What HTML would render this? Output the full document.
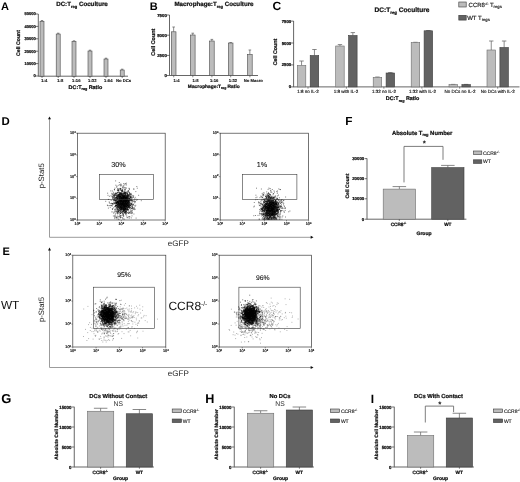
<!DOCTYPE html>
<html><head><meta charset="utf-8"><title>Figure</title>
<style>
html,body{margin:0;padding:0;background:#fff;}
body{width:520px;height:482px;overflow:hidden;font-family:"Liberation Sans",sans-serif;}
svg{display:block;font-family:"Liberation Sans",sans-serif;text-rendering:geometricPrecision;}
text{white-space:pre;}
</style></head><body>
<svg width="520" height="482" viewBox="0 0 520 482">
<rect width="520" height="482" fill="#fff"/>
<g filter="url(#bl)">
<text x="1.00" y="9.60" font-size="11" text-anchor="start" font-weight="bold" fill="#000">A</text>
<text x="82.00" y="6.20" font-size="6.2" text-anchor="middle" font-weight="bold" fill="#111" stroke="#111" stroke-width="0.24">DC:T<tspan font-size="4.0" dy="1.40">reg</tspan><tspan dy="-1.40">&#8203;</tspan> Coculture</text>
<line x1="38.30" y1="14.00" x2="38.30" y2="76.50" stroke="#555" stroke-width="0.9"/>
<line x1="35.70" y1="14.00" x2="38.30" y2="14.00" stroke="#3a3a3a" stroke-width="0.7"/>
<text x="35.80" y="15.48" font-size="4.1" text-anchor="end" font-weight="bold" fill="#111" stroke="#111" stroke-width="0.24">50000</text>
<line x1="35.70" y1="26.40" x2="38.30" y2="26.40" stroke="#3a3a3a" stroke-width="0.7"/>
<text x="35.80" y="27.88" font-size="4.1" text-anchor="end" font-weight="bold" fill="#111" stroke="#111" stroke-width="0.24">40000</text>
<line x1="35.70" y1="38.80" x2="38.30" y2="38.80" stroke="#3a3a3a" stroke-width="0.7"/>
<text x="35.80" y="40.28" font-size="4.1" text-anchor="end" font-weight="bold" fill="#111" stroke="#111" stroke-width="0.24">30000</text>
<line x1="35.70" y1="51.20" x2="38.30" y2="51.20" stroke="#3a3a3a" stroke-width="0.7"/>
<text x="35.80" y="52.68" font-size="4.1" text-anchor="end" font-weight="bold" fill="#111" stroke="#111" stroke-width="0.24">20000</text>
<line x1="35.70" y1="63.60" x2="38.30" y2="63.60" stroke="#3a3a3a" stroke-width="0.7"/>
<text x="35.80" y="65.08" font-size="4.1" text-anchor="end" font-weight="bold" fill="#111" stroke="#111" stroke-width="0.24">10000</text>
<line x1="35.70" y1="76.00" x2="38.30" y2="76.00" stroke="#3a3a3a" stroke-width="0.7"/>
<text x="35.80" y="77.48" font-size="4.1" text-anchor="end" font-weight="bold" fill="#111" stroke="#111" stroke-width="0.24">0</text>
<line x1="38.30" y1="76.20" x2="128.00" y2="76.20" stroke="#555" stroke-width="0.9"/>
<line x1="42.00" y1="21.30" x2="42.00" y2="20.50" stroke="#5a5a5a" stroke-width="0.7"/>
<line x1="40.80" y1="20.50" x2="43.20" y2="20.50" stroke="#6a6a6a" stroke-width="0.8"/>
<rect x="40.00" y="21.30" width="4.00" height="54.90" fill="#bcbcbc" stroke="#4a4a4a" stroke-width="0.6"/>
<line x1="42.00" y1="76.20" x2="42.00" y2="78.00" stroke="#3a3a3a" stroke-width="0.6"/>
<line x1="58.20" y1="34.00" x2="58.20" y2="33.20" stroke="#5a5a5a" stroke-width="0.7"/>
<line x1="57.00" y1="33.20" x2="59.40" y2="33.20" stroke="#6a6a6a" stroke-width="0.8"/>
<rect x="56.20" y="34.00" width="4.00" height="42.20" fill="#bcbcbc" stroke="#4a4a4a" stroke-width="0.6"/>
<line x1="58.20" y1="76.20" x2="58.20" y2="78.00" stroke="#3a3a3a" stroke-width="0.6"/>
<line x1="74.00" y1="41.60" x2="74.00" y2="40.80" stroke="#5a5a5a" stroke-width="0.7"/>
<line x1="72.80" y1="40.80" x2="75.20" y2="40.80" stroke="#6a6a6a" stroke-width="0.8"/>
<rect x="72.00" y="41.60" width="4.00" height="34.60" fill="#bcbcbc" stroke="#4a4a4a" stroke-width="0.6"/>
<line x1="74.00" y1="76.20" x2="74.00" y2="78.00" stroke="#3a3a3a" stroke-width="0.6"/>
<line x1="90.00" y1="51.00" x2="90.00" y2="50.20" stroke="#5a5a5a" stroke-width="0.7"/>
<line x1="88.80" y1="50.20" x2="91.20" y2="50.20" stroke="#6a6a6a" stroke-width="0.8"/>
<rect x="88.00" y="51.00" width="4.00" height="25.20" fill="#bcbcbc" stroke="#4a4a4a" stroke-width="0.6"/>
<line x1="90.00" y1="76.20" x2="90.00" y2="78.00" stroke="#3a3a3a" stroke-width="0.6"/>
<line x1="106.00" y1="59.00" x2="106.00" y2="58.20" stroke="#5a5a5a" stroke-width="0.7"/>
<line x1="104.80" y1="58.20" x2="107.20" y2="58.20" stroke="#6a6a6a" stroke-width="0.8"/>
<rect x="104.00" y="59.00" width="4.00" height="17.20" fill="#bcbcbc" stroke="#4a4a4a" stroke-width="0.6"/>
<line x1="106.00" y1="76.20" x2="106.00" y2="78.00" stroke="#3a3a3a" stroke-width="0.6"/>
<line x1="122.20" y1="70.00" x2="122.20" y2="69.20" stroke="#5a5a5a" stroke-width="0.7"/>
<line x1="121.00" y1="69.20" x2="123.40" y2="69.20" stroke="#6a6a6a" stroke-width="0.8"/>
<rect x="120.20" y="70.00" width="4.00" height="6.20" fill="#bcbcbc" stroke="#4a4a4a" stroke-width="0.6"/>
<line x1="122.20" y1="76.20" x2="122.20" y2="78.00" stroke="#3a3a3a" stroke-width="0.6"/>
<text x="44.30" y="82.20" font-size="4.2" text-anchor="middle" font-weight="bold" fill="#111" stroke="#111" stroke-width="0.1">1:4</text>
<text x="60.30" y="82.20" font-size="4.2" text-anchor="middle" font-weight="bold" fill="#111" stroke="#111" stroke-width="0.1">1:8</text>
<text x="76.30" y="82.20" font-size="4.2" text-anchor="middle" font-weight="bold" fill="#111" stroke="#111" stroke-width="0.1">1:16</text>
<text x="92.30" y="82.20" font-size="4.2" text-anchor="middle" font-weight="bold" fill="#111" stroke="#111" stroke-width="0.1">1:32</text>
<text x="108.30" y="82.20" font-size="4.2" text-anchor="middle" font-weight="bold" fill="#111" stroke="#111" stroke-width="0.1">1:64</text>
<text x="123.60" y="82.20" font-size="4.2" text-anchor="middle" font-weight="bold" fill="#111" stroke="#111" stroke-width="0.1">No DCs</text>
<text x="85.40" y="88.60" font-size="5.4" text-anchor="middle" font-weight="bold" fill="#111" stroke="#111" stroke-width="0.24">DC:T<tspan font-size="3.7" dy="1.29">reg</tspan><tspan dy="-1.29">&#8203;</tspan> Ratio</text>
<text transform="translate(20.20 43.00) rotate(-90) scale(1 1)" font-size="5.2" text-anchor="middle" font-weight="bold" fill="#111" stroke="#111" stroke-width="0.24">Cell Count</text>
<text x="149.80" y="9.60" font-size="11" text-anchor="start" font-weight="bold" fill="#000">B</text>
<text x="214.00" y="6.20" font-size="6.2" text-anchor="middle" font-weight="bold" fill="#111" stroke="#111" stroke-width="0.24">Macrophage:T<tspan font-size="4.0" dy="1.40">reg</tspan><tspan dy="-1.40">&#8203;</tspan> Coculture</text>
<line x1="169.50" y1="15.00" x2="169.50" y2="75.80" stroke="#555" stroke-width="0.9"/>
<line x1="166.90" y1="15.00" x2="169.50" y2="15.00" stroke="#3a3a3a" stroke-width="0.7"/>
<text x="166.80" y="16.55" font-size="4.3" text-anchor="end" font-weight="bold" fill="#111" stroke="#111" stroke-width="0.24">7500</text>
<line x1="166.90" y1="35.20" x2="169.50" y2="35.20" stroke="#3a3a3a" stroke-width="0.7"/>
<text x="166.80" y="36.75" font-size="4.3" text-anchor="end" font-weight="bold" fill="#111" stroke="#111" stroke-width="0.24">5000</text>
<line x1="166.90" y1="55.40" x2="169.50" y2="55.40" stroke="#3a3a3a" stroke-width="0.7"/>
<text x="166.80" y="56.95" font-size="4.3" text-anchor="end" font-weight="bold" fill="#111" stroke="#111" stroke-width="0.24">2500</text>
<line x1="166.90" y1="75.50" x2="169.50" y2="75.50" stroke="#3a3a3a" stroke-width="0.7"/>
<text x="166.80" y="77.05" font-size="4.3" text-anchor="end" font-weight="bold" fill="#111" stroke="#111" stroke-width="0.24">0</text>
<line x1="169.50" y1="75.50" x2="258.00" y2="75.50" stroke="#555" stroke-width="0.9"/>
<line x1="173.65" y1="31.80" x2="173.65" y2="27.00" stroke="#5a5a5a" stroke-width="0.7"/>
<line x1="172.35" y1="27.00" x2="174.95" y2="27.00" stroke="#6a6a6a" stroke-width="0.8"/>
<rect x="171.30" y="31.80" width="4.70" height="43.70" fill="#bcbcbc" stroke="#4a4a4a" stroke-width="0.6"/>
<line x1="173.70" y1="75.50" x2="173.70" y2="77.30" stroke="#3a3a3a" stroke-width="0.6"/>
<line x1="192.75" y1="35.00" x2="192.75" y2="33.20" stroke="#5a5a5a" stroke-width="0.7"/>
<line x1="191.45" y1="33.20" x2="194.05" y2="33.20" stroke="#6a6a6a" stroke-width="0.8"/>
<rect x="190.40" y="35.00" width="4.70" height="40.50" fill="#bcbcbc" stroke="#4a4a4a" stroke-width="0.6"/>
<line x1="192.80" y1="75.50" x2="192.80" y2="77.30" stroke="#3a3a3a" stroke-width="0.6"/>
<line x1="211.85" y1="41.00" x2="211.85" y2="39.40" stroke="#5a5a5a" stroke-width="0.7"/>
<line x1="210.55" y1="39.40" x2="213.15" y2="39.40" stroke="#6a6a6a" stroke-width="0.8"/>
<rect x="209.50" y="41.00" width="4.70" height="34.50" fill="#bcbcbc" stroke="#4a4a4a" stroke-width="0.6"/>
<line x1="211.90" y1="75.50" x2="211.90" y2="77.30" stroke="#3a3a3a" stroke-width="0.6"/>
<line x1="230.65" y1="43.00" x2="230.65" y2="42.60" stroke="#5a5a5a" stroke-width="0.7"/>
<line x1="229.35" y1="42.60" x2="231.95" y2="42.60" stroke="#6a6a6a" stroke-width="0.8"/>
<rect x="228.30" y="43.00" width="4.70" height="32.50" fill="#bcbcbc" stroke="#4a4a4a" stroke-width="0.6"/>
<line x1="230.70" y1="75.50" x2="230.70" y2="77.30" stroke="#3a3a3a" stroke-width="0.6"/>
<line x1="249.85" y1="54.50" x2="249.85" y2="50.00" stroke="#5a5a5a" stroke-width="0.7"/>
<line x1="248.55" y1="50.00" x2="251.15" y2="50.00" stroke="#6a6a6a" stroke-width="0.8"/>
<rect x="247.50" y="54.50" width="4.70" height="21.00" fill="#bcbcbc" stroke="#4a4a4a" stroke-width="0.6"/>
<line x1="249.90" y1="75.50" x2="249.90" y2="77.30" stroke="#3a3a3a" stroke-width="0.6"/>
<text x="176.60" y="81.80" font-size="4.2" text-anchor="middle" font-weight="bold" fill="#111" stroke="#111" stroke-width="0.1">1:4</text>
<text x="195.60" y="81.80" font-size="4.2" text-anchor="middle" font-weight="bold" fill="#111" stroke="#111" stroke-width="0.1">1:8</text>
<text x="214.20" y="81.80" font-size="4.2" text-anchor="middle" font-weight="bold" fill="#111" stroke="#111" stroke-width="0.1">1:16</text>
<text x="233.00" y="81.80" font-size="4.2" text-anchor="middle" font-weight="bold" fill="#111" stroke="#111" stroke-width="0.1">1:32</text>
<text x="253.40" y="81.80" font-size="4.2" text-anchor="middle" font-weight="bold" fill="#111" stroke="#111" stroke-width="0.1">No Macro</text>
<text x="213.80" y="87.60" font-size="4.85" text-anchor="middle" font-weight="bold" fill="#111" stroke="#111" stroke-width="0.24">Macrophage:T<tspan font-size="3.4" dy="1.19">reg</tspan><tspan dy="-1.19">&#8203;</tspan> Ratio</text>
<text transform="translate(154.80 42.20) rotate(-90) scale(1 1)" font-size="5.4" text-anchor="middle" font-weight="bold" fill="#111" stroke="#111" stroke-width="0.24">Cell Count</text>
<text x="272.40" y="10.00" font-size="12" text-anchor="start" font-weight="bold" fill="#000">C</text>
<text x="402.00" y="12.00" font-size="6.6" text-anchor="middle" font-weight="bold" fill="#111" stroke="#111" stroke-width="0.24">DC:T<tspan font-size="4.3" dy="1.50">reg</tspan><tspan dy="-1.50">&#8203;</tspan> Coculture</text>
<line x1="293.60" y1="21.00" x2="293.60" y2="87.20" stroke="#555" stroke-width="0.9"/>
<line x1="291.00" y1="21.10" x2="293.60" y2="21.10" stroke="#3a3a3a" stroke-width="0.7"/>
<text x="291.20" y="22.65" font-size="4.3" text-anchor="end" font-weight="bold" fill="#111" stroke="#111" stroke-width="0.24">7500</text>
<line x1="291.00" y1="43.00" x2="293.60" y2="43.00" stroke="#3a3a3a" stroke-width="0.7"/>
<text x="291.20" y="44.55" font-size="4.3" text-anchor="end" font-weight="bold" fill="#111" stroke="#111" stroke-width="0.24">5000</text>
<line x1="291.00" y1="64.90" x2="293.60" y2="64.90" stroke="#3a3a3a" stroke-width="0.7"/>
<text x="291.20" y="66.45" font-size="4.3" text-anchor="end" font-weight="bold" fill="#111" stroke="#111" stroke-width="0.24">2500</text>
<line x1="291.00" y1="86.90" x2="293.60" y2="86.90" stroke="#3a3a3a" stroke-width="0.7"/>
<text x="291.20" y="88.45" font-size="4.3" text-anchor="end" font-weight="bold" fill="#111" stroke="#111" stroke-width="0.24">0</text>
<line x1="293.60" y1="86.90" x2="519.50" y2="86.90" stroke="#555" stroke-width="0.9"/>
<line x1="301.55" y1="65.50" x2="301.55" y2="61.00" stroke="#5a5a5a" stroke-width="0.7"/>
<line x1="299.35" y1="61.00" x2="303.75" y2="61.00" stroke="#6a6a6a" stroke-width="0.8"/>
<rect x="297.30" y="65.50" width="8.50" height="21.40" fill="#bcbcbc" stroke="#6c6c6c" stroke-width="0.6"/>
<line x1="314.45" y1="55.50" x2="314.45" y2="49.50" stroke="#5a5a5a" stroke-width="0.7"/>
<line x1="312.25" y1="49.50" x2="316.65" y2="49.50" stroke="#6a6a6a" stroke-width="0.8"/>
<rect x="310.20" y="55.50" width="8.50" height="31.40" fill="#626262" stroke="#3c3c3c" stroke-width="0.6"/>
<line x1="308.00" y1="86.90" x2="308.00" y2="88.70" stroke="#3a3a3a" stroke-width="0.6"/>
<line x1="339.95" y1="46.00" x2="339.95" y2="44.60" stroke="#5a5a5a" stroke-width="0.7"/>
<line x1="337.75" y1="44.60" x2="342.15" y2="44.60" stroke="#6a6a6a" stroke-width="0.8"/>
<rect x="335.70" y="46.00" width="8.50" height="40.90" fill="#bcbcbc" stroke="#6c6c6c" stroke-width="0.6"/>
<line x1="352.85" y1="35.50" x2="352.85" y2="32.60" stroke="#5a5a5a" stroke-width="0.7"/>
<line x1="350.65" y1="32.60" x2="355.05" y2="32.60" stroke="#6a6a6a" stroke-width="0.8"/>
<rect x="348.60" y="35.50" width="8.50" height="51.40" fill="#626262" stroke="#3c3c3c" stroke-width="0.6"/>
<line x1="346.40" y1="86.90" x2="346.40" y2="88.70" stroke="#3a3a3a" stroke-width="0.6"/>
<line x1="377.45" y1="77.40" x2="377.45" y2="77.00" stroke="#5a5a5a" stroke-width="0.7"/>
<line x1="375.25" y1="77.00" x2="379.65" y2="77.00" stroke="#6a6a6a" stroke-width="0.8"/>
<rect x="373.20" y="77.40" width="8.50" height="9.50" fill="#bcbcbc" stroke="#6c6c6c" stroke-width="0.6"/>
<line x1="390.35" y1="73.00" x2="390.35" y2="72.60" stroke="#5a5a5a" stroke-width="0.7"/>
<line x1="388.15" y1="72.60" x2="392.55" y2="72.60" stroke="#6a6a6a" stroke-width="0.8"/>
<rect x="386.10" y="73.00" width="8.50" height="13.90" fill="#626262" stroke="#3c3c3c" stroke-width="0.6"/>
<line x1="383.90" y1="86.90" x2="383.90" y2="88.70" stroke="#3a3a3a" stroke-width="0.6"/>
<line x1="415.45" y1="42.60" x2="415.45" y2="42.30" stroke="#5a5a5a" stroke-width="0.7"/>
<line x1="413.25" y1="42.30" x2="417.65" y2="42.30" stroke="#6a6a6a" stroke-width="0.8"/>
<rect x="411.20" y="42.60" width="8.50" height="44.30" fill="#bcbcbc" stroke="#6c6c6c" stroke-width="0.6"/>
<line x1="428.35" y1="30.80" x2="428.35" y2="30.50" stroke="#5a5a5a" stroke-width="0.7"/>
<line x1="426.15" y1="30.50" x2="430.55" y2="30.50" stroke="#6a6a6a" stroke-width="0.8"/>
<rect x="424.10" y="30.80" width="8.50" height="56.10" fill="#626262" stroke="#3c3c3c" stroke-width="0.6"/>
<line x1="421.90" y1="86.90" x2="421.90" y2="88.70" stroke="#3a3a3a" stroke-width="0.6"/>
<line x1="453.25" y1="84.60" x2="453.25" y2="84.40" stroke="#5a5a5a" stroke-width="0.7"/>
<line x1="451.05" y1="84.40" x2="455.45" y2="84.40" stroke="#6a6a6a" stroke-width="0.8"/>
<rect x="449.00" y="84.60" width="8.50" height="2.30" fill="#bcbcbc" stroke="#6c6c6c" stroke-width="0.6"/>
<line x1="466.15" y1="84.60" x2="466.15" y2="84.40" stroke="#5a5a5a" stroke-width="0.7"/>
<line x1="463.95" y1="84.40" x2="468.35" y2="84.40" stroke="#6a6a6a" stroke-width="0.8"/>
<rect x="461.90" y="84.60" width="8.50" height="2.30" fill="#626262" stroke="#3c3c3c" stroke-width="0.6"/>
<line x1="459.70" y1="86.90" x2="459.70" y2="88.70" stroke="#3a3a3a" stroke-width="0.6"/>
<line x1="491.25" y1="50.00" x2="491.25" y2="41.00" stroke="#5a5a5a" stroke-width="0.7"/>
<line x1="489.05" y1="41.00" x2="493.45" y2="41.00" stroke="#6a6a6a" stroke-width="0.8"/>
<rect x="487.00" y="50.00" width="8.50" height="36.90" fill="#bcbcbc" stroke="#6c6c6c" stroke-width="0.6"/>
<line x1="504.15" y1="47.50" x2="504.15" y2="41.00" stroke="#5a5a5a" stroke-width="0.7"/>
<line x1="501.95" y1="41.00" x2="506.35" y2="41.00" stroke="#6a6a6a" stroke-width="0.8"/>
<rect x="499.90" y="47.50" width="8.50" height="39.40" fill="#626262" stroke="#3c3c3c" stroke-width="0.6"/>
<line x1="497.70" y1="86.90" x2="497.70" y2="88.70" stroke="#3a3a3a" stroke-width="0.6"/>
<text x="308.00" y="92.90" font-size="4.5" text-anchor="middle" font-weight="normal" fill="#111" stroke="#111" stroke-width="0.14">1:8 no IL-2</text>
<text x="346.00" y="92.90" font-size="4.5" text-anchor="middle" font-weight="normal" fill="#111" stroke="#111" stroke-width="0.14">1:8 with IL-2</text>
<text x="384.00" y="92.90" font-size="4.5" text-anchor="middle" font-weight="normal" fill="#111" stroke="#111" stroke-width="0.14">1:32 no IL-2</text>
<text x="422.50" y="92.90" font-size="4.5" text-anchor="middle" font-weight="normal" fill="#111" stroke="#111" stroke-width="0.14">1:32 with IL-2</text>
<text x="460.00" y="92.90" font-size="4.5" text-anchor="middle" font-weight="normal" fill="#111" stroke="#111" stroke-width="0.14">No DCs no IL-2</text>
<text x="497.80" y="92.90" font-size="4.5" text-anchor="middle" font-weight="normal" fill="#111" stroke="#111" stroke-width="0.14">No DCs with IL-2</text>
<text x="402.60" y="100.40" font-size="5.4" text-anchor="middle" font-weight="bold" fill="#111" stroke="#111" stroke-width="0.24">DC:T<tspan font-size="3.7" dy="1.29">reg</tspan><tspan dy="-1.29">&#8203;</tspan> Ratio</text>
<text transform="translate(277.20 52.00) rotate(-90) scale(1 1)" font-size="5.3" text-anchor="middle" font-weight="bold" fill="#111" stroke="#111" stroke-width="0.24">Cell Count</text>
<rect x="458.8" y="2" width="7.4" height="5" fill="#bcbcbc" stroke="#3a3a3a" stroke-width="0.6"/>
<text x="468.60" y="6.70" font-size="6" text-anchor="start" font-weight="normal" fill="#111" stroke="#111" stroke-width="0.15">CCR8<tspan font-size="3.6" dy="-1.98">-/-</tspan><tspan dy="1.98">&#8203;</tspan> T<tspan font-size="4.2" dy="1.47">regs</tspan><tspan dy="-1.47">&#8203;</tspan></text>
<rect x="458.8" y="15.3" width="7.4" height="4.8" fill="#626262" stroke="#3a3a3a" stroke-width="0.6"/>
<text x="467.20" y="19.70" font-size="6" text-anchor="start" font-weight="normal" fill="#111" stroke="#111" stroke-width="0.15">WT T<tspan font-size="4.2" dy="1.47">regs</tspan><tspan dy="-1.47">&#8203;</tspan></text>
<text x="1.60" y="125.00" font-size="11.4" text-anchor="start" font-weight="bold" fill="#000">D</text>
<line x1="49.50" y1="118.50" x2="49.50" y2="237.30" stroke="#9c9c9c" stroke-width="1.0"/>
<path d="M49.5 116.5l-1.5 2.8h3z" fill="#111"/>
<line x1="49.50" y1="237.30" x2="311.50" y2="237.30" stroke="#9c9c9c" stroke-width="1.0"/>
<path d="M313.5 237.3l-2.8 -1.5v3z" fill="#111"/>
<text transform="translate(43.70 175.80) rotate(-90) scale(1 1)" font-size="7.8" text-anchor="middle" font-weight="normal" fill="#222">p-Stat5</text>
<text x="178.30" y="246.00" font-size="8" text-anchor="middle" font-weight="normal" fill="#222">eGFP</text>
<path d="M118.3 203.9h.01M126.8 199.4h.01M117.9 201.7h.01M124.8 207.5h.01M118.4 195.5h.01M125.7 204.4h.01M128.8 206.9h.01M122.6 200.6h.01M132.8 200.6h.01M120.0 196.3h.01M123.4 202.7h.01M121.7 201.7h.01M124.0 205.5h.01M127.2 203.0h.01M116.2 205.5h.01M117.6 201.1h.01M117.4 202.0h.01M120.0 203.1h.01M135.5 201.8h.01M126.2 195.4h.01M121.9 205.3h.01M122.6 203.9h.01M123.4 197.0h.01M125.1 197.9h.01M130.1 199.5h.01M125.6 202.0h.01M126.6 199.0h.01M126.8 201.4h.01M127.8 205.1h.01M123.5 198.1h.01M125.9 204.3h.01M129.2 200.1h.01M125.1 204.5h.01M124.1 203.0h.01M123.7 199.0h.01M119.1 200.0h.01M125.2 209.6h.01M126.7 207.3h.01M126.0 205.5h.01M123.7 205.9h.01M129.7 200.4h.01M120.4 211.8h.01M123.9 206.9h.01M126.3 196.3h.01M132.2 210.9h.01M123.7 205.8h.01M123.5 197.6h.01M122.6 203.9h.01M127.2 205.5h.01M123.2 208.8h.01M120.1 206.0h.01M127.2 200.5h.01M116.2 197.5h.01M123.9 204.6h.01M128.9 197.0h.01M123.0 205.2h.01M122.4 190.2h.01M126.1 213.6h.01M126.8 197.4h.01M121.4 203.1h.01M132.5 205.1h.01M123.4 209.8h.01M122.7 211.3h.01M120.4 199.6h.01M125.7 209.1h.01M125.5 203.5h.01M116.1 198.4h.01M120.7 199.3h.01M125.2 200.3h.01M126.0 202.4h.01M121.7 202.6h.01M124.6 206.3h.01M121.2 200.8h.01M117.8 210.0h.01M128.5 201.1h.01M121.2 195.8h.01M123.6 203.0h.01M131.3 203.2h.01M120.0 189.8h.01M128.4 202.9h.01M116.9 202.9h.01M116.9 218.8h.01M121.2 208.6h.01M119.4 199.5h.01M116.5 206.0h.01M121.2 197.7h.01M115.5 205.6h.01M120.1 204.5h.01M115.7 195.7h.01M120.6 197.1h.01M126.4 200.4h.01M122.0 191.9h.01M113.8 207.9h.01M118.8 195.8h.01M127.0 197.3h.01M121.0 203.1h.01M121.6 202.0h.01M122.1 197.4h.01M120.4 203.0h.01M128.8 195.1h.01M123.1 205.4h.01M121.6 206.2h.01M123.2 200.5h.01M120.7 207.3h.01M130.2 199.1h.01M119.5 205.5h.01M120.9 200.3h.01M120.8 193.8h.01M125.9 210.8h.01M119.0 197.1h.01M126.3 200.9h.01M124.9 192.5h.01M123.2 206.6h.01M118.1 205.8h.01M122.1 204.7h.01M126.6 201.5h.01M125.6 196.0h.01M125.7 197.7h.01M123.1 209.5h.01M113.9 200.1h.01M123.4 212.0h.01M124.5 209.6h.01M124.5 198.1h.01M121.6 202.3h.01M122.3 205.6h.01M126.2 211.3h.01M124.1 202.2h.01M125.1 208.7h.01M124.6 195.3h.01M124.8 196.9h.01M117.3 209.3h.01M121.5 203.8h.01M127.1 202.3h.01M123.5 194.2h.01M124.0 203.7h.01M125.7 197.6h.01M127.8 195.2h.01M122.3 202.2h.01M119.2 204.8h.01M115.0 211.9h.01M127.6 201.5h.01M121.0 195.3h.01M124.5 206.1h.01M121.0 192.7h.01M119.7 205.5h.01M114.3 194.9h.01M124.2 204.2h.01M128.8 205.0h.01M118.1 201.3h.01M120.4 213.3h.01M116.7 208.1h.01M122.3 203.1h.01M119.8 210.3h.01M119.0 200.8h.01M124.3 196.1h.01M124.7 202.7h.01M118.6 211.0h.01M124.2 210.3h.01M125.7 204.1h.01M126.0 202.6h.01M121.0 205.6h.01M126.7 200.4h.01M115.8 197.5h.01M114.5 189.8h.01M123.4 205.0h.01M124.4 197.9h.01M122.5 201.1h.01M117.6 192.5h.01M122.0 198.0h.01M121.8 194.9h.01M128.0 204.8h.01M121.5 209.8h.01M114.9 195.6h.01M122.2 203.9h.01M127.5 195.2h.01M122.9 215.0h.01M124.7 197.0h.01M122.6 204.0h.01M118.4 194.3h.01M123.3 207.7h.01M124.9 191.3h.01M127.9 205.5h.01M121.6 199.4h.01M123.3 193.6h.01M125.8 206.6h.01M120.5 200.7h.01M125.3 193.6h.01M117.2 208.0h.01M127.8 205.3h.01M123.4 203.1h.01M128.7 199.9h.01M126.2 200.3h.01M121.8 201.7h.01M121.1 198.2h.01M122.8 204.0h.01M127.4 197.5h.01M124.4 196.7h.01M125.4 203.8h.01M125.2 197.2h.01M119.0 192.4h.01M121.6 194.5h.01M118.2 202.9h.01M129.2 206.0h.01M115.4 200.3h.01M126.0 205.1h.01M121.8 212.5h.01M122.9 204.5h.01M125.1 201.4h.01M120.1 209.7h.01M127.1 194.2h.01M126.2 205.6h.01M125.7 201.6h.01M122.3 204.3h.01M128.5 213.2h.01M117.7 206.4h.01M126.0 202.3h.01M118.5 200.7h.01M120.7 204.1h.01M123.8 208.2h.01M124.1 195.5h.01M122.5 203.9h.01M124.9 204.7h.01M130.0 213.4h.01M122.5 203.5h.01M123.8 207.3h.01M121.7 202.4h.01M119.6 196.1h.01M123.9 195.9h.01M125.2 209.7h.01M123.5 203.8h.01M121.0 194.1h.01M124.8 199.3h.01M124.4 205.0h.01M126.9 212.5h.01M123.8 204.5h.01M117.4 206.5h.01M118.9 196.4h.01M125.9 187.8h.01M122.7 203.3h.01M120.2 209.0h.01M119.7 203.6h.01M116.1 193.2h.01M127.5 207.6h.01M119.0 202.9h.01M116.6 195.4h.01M126.4 206.1h.01M124.5 201.3h.01M123.1 197.6h.01M127.3 199.4h.01M121.1 209.0h.01M121.1 198.2h.01M127.8 196.4h.01M121.0 185.6h.01M133.4 197.1h.01M118.4 203.0h.01M112.4 208.8h.01M123.8 201.7h.01M120.1 200.7h.01M123.7 203.6h.01M126.5 205.1h.01M124.7 207.2h.01M120.3 188.9h.01M122.5 187.2h.01M117.9 196.1h.01M117.7 208.0h.01M125.4 202.1h.01M121.8 204.7h.01M122.0 199.0h.01M123.4 195.1h.01M123.1 213.2h.01M126.3 196.6h.01M125.2 198.1h.01M120.9 200.4h.01M128.4 198.2h.01M121.8 201.1h.01M119.9 205.7h.01M123.3 204.8h.01M123.6 202.1h.01M119.2 208.6h.01M119.2 216.2h.01M126.5 203.8h.01M122.5 206.4h.01M120.7 188.7h.01M124.4 202.2h.01M127.6 209.4h.01M120.7 188.4h.01M125.1 204.8h.01M118.3 207.2h.01M126.5 198.8h.01M123.7 207.8h.01M124.5 205.8h.01M125.9 199.3h.01M119.4 201.5h.01M128.0 194.4h.01M126.2 184.9h.01M120.5 209.8h.01M121.2 202.2h.01M124.9 208.8h.01M118.8 198.7h.01M120.5 201.0h.01M128.7 195.9h.01M121.0 196.4h.01M118.3 203.4h.01M125.7 213.0h.01M121.9 203.0h.01M122.3 205.7h.01M124.1 195.8h.01M125.4 207.0h.01M125.8 203.9h.01M123.7 199.2h.01M118.7 198.7h.01M120.3 198.6h.01M123.4 197.4h.01M128.2 203.0h.01M121.7 208.6h.01M127.7 195.9h.01M118.4 203.2h.01M126.9 201.5h.01M129.9 197.1h.01M127.1 206.4h.01M122.8 194.1h.01M121.1 206.6h.01M121.1 200.5h.01M124.3 203.4h.01M121.9 207.6h.01M125.4 194.4h.01M123.5 199.4h.01M129.3 205.1h.01M124.2 200.9h.01M121.7 199.3h.01M128.8 200.6h.01M120.1 204.9h.01M125.8 201.3h.01M119.4 207.8h.01M127.0 191.8h.01M119.4 212.3h.01M119.9 193.7h.01M125.6 200.5h.01M126.1 192.6h.01M128.2 205.0h.01M121.2 198.9h.01M125.8 198.7h.01M125.9 199.5h.01M124.6 193.8h.01M120.4 192.8h.01M121.2 199.1h.01M122.1 202.6h.01M115.2 201.8h.01M123.8 195.8h.01M122.5 190.1h.01M118.9 196.7h.01M117.4 207.8h.01M124.9 202.5h.01M121.5 209.1h.01M126.0 203.7h.01M122.1 200.1h.01M121.4 201.8h.01M117.5 202.1h.01M125.7 202.6h.01M118.4 202.5h.01M119.2 195.1h.01M131.5 199.3h.01M119.1 194.2h.01M121.6 199.1h.01M114.9 194.1h.01M126.8 197.1h.01M116.5 205.3h.01M116.2 211.6h.01M116.8 198.1h.01M119.4 199.8h.01M116.4 197.4h.01M124.9 207.0h.01M128.0 206.8h.01M122.8 203.7h.01M125.2 198.3h.01M124.4 203.7h.01M122.7 201.1h.01M124.8 196.8h.01M117.7 202.8h.01M124.2 195.6h.01M124.3 203.1h.01M122.4 204.5h.01M124.5 202.7h.01M125.7 200.6h.01M118.0 202.5h.01M125.4 201.4h.01M125.3 202.2h.01M119.7 193.2h.01M120.9 198.1h.01M123.4 210.4h.01M117.5 198.6h.01M127.0 207.5h.01M121.8 202.3h.01M124.2 210.5h.01M120.8 197.4h.01M126.1 198.0h.01M122.7 209.3h.01M122.7 202.1h.01M123.6 197.3h.01M123.6 204.3h.01M117.3 199.7h.01M121.6 204.4h.01M125.8 201.4h.01M130.7 194.9h.01M122.5 205.9h.01M122.9 199.2h.01M122.5 202.0h.01M122.8 206.2h.01M116.4 202.9h.01M121.6 201.0h.01M129.0 206.7h.01M125.5 189.8h.01M124.9 193.6h.01M119.1 199.1h.01M129.3 192.3h.01M127.2 209.9h.01M126.8 203.6h.01M127.6 199.1h.01M122.6 204.1h.01M120.1 201.3h.01M124.4 200.1h.01M127.0 201.0h.01M119.5 201.1h.01M121.3 197.6h.01M125.6 211.2h.01M121.5 201.6h.01M122.5 196.4h.01M127.2 202.5h.01M127.9 201.3h.01M123.1 211.0h.01M122.6 203.9h.01M128.1 200.8h.01M126.6 197.9h.01M122.2 199.4h.01M126.2 200.1h.01M120.5 204.5h.01M128.9 196.2h.01M131.0 194.6h.01M120.7 197.4h.01M129.2 204.3h.01M124.1 208.2h.01M126.2 201.2h.01M120.7 194.2h.01M127.2 200.2h.01M122.1 202.4h.01M125.2 205.6h.01M125.7 212.1h.01M126.8 196.6h.01M125.0 196.9h.01M117.8 204.1h.01M119.6 199.5h.01M126.4 207.0h.01M123.4 197.6h.01M112.8 203.8h.01M117.6 201.2h.01M122.5 199.8h.01M126.0 200.6h.01M121.5 197.7h.01M126.2 204.2h.01M116.1 199.8h.01M121.6 203.1h.01M114.8 197.6h.01M121.9 199.2h.01M123.0 198.6h.01M112.1 194.1h.01M122.4 203.7h.01M120.8 208.6h.01M121.2 202.7h.01M124.5 202.2h.01M128.0 200.5h.01M119.8 206.3h.01M121.4 199.5h.01M123.5 204.7h.01M122.7 207.2h.01M120.3 196.1h.01M121.2 201.0h.01M131.3 211.2h.01M122.7 199.9h.01M121.8 203.9h.01M120.2 205.0h.01M121.3 193.6h.01M119.8 204.5h.01M127.4 203.1h.01M123.4 208.3h.01M133.1 208.8h.01M120.9 199.4h.01M128.3 201.6h.01M119.3 194.4h.01M119.3 205.3h.01M123.3 199.3h.01M123.4 197.1h.01M126.2 204.8h.01M127.1 201.4h.01M127.9 198.5h.01M127.7 209.2h.01M124.3 209.8h.01M130.6 197.4h.01M120.5 196.1h.01M125.8 198.9h.01M117.1 202.1h.01M118.6 211.5h.01M122.8 205.1h.01M119.9 196.1h.01M125.0 207.1h.01M120.4 196.7h.01M122.4 205.6h.01M121.1 209.6h.01M125.1 208.6h.01M119.4 195.2h.01M119.4 199.7h.01M127.8 204.3h.01M123.8 196.4h.01M124.5 200.7h.01M123.8 199.9h.01M118.6 202.3h.01M126.2 199.1h.01M124.7 212.0h.01M126.5 209.2h.01M121.8 205.5h.01M120.0 203.2h.01M120.5 201.9h.01M118.1 203.9h.01M122.0 202.7h.01M121.1 190.1h.01M120.8 205.7h.01M123.0 200.7h.01M126.2 211.8h.01M126.1 204.0h.01M119.5 197.9h.01M127.0 203.2h.01M123.3 205.4h.01M121.1 190.3h.01M123.1 207.6h.01M122.4 203.1h.01M126.1 211.4h.01M119.2 205.2h.01M129.8 198.6h.01M126.4 206.9h.01M129.9 205.4h.01M122.9 199.8h.01M121.2 203.2h.01M122.2 208.3h.01M126.8 197.9h.01M130.5 207.4h.01M118.6 207.1h.01M127.4 207.0h.01M121.4 205.1h.01M124.3 199.2h.01M128.6 203.0h.01M125.3 202.7h.01M128.6 203.2h.01M119.4 196.5h.01M116.3 199.0h.01M121.5 198.4h.01M131.2 200.0h.01M120.3 200.6h.01M121.7 207.4h.01M122.6 195.9h.01M122.2 208.5h.01M124.4 201.2h.01M125.8 202.7h.01M121.5 200.2h.01M129.2 202.1h.01M126.1 198.9h.01M122.3 213.8h.01M116.2 207.4h.01M123.9 202.0h.01M119.3 207.3h.01M121.1 204.7h.01M127.4 199.1h.01M120.2 197.2h.01M117.4 196.1h.01M122.5 206.3h.01M118.2 189.8h.01M121.8 206.0h.01M128.9 205.5h.01M127.5 202.5h.01M127.1 203.3h.01M116.4 202.9h.01M120.3 198.5h.01M123.2 196.9h.01M120.8 208.6h.01M124.1 200.6h.01M118.2 204.2h.01M121.3 202.5h.01M123.6 196.7h.01M123.1 198.4h.01M124.1 202.6h.01M121.6 207.4h.01M120.3 193.5h.01M121.2 202.2h.01M125.1 201.5h.01M124.0 199.3h.01M127.9 198.1h.01M122.5 200.2h.01M122.1 203.3h.01M120.9 201.9h.01M125.2 198.6h.01M116.3 202.4h.01M121.7 198.0h.01M124.9 204.8h.01M132.9 207.6h.01M124.2 203.0h.01M111.9 205.4h.01M126.3 202.0h.01M121.9 202.6h.01M131.0 205.1h.01M125.9 200.4h.01M126.8 203.2h.01M123.5 210.5h.01M122.8 201.6h.01M120.3 201.9h.01M127.8 202.3h.01M127.2 206.3h.01M121.5 194.7h.01M132.2 200.9h.01M122.3 196.1h.01M126.1 206.3h.01M124.3 198.6h.01M115.9 193.2h.01M118.7 197.1h.01M123.9 204.7h.01M119.9 202.7h.01M120.4 200.2h.01M125.0 199.2h.01M122.3 203.0h.01M125.5 197.8h.01M123.7 187.0h.01M126.9 197.7h.01M116.2 203.4h.01M126.6 208.9h.01M125.6 199.4h.01M125.3 205.1h.01M123.3 201.6h.01M126.8 209.0h.01M120.2 201.4h.01M126.6 208.7h.01M130.3 196.6h.01M128.0 200.2h.01M114.8 206.4h.01M123.4 200.4h.01M124.1 205.3h.01M120.7 202.8h.01M118.4 206.7h.01M124.3 202.1h.01M124.1 205.9h.01M127.2 206.2h.01M123.7 196.4h.01M125.2 207.1h.01M127.5 201.5h.01M129.1 200.6h.01M121.1 203.1h.01M126.0 200.8h.01M119.2 194.4h.01M128.0 202.6h.01M126.1 200.0h.01M125.2 203.1h.01M123.2 197.6h.01M119.4 206.9h.01M113.3 199.8h.01M128.4 205.0h.01M121.7 199.2h.01M117.8 211.7h.01M120.9 202.7h.01M128.4 206.5h.01M125.1 200.6h.01M123.8 198.7h.01M125.3 197.9h.01M123.1 204.8h.01M126.2 199.0h.01M123.4 200.1h.01M120.6 205.8h.01M124.9 199.5h.01M124.0 195.3h.01M120.1 194.7h.01M121.1 206.9h.01M123.5 200.8h.01M124.0 200.6h.01M123.7 195.4h.01M123.1 197.6h.01M123.7 202.0h.01M123.8 196.0h.01M129.6 198.4h.01M121.8 200.4h.01M120.9 195.2h.01M124.0 206.6h.01M122.0 191.4h.01M118.8 202.9h.01M117.7 198.3h.01M120.3 198.5h.01M124.5 206.9h.01M116.1 193.9h.01M128.6 204.6h.01M123.5 197.7h.01M122.9 193.2h.01M131.0 203.9h.01M125.0 203.0h.01M128.7 202.0h.01M123.2 197.2h.01M122.0 202.4h.01M127.4 198.3h.01M119.1 197.4h.01M119.6 208.4h.01M114.3 199.7h.01M126.0 205.3h.01M120.8 200.4h.01M117.3 197.0h.01M114.0 203.3h.01M121.0 197.8h.01M119.9 197.6h.01M121.6 200.2h.01M129.2 198.4h.01M122.4 202.0h.01M126.4 204.6h.01M127.1 203.3h.01M124.0 204.1h.01M123.7 201.3h.01M121.2 193.8h.01M125.0 199.0h.01M123.3 208.7h.01M117.3 205.6h.01M124.0 193.1h.01M122.7 195.8h.01M126.8 201.9h.01M129.0 199.9h.01M126.0 202.6h.01M115.7 205.1h.01M118.7 195.1h.01M125.8 195.2h.01M118.0 202.8h.01M121.1 196.7h.01M126.9 202.4h.01M125.4 208.6h.01M123.4 214.4h.01M119.3 207.1h.01M127.3 195.8h.01M125.6 192.7h.01M128.3 203.6h.01M122.9 201.4h.01M121.1 206.0h.01M123.8 200.1h.01M111.0 205.3h.01M125.3 208.2h.01M123.8 197.2h.01M123.4 198.7h.01M129.4 204.2h.01M120.4 196.6h.01M126.3 203.4h.01M112.4 196.1h.01M126.7 193.4h.01M121.1 203.9h.01M124.9 211.1h.01M128.5 202.0h.01M127.4 205.2h.01M125.3 208.4h.01M123.6 206.3h.01M127.2 201.5h.01M125.7 197.3h.01M123.4 201.9h.01M124.2 211.7h.01M126.2 201.3h.01M124.4 204.4h.01M127.0 205.4h.01M123.0 205.9h.01M119.8 194.2h.01M126.5 200.6h.01M123.8 195.1h.01M121.3 199.1h.01M120.9 211.3h.01M120.2 207.4h.01M122.9 206.0h.01M117.7 202.5h.01M123.8 203.2h.01M124.7 206.2h.01M124.6 202.1h.01M119.7 201.3h.01M123.0 205.1h.01M132.3 208.1h.01M123.3 205.3h.01M116.7 201.5h.01M119.2 205.1h.01M116.3 203.6h.01M112.0 211.9h.01M128.5 195.6h.01M126.4 202.0h.01M131.3 208.5h.01M123.7 202.7h.01M126.7 197.0h.01M127.1 203.8h.01M119.6 199.0h.01M120.3 200.0h.01M131.1 201.0h.01M124.5 197.8h.01M128.4 204.0h.01M129.1 194.8h.01M121.4 203.0h.01M124.6 204.9h.01M125.8 201.4h.01M123.2 196.9h.01M122.9 199.3h.01M127.2 205.2h.01M122.2 205.2h.01M120.7 202.1h.01M121.2 207.3h.01M122.7 205.4h.01M122.4 195.4h.01M126.2 203.8h.01M125.7 196.6h.01M114.7 200.6h.01M125.2 192.6h.01M132.0 206.2h.01M127.3 196.8h.01M126.8 203.6h.01M128.1 209.5h.01M118.1 197.9h.01M119.7 199.8h.01M122.2 206.0h.01M118.0 194.9h.01M124.6 197.7h.01M124.8 202.8h.01M128.1 196.6h.01M121.0 208.9h.01M124.1 195.7h.01M124.7 192.4h.01M118.1 205.2h.01M126.5 210.2h.01M122.7 198.9h.01M128.7 207.1h.01M122.7 203.8h.01M121.5 207.8h.01M122.7 203.0h.01M130.2 195.0h.01M115.8 206.3h.01M117.0 186.1h.01M122.1 211.3h.01M126.0 201.1h.01M120.2 203.9h.01M119.1 192.2h.01M121.3 203.3h.01M125.9 200.8h.01M121.8 193.7h.01M120.7 198.3h.01M123.2 205.0h.01M115.9 202.8h.01M118.2 209.4h.01M119.2 204.8h.01M126.0 203.1h.01M123.6 196.3h.01M129.3 203.3h.01M121.4 204.1h.01M126.4 206.0h.01M118.7 203.6h.01M122.2 205.4h.01M122.8 195.0h.01M117.4 201.5h.01M120.5 199.4h.01M119.5 206.5h.01M123.3 199.2h.01M127.9 200.8h.01M128.1 200.9h.01M120.7 207.3h.01M127.2 199.4h.01M123.4 210.9h.01M129.0 198.4h.01M120.7 207.4h.01M134.6 199.1h.01M117.2 199.2h.01M125.5 199.6h.01M124.2 198.4h.01M120.1 204.2h.01M119.5 196.3h.01M124.2 206.3h.01M121.7 200.9h.01M120.3 198.4h.01M121.5 204.9h.01M120.8 206.6h.01M118.5 190.8h.01M125.5 195.7h.01M127.1 197.6h.01M120.5 206.8h.01M124.6 200.9h.01M127.0 206.0h.01M122.1 199.5h.01M117.7 202.2h.01M126.9 209.2h.01M129.0 201.9h.01M127.0 197.0h.01M128.9 205.9h.01M118.9 199.8h.01M122.5 203.7h.01M122.0 198.8h.01M125.8 200.7h.01M117.4 196.1h.01M129.7 203.0h.01M122.7 198.2h.01M119.8 198.4h.01M126.2 199.0h.01M128.2 191.5h.01M116.8 217.5h.01M121.2 194.6h.01M127.4 197.4h.01M118.2 203.9h.01M123.0 197.1h.01M123.9 200.0h.01M120.8 205.4h.01M122.8 200.1h.01M124.5 195.5h.01M126.8 204.6h.01M124.2 197.9h.01M118.7 201.8h.01M120.1 205.0h.01M117.3 202.4h.01M121.1 201.1h.01M123.1 209.6h.01M115.9 202.9h.01M122.5 198.3h.01M126.8 199.6h.01M122.6 203.0h.01M119.9 199.4h.01M122.9 199.6h.01M122.2 207.1h.01M125.4 199.6h.01M129.3 202.1h.01M126.9 205.3h.01M123.9 195.9h.01M124.5 192.6h.01M124.9 209.7h.01M127.5 209.5h.01M131.3 197.0h.01M122.4 194.4h.01M118.1 207.0h.01M122.1 204.9h.01M123.1 205.4h.01M117.4 201.3h.01M120.8 200.8h.01M122.8 205.3h.01M125.1 209.0h.01M121.9 202.9h.01M122.0 200.3h.01M123.8 201.8h.01M124.8 205.9h.01M121.3 194.7h.01M123.4 211.2h.01M117.0 196.6h.01M121.1 206.1h.01M120.8 199.5h.01M128.9 201.8h.01M126.6 196.9h.01M124.9 198.7h.01M126.1 200.5h.01" stroke="#0c0c0c" stroke-width="0.75" stroke-linecap="square" fill="none" opacity="0.9"/>
<path d="M123.6 203.9h.01M121.2 193.1h.01M121.7 198.1h.01M125.5 208.5h.01M126.4 199.1h.01M129.3 204.1h.01M132.9 201.5h.01M123.1 186.0h.01M131.7 212.7h.01M123.4 209.5h.01M121.6 196.5h.01M119.7 199.2h.01M130.8 196.9h.01M120.2 193.3h.01M123.1 202.6h.01M121.0 207.3h.01M125.5 200.8h.01M133.6 189.0h.01M128.4 197.4h.01M125.8 201.1h.01M120.7 216.8h.01M121.9 199.4h.01M127.6 208.2h.01M113.4 200.9h.01M121.4 202.7h.01M121.1 195.7h.01M117.6 212.2h.01M125.0 201.8h.01M122.7 201.9h.01M116.8 193.2h.01M107.4 205.1h.01M121.8 204.1h.01M116.7 202.6h.01M117.2 194.8h.01M125.1 207.4h.01M126.6 202.2h.01M120.7 213.3h.01M130.6 197.7h.01M116.5 205.4h.01M125.0 195.6h.01M136.8 186.5h.01M118.0 204.4h.01M129.0 188.3h.01M120.4 213.5h.01M131.5 200.6h.01M123.3 195.8h.01M125.4 194.5h.01M110.8 190.9h.01M123.4 192.4h.01M129.7 212.4h.01M129.1 207.6h.01M129.9 204.6h.01M128.3 206.1h.01M127.8 194.8h.01M119.1 194.9h.01M128.1 206.4h.01M118.3 195.0h.01M119.5 209.2h.01M122.3 200.7h.01M118.9 201.6h.01M132.7 197.3h.01M120.9 215.5h.01M127.4 193.8h.01M129.6 192.9h.01M126.4 183.2h.01M117.0 209.6h.01M119.4 197.0h.01M123.4 202.6h.01M120.2 197.4h.01M133.9 214.0h.01M125.0 193.7h.01M119.8 200.3h.01M126.0 214.8h.01M119.9 203.7h.01M120.4 203.6h.01M118.9 205.4h.01M130.1 199.5h.01M121.1 203.4h.01M115.1 216.4h.01M115.0 199.8h.01M117.7 214.0h.01M120.1 198.7h.01M134.5 201.6h.01M118.3 202.5h.01M124.2 196.8h.01M121.9 200.9h.01M127.4 208.4h.01M128.1 201.6h.01M127.9 200.9h.01M130.1 205.7h.01M120.5 212.0h.01M113.9 195.1h.01M118.2 201.6h.01M115.6 193.4h.01M111.6 203.4h.01M118.4 219.1h.01M124.0 197.1h.01M117.5 204.6h.01M121.1 184.4h.01M115.3 202.2h.01M120.5 207.0h.01M125.8 201.4h.01M131.2 198.4h.01M134.6 209.6h.01M129.2 208.4h.01M136.1 218.1h.01M118.6 216.9h.01M131.2 206.7h.01M124.3 203.3h.01M107.6 193.2h.01M118.3 188.8h.01M124.6 193.5h.01M129.5 206.8h.01M125.9 211.0h.01M118.7 209.6h.01M126.0 213.7h.01M117.0 206.9h.01M129.1 206.7h.01M108.0 195.3h.01M120.0 201.0h.01M121.3 209.0h.01M118.8 185.3h.01M137.5 199.7h.01M133.6 195.7h.01M124.1 201.9h.01M115.0 203.2h.01M119.8 192.9h.01M112.4 191.0h.01M129.2 207.3h.01M124.5 202.0h.01M132.2 212.4h.01M124.3 202.1h.01M134.1 205.4h.01M120.3 194.0h.01M114.2 196.3h.01M123.1 202.2h.01M132.7 208.1h.01M134.2 200.3h.01M118.5 206.3h.01M122.4 203.6h.01M123.6 196.6h.01M116.7 197.7h.01M118.4 212.3h.01M118.8 204.1h.01M125.7 199.3h.01M125.7 207.2h.01M112.6 204.2h.01M120.8 207.4h.01M120.4 197.6h.01M118.4 201.7h.01M125.7 199.1h.01M123.6 208.9h.01M118.4 213.2h.01M118.1 190.6h.01M120.6 201.7h.01M123.4 196.8h.01M124.2 210.2h.01M128.8 202.0h.01M114.8 215.6h.01M128.9 202.0h.01M130.0 212.6h.01M124.1 195.7h.01M124.5 195.3h.01M121.1 212.4h.01M122.6 193.9h.01M123.4 201.3h.01M117.1 202.5h.01M135.2 209.2h.01M125.5 206.5h.01M134.0 189.1h.01M128.0 199.6h.01M126.0 200.7h.01M119.8 184.6h.01M124.1 206.3h.01M117.6 188.3h.01M120.8 184.1h.01M117.5 204.6h.01M126.5 206.7h.01M125.1 201.4h.01M125.2 208.9h.01M127.9 204.5h.01M124.3 206.0h.01M115.6 200.9h.01M113.7 197.2h.01M108.7 199.4h.01M126.7 205.1h.01M127.6 205.5h.01M123.9 185.3h.01M119.5 202.4h.01M119.2 211.1h.01M120.1 215.5h.01M129.6 201.1h.01M113.7 193.6h.01M119.2 203.6h.01M138.6 195.3h.01M133.1 204.5h.01M121.4 204.0h.01M124.9 206.5h.01M122.6 197.3h.01M127.2 203.2h.01M125.1 194.0h.01M119.2 195.5h.01M123.4 203.7h.01M122.4 204.6h.01M122.4 213.0h.01M118.4 208.8h.01M119.3 197.8h.01M115.3 214.9h.01M117.6 198.7h.01M116.5 200.4h.01M116.4 217.1h.01M125.6 199.4h.01M105.7 201.3h.01M122.1 207.0h.01M122.3 197.0h.01M120.0 200.3h.01M127.6 200.5h.01M130.5 209.1h.01M118.6 210.5h.01M109.4 202.8h.01M117.2 201.8h.01M130.0 202.6h.01M122.1 212.4h.01M118.5 196.3h.01M128.9 207.3h.01M114.5 203.7h.01M127.8 201.4h.01M120.6 203.6h.01M124.4 197.2h.01M128.1 190.6h.01M122.6 218.9h.01M116.7 202.3h.01M109.4 196.3h.01M116.1 203.1h.01M120.1 216.6h.01M117.5 202.4h.01M124.4 207.5h.01M128.5 190.7h.01M136.3 200.2h.01M118.7 190.0h.01M120.4 189.1h.01M124.2 198.0h.01M125.0 196.6h.01M123.5 219.0h.01M122.6 205.2h.01M115.0 217.5h.01M115.6 200.8h.01M121.3 200.7h.01M120.5 217.8h.01M121.6 200.7h.01M126.6 198.1h.01M113.5 213.1h.01M122.2 211.1h.01M129.8 216.8h.01M127.3 204.1h.01M112.5 209.4h.01M117.4 212.7h.01M120.0 195.0h.01M123.3 201.5h.01M124.0 209.7h.01M132.1 204.0h.01M131.7 204.4h.01M113.9 195.9h.01M122.5 201.8h.01M126.8 195.6h.01M115.7 208.9h.01M121.1 217.5h.01M117.2 197.8h.01M137.3 188.2h.01M112.5 203.5h.01M117.7 200.8h.01M130.2 200.5h.01M123.1 208.6h.01M117.4 190.1h.01M124.7 202.5h.01M127.0 197.6h.01M120.8 201.1h.01M125.0 209.2h.01M124.8 184.2h.01M120.5 197.5h.01M118.2 197.9h.01M125.4 183.5h.01M125.5 208.3h.01M127.4 197.4h.01M113.6 192.3h.01M120.1 217.7h.01M118.1 202.4h.01M130.5 211.8h.01M122.9 207.3h.01M132.5 206.6h.01M124.2 196.7h.01M121.5 200.2h.01M113.5 197.0h.01M132.3 195.4h.01M115.5 194.7h.01M124.7 209.3h.01M127.2 217.8h.01M119.5 205.2h.01M123.8 201.1h.01M132.2 198.8h.01M124.2 193.6h.01M126.5 202.2h.01M116.9 195.7h.01M115.7 200.7h.01M121.8 201.5h.01M119.9 210.6h.01M125.3 205.4h.01M123.2 195.9h.01M127.3 217.3h.01M132.2 207.8h.01M117.4 196.9h.01M120.3 206.3h.01M122.7 200.7h.01M127.0 208.5h.01M117.7 196.0h.01M126.2 206.9h.01M120.0 205.6h.01M113.9 195.6h.01M124.8 194.8h.01M125.5 198.2h.01M130.7 197.0h.01M125.7 203.7h.01M116.5 187.1h.01M125.0 195.4h.01M124.6 219.2h.01M113.2 204.2h.01M117.1 196.6h.01M114.3 199.0h.01M132.2 213.1h.01M120.3 198.5h.01M117.4 199.4h.01M119.5 203.7h.01M115.6 209.4h.01M122.3 202.2h.01M121.9 191.3h.01M128.1 201.9h.01M131.3 203.9h.01M128.9 207.5h.01M122.8 204.8h.01M121.9 190.3h.01M117.5 206.4h.01M117.9 192.4h.01M117.9 203.4h.01M113.1 197.4h.01M120.8 199.8h.01M115.6 180.9h.01M118.1 211.2h.01M130.9 197.0h.01M131.6 208.3h.01M121.5 194.0h.01M120.0 197.9h.01M123.1 191.2h.01M114.0 199.2h.01M118.8 205.2h.01M117.1 208.8h.01M129.5 193.5h.01M124.8 212.4h.01M122.6 209.3h.01M121.4 202.7h.01M120.6 198.9h.01M131.7 197.3h.01M112.5 198.1h.01M126.3 196.6h.01M128.8 209.8h.01M123.9 200.1h.01M120.2 196.7h.01M134.3 207.8h.01M121.2 204.2h.01M125.7 214.1h.01M128.5 202.1h.01M118.3 190.8h.01M123.6 216.3h.01M124.9 205.8h.01M119.8 199.1h.01M114.1 194.4h.01M133.5 204.2h.01M129.7 199.3h.01M129.0 206.3h.01M115.8 185.2h.01M111.8 203.4h.01M127.2 199.3h.01M120.7 209.3h.01M121.8 195.0h.01M125.3 210.4h.01M111.2 200.4h.01M119.7 195.2h.01M130.4 205.8h.01M135.1 206.3h.01M119.9 198.9h.01M126.3 202.0h.01M121.2 201.6h.01M121.0 207.7h.01M116.7 199.6h.01M121.7 209.3h.01M124.5 212.7h.01M122.2 204.3h.01M121.4 203.8h.01M123.7 201.0h.01M119.5 200.9h.01M131.8 200.2h.01M118.0 196.4h.01M124.0 195.9h.01M120.9 198.8h.01M126.5 201.0h.01M127.5 209.0h.01M123.5 197.5h.01M120.4 213.7h.01M130.6 193.6h.01M124.4 196.5h.01M134.6 202.8h.01M114.6 196.2h.01M115.2 194.7h.01M123.0 195.6h.01M127.5 193.4h.01M124.4 189.4h.01M120.8 206.7h.01M120.3 208.9h.01M123.7 215.8h.01M125.1 198.0h.01M119.6 208.0h.01M134.3 208.4h.01M115.2 198.0h.01M113.7 195.2h.01M124.7 187.7h.01M119.0 219.4h.01M122.3 207.6h.01M125.0 211.9h.01M121.6 196.0h.01M122.5 208.4h.01M117.5 205.5h.01M122.9 203.7h.01M123.0 207.0h.01M127.8 200.1h.01M120.8 185.9h.01M117.6 190.7h.01M127.0 194.1h.01M118.7 206.4h.01M128.9 211.7h.01M117.7 204.2h.01M129.4 195.9h.01M121.5 193.0h.01M119.0 207.8h.01M123.5 199.6h.01M119.5 214.1h.01M127.5 192.9h.01M136.0 199.2h.01M122.0 198.6h.01M119.5 207.3h.01M114.1 202.6h.01M120.9 215.8h.01M125.3 205.7h.01M126.1 207.0h.01M123.7 183.6h.01M125.5 199.9h.01M127.2 204.8h.01M119.6 195.6h.01M116.8 204.6h.01M122.3 195.6h.01M120.7 205.1h.01M118.9 201.4h.01M119.3 182.5h.01M123.5 202.9h.01M127.8 212.4h.01M118.5 207.0h.01M124.6 203.0h.01M127.9 209.1h.01M115.3 213.7h.01M121.9 197.3h.01M118.8 200.7h.01M116.1 210.7h.01M125.5 195.5h.01M127.9 204.2h.01M123.4 209.8h.01M122.4 200.4h.01M126.0 188.4h.01M115.7 206.3h.01M129.4 189.6h.01M123.0 197.3h.01M121.2 207.0h.01M132.0 215.9h.01M128.7 207.3h.01M123.8 188.1h.01M125.3 193.3h.01M116.2 203.3h.01M113.4 216.0h.01M126.6 205.2h.01M125.9 204.3h.01M123.3 207.8h.01M118.9 204.5h.01M124.0 208.4h.01M116.3 204.3h.01M122.2 207.2h.01M126.2 203.8h.01M125.7 205.8h.01M131.2 204.8h.01M126.2 195.3h.01M121.7 208.3h.01M129.3 195.0h.01M122.7 200.4h.01M123.3 198.8h.01M120.4 202.0h.01M123.7 210.2h.01M117.8 195.1h.01M127.7 206.3h.01M121.8 193.6h.01M129.3 194.2h.01M129.8 204.3h.01M122.1 201.1h.01M127.9 202.5h.01M112.5 197.1h.01M110.0 205.5h.01M128.5 210.3h.01M114.8 218.6h.01M133.9 201.6h.01M111.0 195.8h.01M129.2 218.2h.01M119.7 188.4h.01M117.1 217.0h.01M122.9 191.7h.01M110.3 207.3h.01M127.8 198.8h.01M121.8 203.0h.01M120.9 198.3h.01M119.5 197.9h.01M130.4 205.5h.01M129.1 216.5h.01M109.2 201.9h.01M128.7 200.8h.01M119.3 205.5h.01M119.8 196.0h.01M121.1 202.8h.01M123.0 209.3h.01M123.1 198.8h.01M141.3 200.7h.01M121.3 201.3h.01M118.7 190.4h.01M124.1 213.5h.01M112.0 196.7h.01M125.5 197.2h.01M126.1 202.1h.01M116.3 200.8h.01M119.8 206.6h.01M107.7 205.6h.01M130.9 203.6h.01M124.4 198.4h.01M125.0 201.3h.01M115.2 193.4h.01M109.0 205.7h.01M124.0 210.7h.01M124.5 207.7h.01M114.9 188.2h.01M119.5 199.9h.01M125.1 201.4h.01M121.9 202.7h.01M124.5 204.0h.01M124.9 198.6h.01M122.4 191.2h.01M116.2 200.3h.01M125.5 196.7h.01M114.5 209.7h.01M117.9 189.3h.01M117.1 193.4h.01M108.4 199.5h.01M133.1 196.8h.01M118.0 211.1h.01M123.5 201.6h.01M131.1 193.4h.01M122.6 206.3h.01M124.2 193.5h.01M117.3 216.0h.01M122.4 200.4h.01M129.4 188.8h.01M122.6 189.0h.01M131.3 194.9h.01M123.6 195.4h.01M123.7 204.8h.01M123.0 200.0h.01M124.4 200.6h.01M119.9 207.2h.01M128.1 192.2h.01M116.9 196.5h.01M124.7 191.8h.01M132.3 202.8h.01M123.9 209.1h.01M118.5 205.3h.01M125.4 212.3h.01M116.7 213.0h.01M126.5 204.4h.01M129.4 200.6h.01M121.8 208.8h.01M120.9 210.7h.01M131.2 204.1h.01M124.0 197.6h.01M117.5 213.4h.01M116.8 203.1h.01M124.8 195.7h.01M118.9 197.1h.01M135.7 205.3h.01M131.3 217.9h.01M129.1 212.5h.01M120.4 197.3h.01M131.7 213.6h.01M116.9 211.2h.01M124.8 208.6h.01M128.8 217.0h.01M119.3 202.6h.01M130.6 200.6h.01M126.3 202.0h.01M112.9 198.4h.01M128.4 198.5h.01M113.9 198.8h.01M123.7 206.3h.01M125.1 206.6h.01M116.8 198.0h.01M118.5 199.3h.01M125.7 212.7h.01M121.7 210.7h.01M129.8 193.9h.01M118.2 203.8h.01M114.8 216.8h.01M111.9 193.3h.01M127.8 197.0h.01M127.4 195.2h.01M129.5 198.2h.01M127.5 210.3h.01M114.2 196.0h.01M112.7 194.3h.01M128.6 202.4h.01M128.2 213.5h.01M129.3 208.2h.01M120.6 199.8h.01M125.1 209.3h.01M129.7 205.0h.01M121.4 202.1h.01M133.1 204.9h.01M135.2 197.3h.01M128.4 204.4h.01M127.7 197.0h.01M125.2 202.3h.01M121.5 193.7h.01M114.7 200.2h.01M126.5 204.7h.01M124.6 205.2h.01M115.1 210.8h.01M123.6 197.1h.01M119.9 210.3h.01M124.4 190.2h.01M135.8 191.6h.01M133.5 209.2h.01M117.2 212.2h.01M130.8 210.7h.01M127.1 205.2h.01M124.5 198.8h.01M124.9 212.5h.01M122.6 217.7h.01M114.0 203.0h.01M114.4 189.5h.01M124.8 200.3h.01M119.9 194.8h.01M121.8 190.5h.01M122.1 198.8h.01M115.8 205.9h.01M112.1 206.1h.01M124.8 206.8h.01M124.0 208.8h.01M121.7 194.6h.01M125.5 196.8h.01M121.1 203.7h.01M117.7 210.2h.01M114.1 212.1h.01M123.1 215.7h.01M129.9 207.9h.01M125.0 203.7h.01M115.0 198.6h.01M117.6 197.4h.01M122.5 196.8h.01M124.1 200.9h.01M120.5 205.8h.01M126.0 192.7h.01M123.3 199.2h.01M125.4 212.1h.01M108.4 208.1h.01M132.1 209.9h.01M110.2 203.5h.01M125.9 205.3h.01M126.7 216.0h.01M115.3 198.6h.01M123.5 199.1h.01M126.6 195.3h.01M115.3 203.8h.01M116.7 194.3h.01M124.8 196.8h.01M127.8 197.8h.01M114.3 198.0h.01M129.9 203.9h.01M124.4 197.1h.01M126.7 205.5h.01" stroke="#0c0c0c" stroke-width="0.65" stroke-linecap="square" fill="none" opacity="0.75"/>
<rect x="77.4" y="133.2" width="87.80" height="86.80" fill="none" stroke="#3a3a3a" stroke-width="0.7"/>
<rect x="99.4" y="174.4" width="54.00" height="25.00" fill="none" stroke="#3a3a3a" stroke-width="0.6"/>
<text x="118.50" y="167.00" font-size="7.2" text-anchor="middle" font-weight="normal" fill="#111" stroke="#111" stroke-width="0.1">30%</text>
<line x1="76.00" y1="133.20" x2="77.40" y2="133.20" stroke="#3a3a3a" stroke-width="0.5"/>
<text x="75.60" y="134.30" font-size="3.8" text-anchor="end" font-weight="normal" fill="#111" stroke="#111" stroke-width="0.2">10<tspan font-size="2.6" dy="-1.43">4</tspan><tspan dy="1.43">&#8203;</tspan></text>
<line x1="77.40" y1="220.00" x2="77.40" y2="221.40" stroke="#3a3a3a" stroke-width="0.5"/>
<text x="77.40" y="225.20" font-size="3.8" text-anchor="middle" font-weight="normal" fill="#111" stroke="#111" stroke-width="0.2">10<tspan font-size="2.6" dy="-1.43">0</tspan><tspan dy="1.43">&#8203;</tspan></text>
<line x1="76.00" y1="154.90" x2="77.40" y2="154.90" stroke="#3a3a3a" stroke-width="0.5"/>
<text x="75.60" y="156.00" font-size="3.8" text-anchor="end" font-weight="normal" fill="#111" stroke="#111" stroke-width="0.2">10<tspan font-size="2.6" dy="-1.43">3</tspan><tspan dy="1.43">&#8203;</tspan></text>
<line x1="99.35" y1="220.00" x2="99.35" y2="221.40" stroke="#3a3a3a" stroke-width="0.5"/>
<text x="99.35" y="225.20" font-size="3.8" text-anchor="middle" font-weight="normal" fill="#111" stroke="#111" stroke-width="0.2">10<tspan font-size="2.6" dy="-1.43">1</tspan><tspan dy="1.43">&#8203;</tspan></text>
<line x1="76.00" y1="176.60" x2="77.40" y2="176.60" stroke="#3a3a3a" stroke-width="0.5"/>
<text x="75.60" y="177.70" font-size="3.8" text-anchor="end" font-weight="normal" fill="#111" stroke="#111" stroke-width="0.2">10<tspan font-size="2.6" dy="-1.43">2</tspan><tspan dy="1.43">&#8203;</tspan></text>
<line x1="121.30" y1="220.00" x2="121.30" y2="221.40" stroke="#3a3a3a" stroke-width="0.5"/>
<text x="121.30" y="225.20" font-size="3.8" text-anchor="middle" font-weight="normal" fill="#111" stroke="#111" stroke-width="0.2">10<tspan font-size="2.6" dy="-1.43">2</tspan><tspan dy="1.43">&#8203;</tspan></text>
<line x1="76.00" y1="198.30" x2="77.40" y2="198.30" stroke="#3a3a3a" stroke-width="0.5"/>
<text x="75.60" y="199.40" font-size="3.8" text-anchor="end" font-weight="normal" fill="#111" stroke="#111" stroke-width="0.2">10<tspan font-size="2.6" dy="-1.43">1</tspan><tspan dy="1.43">&#8203;</tspan></text>
<line x1="143.25" y1="220.00" x2="143.25" y2="221.40" stroke="#3a3a3a" stroke-width="0.5"/>
<text x="143.25" y="225.20" font-size="3.8" text-anchor="middle" font-weight="normal" fill="#111" stroke="#111" stroke-width="0.2">10<tspan font-size="2.6" dy="-1.43">3</tspan><tspan dy="1.43">&#8203;</tspan></text>
<line x1="76.00" y1="220.00" x2="77.40" y2="220.00" stroke="#3a3a3a" stroke-width="0.5"/>
<text x="75.60" y="221.10" font-size="3.8" text-anchor="end" font-weight="normal" fill="#111" stroke="#111" stroke-width="0.2">10<tspan font-size="2.6" dy="-1.43">0</tspan><tspan dy="1.43">&#8203;</tspan></text>
<line x1="165.20" y1="220.00" x2="165.20" y2="221.40" stroke="#3a3a3a" stroke-width="0.5"/>
<text x="165.20" y="225.20" font-size="3.8" text-anchor="middle" font-weight="normal" fill="#111" stroke="#111" stroke-width="0.2">10<tspan font-size="2.6" dy="-1.43">4</tspan><tspan dy="1.43">&#8203;</tspan></text>
<path d="M265.3 209.2h.01M269.7 205.6h.01M274.5 208.3h.01M269.8 217.0h.01M268.9 201.7h.01M265.6 205.4h.01M273.3 212.3h.01M275.1 217.3h.01M277.3 211.3h.01M276.0 211.4h.01M268.8 212.3h.01M271.2 207.2h.01M278.6 212.1h.01M269.1 207.9h.01M280.0 207.0h.01M273.8 211.4h.01M273.0 211.2h.01M269.2 205.9h.01M270.4 206.5h.01M274.1 216.1h.01M267.6 211.0h.01M267.2 204.8h.01M270.1 208.8h.01M269.3 195.1h.01M276.3 206.9h.01M268.6 211.7h.01M268.7 201.0h.01M272.9 210.4h.01M267.8 212.5h.01M272.4 202.5h.01M277.8 209.6h.01M266.6 210.6h.01M271.5 213.2h.01M265.8 213.6h.01M274.6 211.8h.01M273.4 214.9h.01M273.8 208.9h.01M267.8 213.9h.01M274.8 209.8h.01M271.6 211.9h.01M261.3 209.9h.01M261.4 209.5h.01M275.1 217.9h.01M269.2 210.4h.01M270.7 197.0h.01M273.8 208.2h.01M271.3 203.5h.01M270.8 208.7h.01M275.9 209.7h.01M284.4 206.2h.01M270.0 208.0h.01M267.9 215.9h.01M273.5 201.8h.01M271.4 214.1h.01M265.5 209.0h.01M272.5 211.5h.01M272.9 205.1h.01M275.1 205.9h.01M268.8 200.6h.01M271.5 212.0h.01M270.6 215.6h.01M270.1 205.5h.01M273.8 204.6h.01M271.0 213.3h.01M275.6 207.2h.01M264.8 200.1h.01M277.0 206.0h.01M266.4 211.3h.01M276.2 202.9h.01M267.7 205.8h.01M266.6 214.0h.01M270.1 207.6h.01M268.8 197.5h.01M273.2 197.8h.01M274.8 204.7h.01M271.7 203.3h.01M273.7 210.7h.01M267.4 218.8h.01M269.0 202.2h.01M269.4 206.2h.01M265.0 206.3h.01M268.6 210.3h.01M268.0 210.4h.01M270.0 205.5h.01M273.6 210.3h.01M268.7 200.0h.01M266.0 198.2h.01M270.2 208.9h.01M266.7 208.4h.01M273.2 214.7h.01M269.3 211.1h.01M266.5 218.6h.01M274.4 208.2h.01M270.3 211.3h.01M268.4 209.5h.01M274.7 205.1h.01M270.1 205.2h.01M265.7 209.5h.01M272.4 204.8h.01M263.6 210.5h.01M272.1 204.9h.01M264.6 206.0h.01M266.3 212.6h.01M265.5 196.5h.01M265.4 205.5h.01M267.2 214.6h.01M268.8 213.3h.01M268.7 211.3h.01M272.6 210.7h.01M268.0 207.0h.01M277.4 210.6h.01M268.8 219.4h.01M264.9 214.5h.01M273.5 205.4h.01M274.6 213.1h.01M273.7 202.3h.01M271.6 203.0h.01M268.6 205.4h.01M267.7 210.7h.01M267.9 211.3h.01M271.6 205.1h.01M271.6 211.7h.01M275.3 206.9h.01M277.6 211.1h.01M275.7 201.4h.01M266.9 214.3h.01M270.1 210.6h.01M275.6 200.9h.01M272.7 218.0h.01M274.0 208.7h.01M273.1 208.2h.01M273.9 214.8h.01M270.1 211.1h.01M272.1 212.0h.01M274.2 202.8h.01M275.4 212.6h.01M266.8 206.8h.01M265.4 206.7h.01M272.2 202.4h.01M268.0 203.8h.01M268.3 204.3h.01M266.9 211.1h.01M270.1 204.1h.01M274.7 205.4h.01M274.4 202.0h.01M276.3 205.9h.01M267.3 210.3h.01M265.8 202.8h.01M271.9 205.8h.01M272.5 208.9h.01M271.9 208.9h.01M273.7 208.2h.01M275.2 213.0h.01M263.4 199.4h.01M276.9 206.0h.01M271.7 207.6h.01M272.0 219.2h.01M277.0 202.5h.01M273.0 206.5h.01M273.4 213.8h.01M267.5 212.3h.01M269.3 204.6h.01M279.0 202.0h.01M267.5 211.6h.01M271.0 199.9h.01M271.5 211.9h.01M265.1 205.4h.01M273.9 217.8h.01M262.1 204.7h.01M271.0 203.6h.01M267.5 205.7h.01M272.9 202.8h.01M274.3 212.4h.01M274.2 215.9h.01M268.9 207.9h.01M274.8 214.5h.01M274.5 205.9h.01M269.1 201.6h.01M269.3 203.7h.01M269.1 206.3h.01M274.1 212.5h.01M270.7 202.5h.01M270.7 210.3h.01M274.2 209.2h.01M274.0 204.9h.01M273.4 211.9h.01M269.6 204.4h.01M275.6 203.2h.01M273.6 206.8h.01M269.6 206.9h.01M269.3 208.0h.01M277.7 215.5h.01M270.4 210.5h.01M274.4 206.0h.01M277.9 208.3h.01M273.3 203.4h.01M266.7 203.2h.01M268.5 213.4h.01M269.7 212.6h.01M269.3 203.4h.01M271.6 206.2h.01M264.6 208.4h.01M275.4 207.1h.01M266.4 204.4h.01M266.3 207.0h.01M267.3 207.6h.01M271.6 214.8h.01M266.5 197.9h.01M277.1 210.3h.01M269.5 210.7h.01M267.4 206.5h.01M273.5 206.6h.01M271.4 210.4h.01M271.4 207.0h.01M272.9 214.8h.01M275.8 203.8h.01M273.8 198.6h.01M265.6 210.2h.01M273.0 215.0h.01M264.4 213.6h.01M268.9 205.8h.01M272.6 215.2h.01M267.4 199.6h.01M268.7 207.6h.01M275.5 210.0h.01M269.8 205.6h.01M269.2 213.0h.01M264.6 204.7h.01M267.6 213.8h.01M271.4 204.8h.01M273.8 217.9h.01M274.8 201.6h.01M270.1 213.8h.01M264.0 202.0h.01M269.3 210.8h.01M267.8 208.9h.01M270.3 209.8h.01M266.3 197.0h.01M262.7 209.0h.01M274.6 210.5h.01M264.8 199.4h.01M269.8 203.5h.01M263.9 205.2h.01M267.9 207.5h.01M272.3 209.1h.01M271.6 210.7h.01M270.5 205.9h.01M269.6 214.0h.01M269.8 212.1h.01M277.2 216.8h.01M262.7 208.8h.01M274.6 205.8h.01M268.2 201.0h.01M268.3 208.1h.01M263.7 208.0h.01M267.7 208.2h.01M266.8 208.5h.01M271.5 204.6h.01M268.3 212.8h.01M273.3 204.2h.01M272.5 202.3h.01M268.9 193.5h.01M268.7 211.5h.01M269.0 211.0h.01M268.4 209.6h.01M270.3 203.2h.01M278.8 203.9h.01M265.7 208.7h.01M272.7 209.8h.01M270.4 210.4h.01M274.4 211.2h.01M265.6 216.7h.01M270.7 197.8h.01M274.0 207.3h.01M271.9 218.0h.01M268.8 204.9h.01M267.1 209.0h.01M273.4 210.0h.01M271.5 197.4h.01M271.9 213.5h.01M268.9 205.4h.01M267.0 209.3h.01M264.9 217.6h.01M270.1 205.1h.01M266.2 210.8h.01M274.5 205.3h.01M271.5 209.5h.01M274.5 211.1h.01M275.5 201.0h.01M280.8 205.6h.01M266.6 203.4h.01M272.3 211.9h.01M280.1 214.2h.01M268.0 206.4h.01M269.1 205.1h.01M270.2 205.0h.01M275.3 209.8h.01M273.2 207.3h.01M266.5 210.3h.01M269.4 218.0h.01M275.5 202.0h.01M267.1 205.3h.01M270.1 213.8h.01M270.2 210.4h.01M269.6 207.0h.01M275.5 208.2h.01M278.3 207.9h.01M272.3 210.1h.01M273.4 217.7h.01M268.3 205.4h.01M267.3 217.1h.01M272.6 210.3h.01M272.6 198.9h.01M273.8 208.7h.01M272.0 208.5h.01M270.5 207.7h.01M268.7 207.0h.01M273.3 197.5h.01M274.0 211.3h.01M266.8 210.6h.01M272.0 205.5h.01M277.3 209.0h.01M270.4 201.6h.01M279.1 209.2h.01M272.1 207.0h.01M278.7 207.3h.01M276.9 213.4h.01M274.6 211.3h.01M275.3 207.5h.01M263.0 194.7h.01M275.1 197.8h.01M276.0 218.7h.01M269.9 215.6h.01M273.0 205.5h.01M271.3 202.3h.01M272.4 208.1h.01M273.5 208.2h.01M276.0 204.9h.01M276.3 199.6h.01M266.2 212.8h.01M267.5 201.7h.01M277.4 213.8h.01M273.1 212.5h.01M268.4 200.4h.01M272.3 204.2h.01M269.0 215.7h.01M278.2 211.0h.01M269.3 212.6h.01M268.5 215.3h.01M271.7 210.4h.01M272.6 209.1h.01M262.6 197.5h.01M275.0 208.2h.01M268.8 211.4h.01M269.8 210.0h.01M268.1 209.8h.01M272.7 209.0h.01M276.2 204.5h.01M277.7 207.0h.01M270.6 204.4h.01M279.3 217.1h.01M268.4 200.7h.01M275.0 214.9h.01M269.2 207.5h.01M272.1 209.1h.01M270.8 203.3h.01M268.8 208.4h.01M272.7 213.3h.01M268.6 209.4h.01M273.2 212.4h.01M271.8 209.2h.01M269.6 208.3h.01M270.2 199.5h.01M268.2 196.2h.01M272.8 212.5h.01M269.5 209.0h.01M271.5 206.9h.01M276.5 207.2h.01M272.1 207.8h.01M278.5 200.0h.01M271.7 201.5h.01M268.2 203.4h.01M273.8 202.8h.01M267.1 206.5h.01M267.3 203.2h.01M276.9 204.8h.01M267.9 215.0h.01M271.2 213.7h.01M264.8 206.7h.01M272.7 209.2h.01M273.0 214.3h.01M273.1 213.6h.01M273.8 204.4h.01M271.6 214.6h.01M267.3 210.8h.01M273.3 214.8h.01M264.6 219.0h.01M262.9 209.0h.01M270.7 210.1h.01M270.0 216.4h.01M268.7 207.7h.01M276.8 202.9h.01M269.2 204.1h.01M267.8 203.8h.01M265.9 215.1h.01M271.0 205.2h.01M263.5 201.9h.01M269.7 210.0h.01M272.8 209.4h.01M270.0 210.1h.01M269.7 202.8h.01M274.3 213.3h.01M271.6 209.5h.01M267.2 208.8h.01M272.0 210.2h.01M270.2 204.5h.01M266.1 206.8h.01M275.6 206.7h.01M268.4 208.4h.01M279.4 209.5h.01M275.0 199.7h.01M272.6 213.3h.01M265.8 203.6h.01M267.4 213.5h.01M273.5 200.3h.01M273.4 206.2h.01M272.2 201.0h.01M275.6 200.6h.01M270.9 211.3h.01M271.7 207.4h.01M275.2 216.8h.01M277.0 207.9h.01M270.9 208.4h.01M275.3 201.1h.01M266.2 219.4h.01M276.0 200.8h.01M270.3 207.0h.01M271.4 201.6h.01M272.5 200.4h.01M271.6 214.8h.01M274.5 211.0h.01M275.3 201.0h.01M265.7 205.6h.01M269.2 209.9h.01M267.4 199.7h.01M268.2 210.3h.01M270.5 203.8h.01M271.7 210.9h.01M267.7 215.5h.01M267.2 200.6h.01M273.9 206.9h.01M269.1 207.2h.01M272.8 210.5h.01M267.5 205.5h.01M276.5 210.7h.01M270.6 206.7h.01M268.2 210.1h.01M264.7 208.8h.01M265.8 215.0h.01M276.0 213.1h.01M274.0 211.8h.01M270.0 200.6h.01M271.5 205.3h.01M268.1 198.8h.01M274.9 207.3h.01M268.5 203.8h.01M264.1 199.5h.01M266.0 207.6h.01M273.9 210.6h.01M268.6 210.0h.01M272.3 214.9h.01M266.0 210.6h.01M276.7 210.3h.01M275.8 214.5h.01M271.1 208.0h.01M266.3 206.3h.01M269.4 199.6h.01M272.5 202.2h.01M275.3 200.6h.01M266.8 207.7h.01M267.6 211.9h.01M264.4 200.9h.01M273.5 202.4h.01M273.4 205.5h.01M274.6 204.2h.01M278.3 202.8h.01M267.4 202.5h.01M270.2 211.3h.01M275.7 203.7h.01M272.0 205.4h.01M270.6 202.8h.01M265.5 206.0h.01M272.5 214.8h.01M269.8 207.1h.01M272.3 204.8h.01M269.6 214.4h.01M267.2 207.1h.01M274.6 211.0h.01M272.2 198.3h.01M268.0 196.5h.01M275.1 207.9h.01M272.6 210.6h.01M267.7 207.0h.01M274.8 205.3h.01M269.1 213.3h.01M274.0 204.5h.01M266.7 213.3h.01M277.2 202.3h.01M272.8 210.0h.01M269.5 202.8h.01M270.9 205.7h.01M268.7 208.2h.01M273.5 204.1h.01M269.6 217.1h.01M267.4 207.3h.01M267.0 211.0h.01M266.4 210.5h.01M261.5 214.1h.01M275.2 212.2h.01M268.6 207.3h.01M271.6 210.7h.01M269.2 210.2h.01M270.9 200.5h.01M270.2 214.1h.01M267.7 217.3h.01M276.0 214.3h.01M265.8 215.7h.01M266.6 204.5h.01M264.9 219.2h.01M266.4 210.9h.01M267.3 207.7h.01M267.5 207.8h.01M270.3 206.9h.01M267.7 214.0h.01M270.1 208.3h.01M262.4 210.9h.01M264.7 206.9h.01M262.9 217.4h.01M264.0 206.6h.01M265.9 201.5h.01M264.0 215.2h.01M278.9 207.2h.01M273.8 205.4h.01M266.6 217.0h.01M273.1 202.1h.01M270.3 207.7h.01M269.6 207.4h.01M268.1 207.4h.01M269.1 206.2h.01M267.8 215.6h.01M269.0 206.7h.01M271.6 207.9h.01M265.7 212.1h.01M266.0 204.5h.01M272.2 206.7h.01M267.9 207.8h.01M267.4 204.7h.01M266.1 201.5h.01M266.8 207.9h.01M268.6 206.9h.01M274.0 205.4h.01M263.5 208.1h.01M277.3 193.1h.01M269.6 202.1h.01M264.8 211.7h.01M270.4 207.5h.01M265.6 205.1h.01M266.3 215.3h.01M270.4 197.6h.01M269.3 215.1h.01M267.6 206.3h.01M270.3 210.1h.01M272.4 204.6h.01M269.1 211.1h.01M266.6 206.0h.01M271.8 206.5h.01M266.8 215.9h.01M271.2 206.3h.01M259.5 213.2h.01M274.1 207.4h.01M270.7 203.5h.01M278.2 212.2h.01M279.2 219.0h.01M263.7 210.9h.01M262.7 209.6h.01M270.7 204.9h.01M273.1 208.5h.01M269.4 206.5h.01M274.1 210.2h.01M273.9 209.4h.01M268.9 205.4h.01M271.5 204.2h.01M268.2 211.8h.01M271.5 206.7h.01M271.4 205.9h.01M275.6 206.8h.01M270.8 202.0h.01M268.0 201.3h.01M272.3 210.6h.01M273.1 206.1h.01M270.9 209.6h.01M269.3 199.4h.01M278.2 210.3h.01M274.1 211.9h.01M267.9 207.7h.01M268.8 213.2h.01M271.4 204.3h.01M271.9 218.7h.01M276.1 211.1h.01M269.6 198.0h.01M269.4 206.0h.01M273.9 210.6h.01M270.9 203.4h.01M268.0 211.5h.01M267.7 207.3h.01M274.6 211.7h.01M274.1 206.9h.01M268.5 192.9h.01M264.1 206.6h.01M267.7 206.5h.01M269.4 215.0h.01M275.2 206.1h.01M265.7 203.7h.01M269.5 211.1h.01M266.9 211.7h.01M265.3 203.4h.01M276.8 203.9h.01M275.1 214.8h.01M263.0 205.6h.01M269.0 213.0h.01M276.9 207.0h.01M272.8 203.4h.01M268.9 207.8h.01M268.4 195.5h.01M270.1 210.3h.01M274.1 205.9h.01M272.0 210.7h.01M273.4 205.4h.01M270.2 204.8h.01M268.0 205.0h.01M277.8 207.7h.01M266.7 207.6h.01M275.3 203.0h.01M265.6 207.9h.01M270.7 217.0h.01M281.4 202.3h.01M269.5 214.6h.01M275.2 210.0h.01M267.9 207.7h.01M272.3 205.9h.01M275.1 207.4h.01M271.0 211.0h.01M272.4 214.3h.01M262.2 211.8h.01M267.4 201.1h.01M276.9 208.3h.01M265.3 204.4h.01M262.3 204.2h.01M270.3 206.8h.01M262.1 208.7h.01M274.5 208.7h.01M264.0 216.6h.01M273.0 208.1h.01M272.8 213.3h.01M272.1 204.9h.01M271.5 207.3h.01M268.4 218.8h.01M272.2 208.3h.01M267.3 207.0h.01M271.5 203.0h.01M270.7 211.0h.01M277.3 207.6h.01M269.7 204.8h.01M264.8 210.9h.01M268.9 204.8h.01M266.7 215.4h.01M276.0 210.4h.01M269.6 202.2h.01M262.6 204.3h.01M267.9 215.5h.01M269.7 199.9h.01M276.1 211.2h.01M269.4 209.9h.01M273.3 205.9h.01M267.6 208.9h.01M273.2 210.7h.01M266.7 203.4h.01M270.8 205.1h.01M269.7 217.3h.01M264.6 206.7h.01M266.9 209.2h.01M277.9 210.0h.01M275.8 203.5h.01M271.9 214.9h.01M269.5 204.3h.01M265.1 215.3h.01M270.4 214.8h.01M271.6 208.3h.01M273.9 209.1h.01M275.3 205.2h.01M268.7 208.3h.01M268.9 207.1h.01M273.9 209.8h.01M270.5 216.7h.01M265.8 205.2h.01M270.1 212.9h.01M273.2 210.7h.01M276.5 207.7h.01M268.0 214.0h.01M276.7 203.1h.01M268.6 207.5h.01M272.2 208.6h.01M273.6 200.1h.01M268.9 200.4h.01M274.0 213.1h.01M271.8 208.1h.01M270.5 207.6h.01M267.8 210.4h.01M273.2 204.6h.01M272.4 215.3h.01M276.8 219.5h.01M276.1 207.6h.01M271.9 211.0h.01M269.9 202.8h.01M270.1 204.7h.01M264.0 203.9h.01M269.1 217.2h.01M274.3 213.8h.01M273.5 209.0h.01M273.1 209.4h.01M264.0 206.3h.01M274.1 197.8h.01M271.0 219.1h.01M265.5 207.4h.01M273.9 203.8h.01M272.2 206.7h.01M263.2 207.2h.01M269.8 210.5h.01M264.6 211.2h.01M270.6 212.6h.01M269.2 204.8h.01M269.9 208.0h.01M274.8 204.5h.01M269.7 203.0h.01M269.5 209.4h.01M276.2 207.4h.01M271.7 208.3h.01M274.8 206.6h.01M269.8 209.6h.01M269.8 209.1h.01M270.5 206.4h.01M274.0 207.0h.01M269.3 210.5h.01M277.6 209.5h.01M270.2 211.7h.01M272.8 203.1h.01M275.2 214.6h.01M268.9 206.3h.01M273.1 209.7h.01M271.4 214.5h.01M265.0 205.6h.01M272.8 210.4h.01M268.7 199.3h.01M275.3 212.6h.01M271.3 209.7h.01M267.0 210.8h.01M267.8 207.4h.01M264.7 211.9h.01M268.8 209.9h.01M268.8 197.5h.01M266.1 207.7h.01M264.4 210.0h.01M274.1 199.6h.01M268.2 208.5h.01M275.5 207.8h.01M265.0 207.9h.01M272.5 205.9h.01M272.7 202.3h.01M269.1 219.2h.01M273.4 210.8h.01M269.5 206.2h.01M280.3 210.9h.01M271.2 201.6h.01M276.3 213.7h.01M272.4 208.3h.01M265.5 201.2h.01M272.8 206.6h.01M266.6 207.1h.01M276.1 208.8h.01M269.2 204.8h.01M267.7 210.3h.01M273.7 216.4h.01M273.8 203.0h.01M269.3 214.3h.01M265.5 207.0h.01M271.4 204.9h.01M269.4 206.2h.01M269.7 211.0h.01M263.7 211.8h.01M277.2 210.3h.01M272.0 204.6h.01M269.7 204.2h.01M273.1 208.6h.01M264.2 210.8h.01M268.9 207.4h.01M278.0 206.0h.01M271.9 204.3h.01M270.7 204.6h.01M267.9 212.4h.01M276.2 210.2h.01M269.4 209.4h.01M275.2 214.6h.01M279.1 206.2h.01M271.4 209.1h.01M273.3 208.0h.01M276.0 211.6h.01M268.2 196.1h.01M267.9 203.1h.01M270.9 213.2h.01M266.7 200.1h.01M274.3 208.0h.01M272.5 208.5h.01M274.2 210.4h.01M268.5 210.1h.01M271.6 209.8h.01M266.5 212.3h.01M269.8 210.0h.01M272.7 208.1h.01M266.3 214.7h.01M263.1 205.8h.01M270.9 214.1h.01M264.4 202.5h.01M268.7 208.9h.01M267.3 219.2h.01M266.6 216.8h.01M274.2 205.0h.01M270.1 188.7h.01M266.3 207.4h.01M272.7 207.0h.01M270.0 204.8h.01M267.8 215.8h.01M278.3 213.2h.01M269.1 196.8h.01M273.7 202.5h.01M269.4 209.3h.01M276.4 203.5h.01M269.5 211.7h.01M274.1 207.0h.01M272.1 211.2h.01M269.0 199.2h.01M270.2 215.5h.01M266.2 203.7h.01M274.2 215.4h.01M272.2 209.4h.01M264.2 201.6h.01M268.0 198.9h.01M274.3 202.1h.01M279.8 201.9h.01M271.9 205.6h.01M269.8 213.3h.01M266.7 206.4h.01M275.0 203.5h.01M280.9 201.0h.01M273.8 209.1h.01M272.6 207.8h.01M269.1 210.1h.01M268.7 203.2h.01M277.5 198.4h.01M273.2 205.1h.01M263.0 195.8h.01M267.2 210.5h.01M275.7 207.6h.01M275.7 208.5h.01M271.5 209.0h.01M275.4 202.2h.01M263.5 214.7h.01M271.0 209.6h.01M274.9 210.0h.01M270.5 215.4h.01M275.0 206.9h.01M271.7 205.9h.01M270.4 204.6h.01M273.7 203.1h.01M268.4 211.8h.01M271.6 216.0h.01M268.7 208.2h.01M270.1 212.8h.01M270.4 210.9h.01M265.1 205.5h.01M276.6 208.2h.01M272.2 213.6h.01M271.9 204.1h.01M271.7 206.2h.01M270.7 208.3h.01M274.1 214.4h.01M276.6 204.1h.01M271.8 214.7h.01M268.8 205.0h.01M277.8 211.9h.01M273.9 206.1h.01M276.1 213.5h.01M271.2 209.5h.01M273.3 207.8h.01M271.2 215.3h.01M269.8 200.9h.01M274.9 217.3h.01M269.1 210.5h.01M271.5 204.5h.01M268.2 209.8h.01M264.5 209.3h.01M273.2 203.6h.01M267.4 212.6h.01M273.1 209.4h.01M272.5 210.1h.01M270.6 211.1h.01M271.8 207.3h.01M270.7 209.8h.01M264.1 202.4h.01M267.2 206.4h.01M271.8 201.4h.01M269.5 200.2h.01M270.7 209.9h.01M270.0 211.3h.01M270.5 198.4h.01M275.4 210.6h.01M266.8 206.7h.01M271.7 198.7h.01M277.9 203.2h.01M271.9 200.7h.01M274.1 208.8h.01M267.5 215.5h.01M276.8 209.6h.01M269.2 209.1h.01M268.6 210.8h.01M269.4 204.6h.01M271.0 217.1h.01M265.6 213.2h.01M273.2 211.7h.01M272.1 211.4h.01M263.1 207.7h.01M263.1 207.8h.01M270.1 209.5h.01M272.4 204.5h.01" stroke="#0c0c0c" stroke-width="0.75" stroke-linecap="square" fill="none" opacity="0.9"/>
<path d="M263.8 206.6h.01M271.0 211.3h.01M268.2 212.6h.01M267.7 207.5h.01M270.6 214.6h.01M281.4 210.6h.01M264.9 217.8h.01M269.6 196.5h.01M266.9 207.8h.01M266.6 204.1h.01M278.5 195.1h.01M262.0 199.4h.01M261.8 196.9h.01M272.1 213.1h.01M275.8 212.7h.01M278.5 207.5h.01M268.9 219.1h.01M267.3 217.8h.01M269.6 196.5h.01M265.5 204.5h.01M271.9 211.4h.01M275.3 212.7h.01M277.6 195.9h.01M274.1 218.8h.01M280.0 200.2h.01M266.9 213.9h.01M268.3 207.4h.01M273.6 205.4h.01M280.0 216.8h.01M273.6 213.5h.01M276.8 219.1h.01M273.6 193.5h.01M272.7 208.8h.01M274.2 202.7h.01M268.3 218.9h.01M268.1 215.0h.01M264.5 206.6h.01M266.5 203.3h.01M270.3 204.3h.01M265.2 217.5h.01M266.9 208.0h.01M268.0 219.3h.01M267.1 197.8h.01M268.1 213.8h.01M273.5 210.5h.01M268.1 213.5h.01M274.4 219.2h.01M272.7 206.1h.01M272.0 213.6h.01M281.9 199.5h.01M266.3 198.4h.01M269.4 209.7h.01M272.3 203.4h.01M272.0 208.8h.01M265.8 213.1h.01M280.4 211.0h.01M275.4 219.1h.01M268.0 211.6h.01M259.9 211.4h.01M272.6 208.2h.01M284.0 211.4h.01M269.1 206.0h.01M270.4 194.6h.01M272.8 202.9h.01M272.3 213.5h.01M280.4 206.7h.01M270.7 209.3h.01M273.3 204.4h.01M271.8 205.0h.01M272.8 219.3h.01M270.1 205.0h.01M272.6 198.9h.01M271.2 200.2h.01M270.2 201.2h.01M268.3 203.4h.01M276.7 217.4h.01M278.4 204.4h.01M271.4 213.7h.01M272.3 216.6h.01M266.9 212.9h.01M265.5 203.7h.01M271.5 211.6h.01M268.5 205.3h.01M268.8 205.8h.01M266.7 212.7h.01M272.9 205.0h.01M274.8 204.1h.01M272.4 217.1h.01M276.7 201.9h.01M276.8 219.1h.01M266.1 202.0h.01M260.9 213.6h.01M267.4 212.4h.01M263.7 203.1h.01M266.9 202.0h.01M266.9 209.5h.01M279.0 209.3h.01M277.3 215.6h.01M263.2 218.9h.01M271.0 210.4h.01M274.0 203.4h.01M275.6 211.7h.01M267.4 203.4h.01M276.4 209.5h.01M264.1 198.6h.01M283.4 200.6h.01M266.4 207.2h.01M261.1 203.1h.01M266.2 213.5h.01M267.7 206.5h.01M274.2 196.3h.01M268.4 219.3h.01M272.0 205.5h.01M275.7 213.3h.01M263.9 219.1h.01M259.7 215.0h.01M271.1 213.1h.01M279.4 197.8h.01M269.2 219.2h.01M275.4 214.3h.01M268.0 210.4h.01M266.6 207.9h.01M257.0 197.1h.01M272.4 211.1h.01M266.9 204.2h.01M267.0 211.3h.01M271.8 205.0h.01M270.0 198.7h.01M274.7 199.2h.01M277.8 212.2h.01M280.7 206.7h.01M267.0 207.6h.01M271.0 205.5h.01M267.6 210.8h.01M270.3 202.5h.01M266.8 196.8h.01M276.8 198.0h.01M274.8 217.9h.01M261.5 208.4h.01M253.8 215.7h.01M267.5 211.2h.01M273.0 215.2h.01M277.9 199.8h.01M269.6 212.7h.01M275.9 208.1h.01M272.9 203.4h.01M271.2 204.4h.01M276.3 204.1h.01M273.2 208.2h.01M255.9 195.2h.01M262.1 209.9h.01M269.9 203.5h.01M253.8 206.9h.01M280.4 189.6h.01M264.2 193.0h.01M270.1 206.0h.01M271.3 201.0h.01M270.0 214.5h.01M272.8 214.5h.01M282.8 215.9h.01M266.1 214.9h.01M267.4 202.1h.01M263.2 219.2h.01M260.3 205.9h.01M271.8 202.9h.01M277.8 205.6h.01M276.7 191.4h.01M272.6 204.5h.01M268.1 209.6h.01M271.4 212.0h.01M270.9 212.0h.01M268.1 189.4h.01M268.6 194.0h.01M266.1 201.9h.01M269.4 209.2h.01M270.8 204.4h.01M274.4 204.7h.01M262.6 210.6h.01M264.7 211.1h.01M281.7 208.3h.01M275.5 218.0h.01M270.5 202.2h.01M276.5 214.7h.01M266.0 213.8h.01M269.4 205.8h.01M260.8 201.2h.01M273.7 197.1h.01M273.2 214.4h.01M266.7 206.6h.01M266.7 191.9h.01M283.5 204.9h.01M271.9 204.4h.01M282.6 201.9h.01M266.9 198.1h.01M265.8 205.7h.01M274.5 197.2h.01M268.4 198.9h.01M273.3 200.9h.01M272.0 196.7h.01M276.2 204.5h.01M274.8 206.9h.01M263.7 207.5h.01M279.2 205.0h.01M269.2 212.6h.01M265.0 209.1h.01M267.8 215.0h.01M264.2 200.5h.01M273.1 210.8h.01M270.3 200.2h.01M272.3 204.2h.01M277.3 199.5h.01M260.9 196.1h.01M274.8 217.3h.01M274.1 208.2h.01M270.8 219.3h.01M270.5 216.6h.01M276.1 204.7h.01M280.3 203.4h.01M264.2 216.0h.01M272.4 214.8h.01M274.8 206.7h.01M274.7 205.4h.01M285.1 208.5h.01M282.1 217.0h.01M276.2 201.9h.01M274.0 214.3h.01M278.8 206.6h.01M276.7 204.0h.01M277.1 209.7h.01M274.4 212.3h.01M262.9 210.8h.01M261.3 203.8h.01M285.0 208.1h.01M270.7 199.0h.01M264.1 219.2h.01M273.7 216.6h.01M269.8 194.5h.01M276.8 205.0h.01M277.8 216.6h.01M264.0 214.7h.01M264.5 205.3h.01M264.4 199.8h.01M278.1 205.0h.01M265.1 215.7h.01M276.2 207.6h.01M273.1 208.7h.01M277.5 191.0h.01M267.7 209.6h.01M269.8 217.2h.01M271.0 198.1h.01M280.0 189.5h.01M268.4 215.0h.01M285.5 217.0h.01M276.1 205.2h.01M280.8 203.6h.01M271.8 196.0h.01M268.1 199.5h.01M270.6 216.4h.01M266.9 217.9h.01M270.9 219.0h.01M275.1 219.2h.01M269.9 207.0h.01M272.7 212.0h.01M271.8 215.4h.01M264.8 207.2h.01M269.9 203.5h.01M273.2 210.2h.01M264.9 210.1h.01M288.7 211.8h.01M271.4 201.6h.01M259.4 205.5h.01M275.4 212.5h.01M276.7 203.7h.01M265.6 215.1h.01M271.1 204.4h.01M266.9 201.4h.01M256.5 188.2h.01M277.7 214.4h.01M271.5 219.1h.01M269.7 213.6h.01M270.8 207.5h.01M270.0 205.5h.01M278.4 204.1h.01M269.1 208.9h.01M277.0 209.1h.01M269.7 197.2h.01M266.4 206.8h.01M271.5 197.9h.01M273.3 193.6h.01M273.9 205.6h.01M266.9 195.9h.01M266.5 201.8h.01M268.4 207.7h.01M266.5 195.9h.01M274.6 203.3h.01M275.9 203.8h.01M275.7 196.0h.01M263.0 213.5h.01M259.6 202.7h.01M274.1 208.8h.01M282.3 208.3h.01M279.6 208.4h.01M280.8 208.0h.01M275.1 219.2h.01M283.8 200.3h.01M261.2 197.0h.01M271.7 206.9h.01M269.7 210.6h.01M271.9 200.4h.01M282.2 207.4h.01M276.5 214.6h.01M270.0 208.5h.01M276.1 204.3h.01M265.9 212.8h.01M272.3 189.5h.01M269.1 208.1h.01M261.2 207.9h.01M276.7 203.9h.01M276.0 218.7h.01M276.8 198.9h.01M268.0 195.4h.01M268.6 205.9h.01M277.2 209.0h.01M273.4 203.0h.01M265.3 206.6h.01M266.1 204.4h.01M268.2 217.3h.01M267.8 212.3h.01M271.2 200.6h.01M271.3 206.9h.01M272.4 198.1h.01M272.0 206.8h.01M280.3 217.1h.01M272.1 203.2h.01M262.1 199.2h.01M262.2 211.6h.01M273.3 210.3h.01M278.4 206.9h.01M274.5 210.2h.01M278.8 214.5h.01M275.8 212.2h.01M259.3 219.3h.01M277.7 210.7h.01M254.4 206.1h.01M269.8 210.1h.01M268.7 202.2h.01M272.9 211.9h.01M265.3 207.9h.01M270.9 206.3h.01M289.9 211.0h.01M271.3 201.8h.01M265.2 209.7h.01M274.1 204.5h.01M268.3 205.8h.01M274.3 216.3h.01M262.0 213.3h.01M265.6 201.6h.01M275.1 215.7h.01M285.2 210.4h.01M281.6 206.5h.01M267.8 215.8h.01M264.2 209.7h.01M275.4 196.3h.01M272.5 214.4h.01M258.5 202.1h.01M273.7 203.8h.01M265.2 195.1h.01M280.8 210.9h.01M268.9 208.0h.01M272.3 207.8h.01M272.7 215.5h.01M267.4 211.4h.01M275.7 204.4h.01M267.3 212.5h.01M272.2 202.6h.01M270.4 203.1h.01M275.6 211.8h.01M267.4 211.1h.01M277.3 204.6h.01M262.4 207.6h.01M281.9 219.3h.01M271.7 212.1h.01M276.7 206.9h.01M283.7 203.3h.01M265.0 218.6h.01M268.6 206.5h.01M260.9 208.6h.01M269.4 210.3h.01M268.4 197.5h.01M274.2 203.0h.01M262.6 215.1h.01M269.8 219.1h.01M278.3 207.3h.01M270.0 219.1h.01M268.0 203.6h.01M269.5 212.6h.01M266.9 209.8h.01M272.6 219.1h.01M274.1 211.8h.01M268.8 207.7h.01M271.7 210.5h.01M267.9 206.4h.01M274.0 190.9h.01M268.8 218.6h.01M261.6 215.9h.01M269.9 217.3h.01M264.1 205.1h.01M268.0 209.9h.01M278.4 203.7h.01M280.0 202.3h.01M271.6 213.7h.01M273.2 214.0h.01M271.4 218.4h.01M273.7 216.2h.01M268.0 195.2h.01M258.0 215.4h.01M264.8 219.2h.01M274.5 192.1h.01M260.1 205.1h.01M272.3 202.6h.01M270.3 195.7h.01M266.2 214.0h.01M264.0 210.4h.01M254.3 202.5h.01M270.3 194.9h.01M257.2 199.5h.01M271.0 213.4h.01M278.1 199.8h.01M280.6 212.2h.01M268.6 200.4h.01M268.6 213.9h.01M272.1 208.1h.01M271.3 207.1h.01M270.1 209.6h.01M267.0 197.4h.01M262.6 210.2h.01M282.8 210.4h.01M274.0 217.2h.01M263.6 214.1h.01M277.5 205.0h.01M272.5 213.8h.01M269.8 216.6h.01M285.6 197.0h.01M266.0 196.2h.01M274.7 208.1h.01M275.2 204.0h.01M262.9 219.1h.01M273.1 203.1h.01M263.7 214.3h.01M274.2 213.3h.01M273.1 200.9h.01M263.3 214.2h.01M271.9 201.8h.01M281.5 204.8h.01M278.1 211.3h.01M279.0 205.7h.01M266.9 204.7h.01M266.8 204.7h.01M268.3 212.6h.01M271.4 211.8h.01M273.7 198.1h.01M262.2 193.7h.01M271.1 206.5h.01M271.0 191.1h.01M270.7 203.7h.01M277.4 212.9h.01M260.7 203.4h.01M272.5 201.3h.01M269.4 201.6h.01M280.1 213.3h.01M273.7 217.3h.01M274.4 212.9h.01M262.7 215.3h.01M270.1 215.9h.01M270.2 218.7h.01M277.4 213.2h.01M274.3 209.0h.01M270.1 211.4h.01M261.9 200.6h.01M265.3 198.4h.01M265.6 213.9h.01M274.7 219.2h.01M263.6 195.0h.01M267.5 205.4h.01M273.8 209.3h.01M270.0 206.9h.01M276.6 199.1h.01M272.8 206.4h.01M271.7 213.4h.01M279.8 215.3h.01M271.1 204.5h.01M267.5 219.2h.01M271.8 192.3h.01M258.8 202.2h.01M260.8 204.0h.01M275.3 202.8h.01M263.5 194.6h.01M273.3 208.9h.01M263.8 212.9h.01M272.6 215.2h.01M273.1 209.6h.01M275.5 207.3h.01M259.0 203.8h.01M264.2 214.0h.01M270.2 207.9h.01M263.7 213.3h.01M270.8 192.2h.01M267.7 208.4h.01M275.0 215.6h.01M262.4 214.1h.01M273.1 194.7h.01M265.9 199.8h.01M271.0 198.9h.01M277.8 213.5h.01M268.1 215.0h.01M268.7 218.3h.01M280.4 219.1h.01M272.8 208.4h.01M269.5 214.2h.01M274.6 214.7h.01M278.6 216.1h.01M267.4 205.4h.01M269.6 215.1h.01M275.6 212.1h.01M267.5 216.9h.01M277.5 207.0h.01M282.9 202.9h.01M273.1 217.9h.01M265.8 219.0h.01M271.0 203.0h.01M269.6 204.5h.01M271.3 217.3h.01M278.5 216.8h.01M269.7 194.2h.01M272.6 213.8h.01M273.5 210.6h.01M270.6 210.1h.01M275.7 202.1h.01M274.9 205.3h.01M273.6 219.0h.01M275.7 201.6h.01M267.6 208.6h.01M263.2 206.9h.01M271.8 213.0h.01M268.2 200.2h.01M264.1 211.9h.01M261.9 206.4h.01M266.9 194.1h.01M271.6 201.4h.01M279.2 199.9h.01M267.2 201.7h.01M263.3 207.6h.01M270.8 215.6h.01M273.6 219.1h.01M267.9 198.9h.01M269.8 198.4h.01M269.1 197.8h.01M262.2 214.5h.01M264.2 204.2h.01M259.2 219.1h.01M270.8 215.5h.01M271.5 208.0h.01M280.1 206.9h.01M265.5 205.4h.01M272.7 197.4h.01M267.9 194.0h.01M279.2 219.4h.01M271.6 217.5h.01M268.4 208.2h.01M278.1 207.7h.01M272.4 205.8h.01M284.3 212.4h.01M279.7 209.5h.01M278.5 203.4h.01M255.9 197.7h.01M272.1 215.5h.01M271.8 196.8h.01M275.4 214.1h.01M263.3 192.9h.01M266.5 203.8h.01M265.5 215.9h.01M266.6 207.4h.01M268.6 207.8h.01M261.7 211.3h.01M259.6 209.6h.01M273.8 203.2h.01M271.4 200.3h.01M276.7 210.7h.01M273.4 204.4h.01M267.7 195.1h.01M271.1 218.2h.01M276.4 211.7h.01M281.8 199.8h.01M267.3 194.0h.01M269.7 205.7h.01M266.8 208.0h.01M259.9 197.7h.01M265.5 208.5h.01M271.6 202.2h.01M274.1 213.5h.01M261.1 208.7h.01M270.5 216.4h.01M267.2 211.0h.01M272.8 217.4h.01M273.5 197.9h.01M269.5 196.4h.01M281.3 210.9h.01M267.9 201.3h.01M267.1 201.2h.01M281.3 200.6h.01M270.4 203.4h.01M275.2 210.9h.01M276.7 218.3h.01M268.5 216.2h.01M272.1 209.9h.01M268.3 209.5h.01M268.1 206.6h.01M268.8 213.7h.01M265.8 215.7h.01M264.5 218.5h.01M269.0 219.0h.01M268.8 207.9h.01M264.6 206.8h.01M255.6 199.7h.01M263.6 216.4h.01M260.8 213.9h.01M273.6 203.2h.01M270.6 190.6h.01M270.2 201.9h.01M263.7 209.2h.01M278.0 210.0h.01M270.4 217.0h.01M278.4 209.9h.01M285.2 207.7h.01M273.9 218.8h.01M277.1 214.8h.01M283.1 208.3h.01M265.0 208.1h.01M272.5 212.4h.01M265.9 207.6h.01M274.6 214.8h.01M277.1 201.5h.01M266.7 203.6h.01M274.2 217.4h.01M272.0 205.4h.01M277.0 207.2h.01M272.4 204.1h.01M278.8 188.9h.01M281.6 202.2h.01M268.3 199.5h.01M262.2 208.6h.01M268.9 188.1h.01M267.1 212.0h.01M266.3 199.1h.01M270.9 209.4h.01M261.4 189.0h.01M260.4 210.2h.01M255.5 215.5h.01M271.6 219.3h.01M276.8 209.1h.01M273.0 214.3h.01M274.5 208.5h.01M267.7 218.8h.01M273.2 201.4h.01M265.3 200.9h.01M262.3 209.2h.01M272.6 208.0h.01M270.2 211.1h.01M268.2 196.8h.01M269.7 213.6h.01M273.0 200.6h.01M270.1 204.6h.01M281.4 206.7h.01M262.1 218.9h.01" stroke="#0c0c0c" stroke-width="0.65" stroke-linecap="square" fill="none" opacity="0.75"/>
<rect x="220.2" y="133.2" width="88.40" height="86.80" fill="none" stroke="#3a3a3a" stroke-width="0.7"/>
<rect x="242.5" y="174.4" width="54.40" height="25.00" fill="none" stroke="#3a3a3a" stroke-width="0.6"/>
<text x="262.00" y="167.00" font-size="7.2" text-anchor="middle" font-weight="normal" fill="#111" stroke="#111" stroke-width="0.1">1%</text>
<line x1="218.80" y1="133.20" x2="220.20" y2="133.20" stroke="#3a3a3a" stroke-width="0.5"/>
<text x="218.40" y="134.30" font-size="3.8" text-anchor="end" font-weight="normal" fill="#111" stroke="#111" stroke-width="0.2">10<tspan font-size="2.6" dy="-1.43">4</tspan><tspan dy="1.43">&#8203;</tspan></text>
<line x1="220.20" y1="220.00" x2="220.20" y2="221.40" stroke="#3a3a3a" stroke-width="0.5"/>
<text x="220.20" y="225.20" font-size="3.8" text-anchor="middle" font-weight="normal" fill="#111" stroke="#111" stroke-width="0.2">10<tspan font-size="2.6" dy="-1.43">0</tspan><tspan dy="1.43">&#8203;</tspan></text>
<line x1="218.80" y1="154.90" x2="220.20" y2="154.90" stroke="#3a3a3a" stroke-width="0.5"/>
<text x="218.40" y="156.00" font-size="3.8" text-anchor="end" font-weight="normal" fill="#111" stroke="#111" stroke-width="0.2">10<tspan font-size="2.6" dy="-1.43">3</tspan><tspan dy="1.43">&#8203;</tspan></text>
<line x1="242.30" y1="220.00" x2="242.30" y2="221.40" stroke="#3a3a3a" stroke-width="0.5"/>
<text x="242.30" y="225.20" font-size="3.8" text-anchor="middle" font-weight="normal" fill="#111" stroke="#111" stroke-width="0.2">10<tspan font-size="2.6" dy="-1.43">1</tspan><tspan dy="1.43">&#8203;</tspan></text>
<line x1="218.80" y1="176.60" x2="220.20" y2="176.60" stroke="#3a3a3a" stroke-width="0.5"/>
<text x="218.40" y="177.70" font-size="3.8" text-anchor="end" font-weight="normal" fill="#111" stroke="#111" stroke-width="0.2">10<tspan font-size="2.6" dy="-1.43">2</tspan><tspan dy="1.43">&#8203;</tspan></text>
<line x1="264.40" y1="220.00" x2="264.40" y2="221.40" stroke="#3a3a3a" stroke-width="0.5"/>
<text x="264.40" y="225.20" font-size="3.8" text-anchor="middle" font-weight="normal" fill="#111" stroke="#111" stroke-width="0.2">10<tspan font-size="2.6" dy="-1.43">2</tspan><tspan dy="1.43">&#8203;</tspan></text>
<line x1="218.80" y1="198.30" x2="220.20" y2="198.30" stroke="#3a3a3a" stroke-width="0.5"/>
<text x="218.40" y="199.40" font-size="3.8" text-anchor="end" font-weight="normal" fill="#111" stroke="#111" stroke-width="0.2">10<tspan font-size="2.6" dy="-1.43">1</tspan><tspan dy="1.43">&#8203;</tspan></text>
<line x1="286.50" y1="220.00" x2="286.50" y2="221.40" stroke="#3a3a3a" stroke-width="0.5"/>
<text x="286.50" y="225.20" font-size="3.8" text-anchor="middle" font-weight="normal" fill="#111" stroke="#111" stroke-width="0.2">10<tspan font-size="2.6" dy="-1.43">3</tspan><tspan dy="1.43">&#8203;</tspan></text>
<line x1="218.80" y1="220.00" x2="220.20" y2="220.00" stroke="#3a3a3a" stroke-width="0.5"/>
<text x="218.40" y="221.10" font-size="3.8" text-anchor="end" font-weight="normal" fill="#111" stroke="#111" stroke-width="0.2">10<tspan font-size="2.6" dy="-1.43">0</tspan><tspan dy="1.43">&#8203;</tspan></text>
<line x1="308.60" y1="220.00" x2="308.60" y2="221.40" stroke="#3a3a3a" stroke-width="0.5"/>
<text x="308.60" y="225.20" font-size="3.8" text-anchor="middle" font-weight="normal" fill="#111" stroke="#111" stroke-width="0.2">10<tspan font-size="2.6" dy="-1.43">4</tspan><tspan dy="1.43">&#8203;</tspan></text>
<text x="2.60" y="255.00" font-size="11" text-anchor="start" font-weight="bold" fill="#000">E</text>
<line x1="49.50" y1="249.60" x2="49.50" y2="367.50" stroke="#9c9c9c" stroke-width="1.0"/>
<path d="M49.5 247.6l-1.5 2.8h3z" fill="#111"/>
<line x1="49.50" y1="367.50" x2="311.50" y2="367.50" stroke="#9c9c9c" stroke-width="1.0"/>
<path d="M313.5 367.5l-2.8 -1.5v3z" fill="#111"/>
<text transform="translate(43.50 309.50) rotate(-90) scale(1 1)" font-size="7.8" text-anchor="middle" font-weight="normal" fill="#222">p-Stat5</text>
<text x="178.30" y="376.20" font-size="8" text-anchor="middle" font-weight="normal" fill="#222">eGFP</text>
<text x="0.90" y="308.80" font-size="11.8" text-anchor="start" font-weight="normal" fill="#111">WT</text>
<text x="168.40" y="309.90" font-size="12" text-anchor="start" font-weight="normal" fill="#111">CCR8<tspan font-size="6.5" dy="-3.58">-/-</tspan><tspan dy="3.58">&#8203;</tspan></text>
<path d="M107.7 320.1h.01M105.7 308.2h.01M108.9 317.0h.01M109.3 316.7h.01M107.8 312.7h.01M106.0 314.1h.01M107.1 318.3h.01M110.1 310.4h.01M110.4 314.9h.01M111.7 320.4h.01M110.0 308.5h.01M110.3 309.3h.01M113.1 312.6h.01M107.8 321.6h.01M103.0 315.1h.01M105.1 313.1h.01M105.9 317.5h.01M107.4 316.3h.01M110.3 308.8h.01M112.6 314.1h.01M103.3 312.6h.01M111.0 318.7h.01M106.2 315.4h.01M109.1 318.8h.01M107.9 318.6h.01M105.6 312.4h.01M110.4 317.7h.01M108.2 317.2h.01M109.0 317.8h.01M111.9 316.9h.01M110.9 313.6h.01M106.6 306.4h.01M109.6 315.1h.01M110.0 308.2h.01M106.9 313.0h.01M102.8 318.3h.01M112.1 310.3h.01M109.7 321.4h.01M104.6 318.6h.01M113.2 321.9h.01M104.2 311.1h.01M109.0 319.4h.01M104.5 312.3h.01M104.9 319.1h.01M106.6 317.1h.01M110.3 319.3h.01M109.6 316.3h.01M111.9 316.8h.01M104.5 313.0h.01M111.1 315.5h.01M107.3 315.9h.01M118.5 314.8h.01M109.8 316.7h.01M107.5 319.4h.01M111.0 316.5h.01M104.2 319.7h.01M110.7 314.7h.01M100.1 314.8h.01M104.6 314.2h.01M106.8 312.0h.01M111.5 315.4h.01M112.2 311.5h.01M107.8 320.1h.01M109.4 312.3h.01M105.6 312.8h.01M108.1 317.6h.01M108.8 317.8h.01M110.9 315.5h.01M112.3 317.7h.01M107.8 314.4h.01M108.3 312.3h.01M104.2 315.2h.01M106.8 317.2h.01M106.5 315.4h.01M109.0 313.3h.01M108.9 312.3h.01M107.0 318.0h.01M109.5 315.0h.01M105.9 317.6h.01M114.5 307.0h.01M111.6 315.8h.01M111.7 319.3h.01M105.2 321.4h.01M106.5 314.1h.01M110.3 314.7h.01M109.2 313.1h.01M105.1 315.1h.01M105.0 320.0h.01M109.1 320.2h.01M104.5 307.3h.01M101.3 313.6h.01M104.4 316.3h.01M103.8 309.9h.01M109.2 313.5h.01M110.4 318.0h.01M109.4 310.5h.01M105.7 323.4h.01M107.6 316.1h.01M108.7 314.9h.01M107.8 312.9h.01M106.7 307.5h.01M113.5 314.6h.01M104.3 316.9h.01M110.4 309.7h.01M106.7 320.5h.01M110.0 316.6h.01M111.4 314.5h.01M107.4 320.9h.01M107.8 314.7h.01M110.3 315.1h.01M104.5 322.0h.01M108.1 321.6h.01M109.9 311.6h.01M113.1 314.3h.01M105.7 314.9h.01M101.7 316.5h.01M106.1 314.1h.01M105.6 317.5h.01M109.4 319.0h.01M113.4 316.0h.01M108.6 316.1h.01M105.8 313.0h.01M110.6 311.8h.01M102.4 313.7h.01M109.1 320.4h.01M106.1 311.5h.01M108.6 314.4h.01M109.1 313.1h.01M108.9 312.8h.01M111.3 316.0h.01M110.1 313.4h.01M103.9 315.0h.01M108.1 319.0h.01M111.3 314.8h.01M108.2 311.3h.01M108.2 315.7h.01M107.0 311.0h.01M112.2 311.6h.01M113.4 319.3h.01M113.0 311.8h.01M110.2 309.9h.01M107.2 309.3h.01M106.1 313.1h.01M111.2 318.9h.01M107.2 313.9h.01M105.4 310.8h.01M102.8 314.1h.01M110.1 312.1h.01M109.4 310.7h.01M105.2 313.0h.01M111.0 313.0h.01M110.6 313.6h.01M104.9 307.6h.01M106.8 311.4h.01M111.0 316.5h.01M103.3 318.0h.01M109.9 304.3h.01M105.1 315.8h.01M103.4 312.2h.01M109.8 315.8h.01M109.6 317.1h.01M105.6 323.6h.01M109.8 322.7h.01M107.4 316.9h.01M109.3 314.4h.01M109.2 315.8h.01M110.7 316.1h.01M108.4 316.7h.01M112.6 315.1h.01M110.1 315.4h.01M102.3 311.6h.01M105.5 309.8h.01M106.4 308.5h.01M109.1 312.9h.01M111.9 316.3h.01M104.4 314.1h.01M108.4 312.4h.01M107.1 310.9h.01M106.0 315.9h.01M107.2 319.2h.01M101.8 312.0h.01M107.1 320.2h.01M111.6 317.6h.01M111.2 320.6h.01M110.2 314.0h.01M108.8 312.2h.01M107.5 316.2h.01M106.7 315.2h.01M106.9 310.1h.01M103.9 317.3h.01M108.3 317.8h.01M107.9 314.8h.01M109.0 313.6h.01M112.3 318.4h.01M109.4 311.0h.01M106.6 315.5h.01M111.6 314.6h.01M108.1 316.7h.01M108.5 314.2h.01M104.8 319.2h.01M108.0 312.9h.01M107.8 310.0h.01M103.1 308.3h.01M109.2 310.0h.01M108.4 310.4h.01M102.8 312.5h.01M105.9 312.2h.01M113.3 315.4h.01M106.3 317.8h.01M107.1 319.1h.01M103.4 318.6h.01M104.8 312.0h.01M108.7 310.8h.01M103.1 313.2h.01M107.1 308.7h.01M111.0 311.7h.01M106.2 313.8h.01M108.2 318.4h.01M101.6 314.7h.01M110.7 315.5h.01M107.8 310.6h.01M109.0 312.9h.01M108.4 310.8h.01M107.1 314.1h.01M103.6 318.3h.01M107.6 310.0h.01M107.3 315.1h.01M107.0 310.9h.01M107.3 309.7h.01M103.0 318.8h.01M113.1 321.3h.01M114.8 319.5h.01M105.2 312.6h.01M111.3 312.9h.01M106.9 314.5h.01M109.3 309.7h.01M108.1 316.4h.01M101.8 318.7h.01M110.3 311.7h.01M113.5 316.1h.01M109.4 320.2h.01M100.3 314.6h.01M111.2 319.7h.01M107.9 313.9h.01M105.7 313.4h.01M105.4 306.0h.01M106.2 311.0h.01M106.2 312.9h.01M106.5 315.0h.01M107.8 313.3h.01M106.1 314.2h.01M107.1 314.1h.01M112.1 315.5h.01M106.8 307.2h.01M103.6 303.9h.01M110.6 318.6h.01M106.8 312.9h.01M109.4 316.7h.01M102.8 313.7h.01M107.1 310.1h.01M112.2 317.3h.01M106.2 314.4h.01M106.3 312.8h.01M106.8 318.3h.01M108.0 312.9h.01M105.9 315.5h.01M105.4 308.8h.01M107.6 320.3h.01M106.0 315.2h.01M107.4 319.0h.01M109.4 310.0h.01M113.2 314.6h.01M105.2 312.8h.01M108.2 318.5h.01M107.2 311.9h.01M112.0 320.3h.01M106.9 315.1h.01M109.1 313.5h.01M105.2 318.4h.01M104.7 308.0h.01M109.7 318.8h.01M110.4 311.8h.01M107.3 310.7h.01M106.4 305.7h.01M105.4 319.6h.01M104.5 320.8h.01M108.5 307.5h.01M110.8 311.2h.01M109.7 314.0h.01M106.9 314.0h.01M104.0 311.9h.01M106.8 321.0h.01M106.3 315.8h.01M109.4 319.0h.01M107.3 315.3h.01M105.2 323.8h.01M103.5 315.5h.01M107.0 315.2h.01M106.4 313.0h.01M111.0 318.1h.01M107.8 314.1h.01M108.6 314.4h.01M109.3 317.4h.01M109.4 308.9h.01M107.9 310.8h.01M109.4 313.6h.01M108.9 314.3h.01M110.8 319.5h.01M108.6 309.3h.01M108.1 321.8h.01M106.0 314.4h.01M115.4 320.8h.01M110.0 315.5h.01M104.1 320.6h.01M110.8 308.6h.01M107.7 314.2h.01M107.9 312.3h.01M115.5 311.5h.01M112.5 316.9h.01M108.1 316.3h.01M110.3 311.8h.01M106.9 319.0h.01M110.9 316.1h.01M104.5 308.8h.01M112.6 319.9h.01M109.6 316.1h.01M107.1 316.5h.01M111.7 317.4h.01M106.4 316.0h.01M106.5 314.4h.01M104.8 306.2h.01M104.9 315.4h.01M105.7 316.6h.01M106.4 315.8h.01M106.7 319.9h.01M106.9 314.8h.01M111.5 320.1h.01M104.6 320.0h.01M104.9 311.2h.01M105.6 318.3h.01M104.9 316.8h.01M109.3 314.0h.01M109.5 322.2h.01M112.9 311.7h.01M108.9 313.3h.01M107.7 312.8h.01M109.7 311.6h.01M104.4 314.9h.01M109.1 319.1h.01M110.1 311.6h.01M105.3 315.9h.01M108.9 317.3h.01M112.1 306.7h.01M106.3 316.7h.01M104.9 320.7h.01M107.9 316.9h.01M107.5 316.0h.01M109.3 316.7h.01M104.0 307.9h.01M107.9 317.6h.01M107.4 314.1h.01M111.3 317.1h.01M105.3 315.3h.01M107.5 315.0h.01M107.9 316.8h.01M108.1 316.0h.01M108.2 314.0h.01M106.4 315.7h.01M109.5 320.4h.01M115.6 312.3h.01M106.2 318.5h.01M106.9 315.2h.01M104.3 316.9h.01M103.8 318.3h.01M105.6 315.6h.01M111.1 311.7h.01M107.8 322.4h.01M104.0 315.2h.01M102.2 316.0h.01M107.6 310.7h.01M104.6 319.2h.01M110.1 310.4h.01M110.6 311.4h.01M105.7 316.2h.01M107.8 316.7h.01M111.4 312.5h.01M109.8 315.8h.01M103.2 317.6h.01M111.1 309.8h.01M107.2 318.3h.01M110.8 313.4h.01M107.4 313.7h.01M104.5 315.1h.01M114.4 309.7h.01M108.0 311.4h.01M112.6 308.8h.01M110.8 316.3h.01M105.6 313.6h.01M108.3 320.9h.01M109.0 319.0h.01M111.3 315.1h.01M108.3 314.5h.01M113.0 319.4h.01M111.1 312.4h.01M107.3 317.5h.01M107.6 309.9h.01M103.7 316.4h.01M110.4 316.7h.01M112.8 309.1h.01M102.8 315.2h.01M110.7 311.7h.01M108.9 315.9h.01M106.7 311.7h.01M107.1 314.4h.01M110.3 313.7h.01M105.2 310.8h.01M106.7 316.5h.01M105.5 313.4h.01M109.7 315.6h.01M114.2 316.5h.01M110.0 322.3h.01M102.5 308.5h.01M105.7 315.1h.01M111.6 317.1h.01M106.5 309.5h.01M109.2 313.7h.01M105.1 310.2h.01M110.1 313.6h.01M108.6 314.3h.01M105.7 312.9h.01M106.2 314.3h.01M105.9 316.8h.01M105.0 315.4h.01M108.4 316.7h.01M98.9 316.8h.01M109.0 312.9h.01M106.9 313.1h.01M103.5 325.2h.01M107.3 316.0h.01M104.3 312.8h.01M100.7 314.0h.01M105.2 314.3h.01M109.0 319.2h.01M107.9 310.3h.01M106.2 316.3h.01M113.2 305.4h.01M103.9 311.7h.01M107.2 316.5h.01M111.9 316.3h.01M112.0 311.9h.01M105.2 308.3h.01M105.3 316.6h.01M107.6 321.4h.01M106.7 310.5h.01M109.2 306.8h.01M110.0 315.3h.01M103.3 315.8h.01M108.2 318.5h.01M106.7 312.0h.01M107.5 313.5h.01M104.4 317.3h.01M110.3 311.3h.01M105.7 310.0h.01M106.0 311.4h.01M107.4 316.3h.01M111.9 310.5h.01M105.1 309.7h.01M107.3 316.7h.01M104.7 313.8h.01M104.4 308.7h.01M105.7 316.8h.01M106.3 307.4h.01M104.3 312.6h.01M113.2 309.5h.01M115.8 317.3h.01M111.1 317.2h.01M99.7 314.6h.01M108.1 315.7h.01M111.2 313.6h.01M104.9 315.6h.01M107.9 315.5h.01M106.0 313.7h.01M98.1 314.6h.01M110.6 314.3h.01M107.2 316.2h.01M106.5 313.2h.01M112.7 320.3h.01M102.1 311.9h.01M108.4 316.8h.01M103.9 312.0h.01M109.5 318.4h.01M104.7 313.0h.01M106.7 318.2h.01M109.1 315.6h.01M113.3 317.1h.01M108.0 320.0h.01M112.7 319.5h.01M113.3 315.8h.01M101.6 313.1h.01M108.4 314.2h.01M110.2 315.5h.01M113.8 316.6h.01M110.8 318.9h.01M112.4 312.7h.01M112.3 314.4h.01M101.8 320.8h.01M108.8 319.1h.01M104.8 316.9h.01M105.7 323.3h.01M112.6 314.3h.01M100.6 314.8h.01M108.9 314.2h.01M109.1 313.5h.01M109.9 316.1h.01M105.6 317.6h.01M109.6 314.0h.01M105.9 311.2h.01M115.0 323.1h.01M110.4 312.9h.01M110.3 311.7h.01M104.8 307.3h.01M106.2 312.0h.01M111.2 315.9h.01M105.9 313.2h.01M107.5 314.3h.01M107.9 318.7h.01M103.3 315.2h.01M108.3 317.5h.01M107.7 311.7h.01M110.5 318.7h.01M105.6 318.5h.01M115.8 312.8h.01M110.1 305.3h.01M108.8 311.3h.01M109.4 313.8h.01M108.9 318.7h.01M110.9 318.0h.01M106.0 313.9h.01M107.9 313.1h.01M105.6 314.8h.01M109.6 313.8h.01M104.5 318.5h.01M106.2 321.0h.01M108.9 315.5h.01M111.8 315.0h.01M104.3 315.2h.01M101.9 315.9h.01M108.4 316.6h.01M108.1 321.4h.01M108.6 313.0h.01M117.0 314.7h.01M110.4 314.0h.01M107.1 314.4h.01M106.2 314.5h.01M107.3 312.7h.01M105.5 313.3h.01M100.7 315.6h.01M100.0 313.2h.01M107.6 312.1h.01M107.9 321.2h.01M108.3 312.6h.01M108.9 311.8h.01M102.2 311.5h.01M109.6 313.5h.01M109.5 316.8h.01M101.9 308.9h.01M105.1 309.6h.01M109.5 310.9h.01M104.2 319.1h.01M103.5 309.5h.01M111.4 314.5h.01M107.1 316.2h.01M105.7 313.0h.01M106.6 318.5h.01M107.4 309.2h.01M103.8 315.9h.01M103.4 308.9h.01M105.6 308.2h.01M108.3 321.6h.01M113.5 314.9h.01M112.1 315.0h.01M107.7 316.7h.01M107.9 312.6h.01M107.5 313.2h.01M108.8 318.1h.01M104.0 312.3h.01M104.2 320.2h.01M109.9 315.0h.01M104.8 317.7h.01M104.5 308.4h.01M105.5 318.8h.01M107.4 312.6h.01M105.8 317.5h.01M105.0 312.0h.01M109.3 316.5h.01M107.4 316.0h.01M108.8 307.0h.01M107.8 312.1h.01M107.3 314.1h.01M108.6 317.3h.01M104.8 311.9h.01M106.3 314.1h.01M103.0 314.5h.01M110.0 312.1h.01M102.2 316.9h.01M111.9 316.0h.01M112.3 318.5h.01M107.5 313.4h.01M114.9 316.9h.01M106.6 319.1h.01M105.4 312.9h.01M111.9 318.0h.01M106.4 317.9h.01M110.2 306.5h.01M107.4 317.8h.01M108.5 310.7h.01M110.3 312.4h.01M110.3 315.6h.01M111.2 311.8h.01M113.5 313.5h.01M107.2 312.5h.01M107.5 315.0h.01M106.9 316.8h.01M109.6 313.8h.01M107.6 315.2h.01M110.6 319.2h.01M105.1 317.0h.01M110.0 309.6h.01M109.2 320.4h.01M106.4 310.2h.01M101.3 314.5h.01M107.1 313.9h.01M110.3 310.1h.01M107.5 320.8h.01M112.4 312.2h.01M102.4 315.6h.01M108.9 315.2h.01M105.0 317.1h.01M105.3 310.5h.01M105.1 314.2h.01M107.6 310.0h.01M109.0 319.2h.01M102.9 316.3h.01M105.4 304.6h.01M108.3 310.3h.01M106.8 312.0h.01M99.3 310.9h.01M110.3 317.2h.01M103.7 317.0h.01M109.7 319.7h.01M113.9 320.6h.01M111.8 317.1h.01M108.0 310.0h.01M107.7 318.0h.01M110.6 312.1h.01M101.1 311.2h.01M102.5 315.3h.01M103.4 310.6h.01M106.9 313.2h.01M108.3 317.5h.01M108.7 319.3h.01M105.5 316.3h.01M116.7 315.9h.01M106.0 314.8h.01M107.3 313.3h.01M112.4 321.4h.01M106.6 311.7h.01M111.2 318.9h.01M108.1 317.8h.01M107.2 319.6h.01M108.0 315.8h.01M110.1 311.0h.01M108.8 315.5h.01M111.0 312.3h.01M101.9 312.2h.01M109.4 314.9h.01M109.2 320.0h.01M110.9 317.6h.01M108.8 311.1h.01M107.6 313.7h.01M105.1 315.0h.01M106.6 311.4h.01M104.6 308.1h.01M113.0 311.9h.01M105.9 305.7h.01M107.4 314.9h.01M109.0 311.4h.01M104.3 322.1h.01M106.7 315.7h.01M108.2 314.4h.01M112.4 316.4h.01M110.2 319.7h.01M110.5 314.7h.01M104.7 317.7h.01M107.8 309.2h.01M110.0 321.2h.01M111.0 315.9h.01M112.9 316.5h.01M104.8 315.3h.01M110.1 313.5h.01M105.4 310.0h.01M112.6 317.3h.01M105.4 319.5h.01M108.1 311.3h.01M105.6 316.9h.01M111.1 317.3h.01M106.8 305.6h.01M104.4 316.2h.01M104.8 309.9h.01M104.1 306.9h.01M112.2 306.8h.01M104.5 316.2h.01M109.8 318.4h.01M105.2 314.3h.01M113.6 311.6h.01M109.1 311.9h.01M102.8 311.2h.01M104.9 317.6h.01M110.5 322.6h.01M105.1 312.9h.01M109.5 312.4h.01M105.0 313.9h.01M110.8 312.1h.01M113.3 312.4h.01M111.0 317.7h.01M106.3 314.7h.01M111.9 309.9h.01M111.4 313.8h.01M110.7 318.7h.01M109.3 312.2h.01M108.2 310.5h.01M101.5 321.3h.01M105.5 305.6h.01M108.9 307.9h.01M109.2 320.4h.01M112.2 318.2h.01M106.9 311.2h.01M101.3 310.1h.01M107.0 311.8h.01M113.1 313.2h.01M107.0 318.1h.01M106.2 317.8h.01M109.5 311.6h.01M110.4 313.5h.01M106.5 317.0h.01M108.3 312.9h.01M111.0 320.1h.01M107.9 312.5h.01M107.1 315.2h.01M111.5 308.5h.01M113.1 316.2h.01M108.2 324.9h.01M112.1 321.7h.01M106.9 319.0h.01M102.9 312.7h.01M104.8 319.6h.01M109.4 309.6h.01M111.1 315.9h.01M109.8 326.2h.01M102.6 318.2h.01M106.0 316.0h.01M109.7 319.9h.01M110.7 317.0h.01M100.7 312.9h.01M108.6 313.4h.01M106.0 317.6h.01M108.2 312.9h.01M107.1 311.8h.01M105.8 312.5h.01M110.8 320.8h.01M109.5 311.7h.01M106.6 316.4h.01M106.2 317.6h.01M112.9 320.2h.01M105.8 315.5h.01M107.9 316.7h.01M104.9 315.2h.01M108.7 311.5h.01M108.4 316.7h.01M107.5 312.5h.01M108.7 315.8h.01M105.4 313.7h.01M107.9 311.2h.01M109.3 312.4h.01M104.2 318.8h.01M111.7 309.8h.01M106.5 310.8h.01M101.9 318.3h.01M106.4 317.8h.01M106.5 310.4h.01M110.2 312.8h.01M110.3 309.3h.01M112.3 320.6h.01M105.8 306.7h.01M101.9 313.4h.01M101.7 312.9h.01M108.6 312.3h.01M109.3 313.2h.01M105.3 314.4h.01M105.7 315.7h.01M106.3 320.2h.01M105.1 317.2h.01M109.0 316.3h.01M106.9 311.2h.01M102.0 311.4h.01M110.0 316.1h.01M110.6 310.0h.01M108.6 312.6h.01M102.7 317.6h.01M112.6 313.5h.01M110.7 314.0h.01M104.5 307.3h.01M110.1 318.8h.01M106.6 318.6h.01M110.3 312.0h.01M110.6 317.6h.01M105.9 313.1h.01M108.8 311.7h.01M104.2 315.3h.01M114.3 315.9h.01M106.3 312.5h.01M112.4 311.5h.01M105.1 312.2h.01M107.2 312.2h.01M107.4 314.8h.01M111.8 316.2h.01M102.3 313.4h.01M104.8 310.1h.01M106.6 311.4h.01M107.8 312.4h.01M112.1 313.7h.01M103.8 316.7h.01M105.6 315.7h.01M102.7 307.7h.01M102.7 310.6h.01M102.1 320.3h.01M112.5 311.9h.01M113.6 318.6h.01M104.9 313.0h.01M109.6 310.3h.01M109.9 310.5h.01M111.2 322.1h.01M108.7 318.9h.01M108.2 316.0h.01M104.9 314.7h.01M112.5 318.8h.01M104.2 312.7h.01M109.6 317.3h.01M107.7 309.7h.01M105.9 316.6h.01M110.8 312.3h.01M109.1 319.8h.01M105.0 310.3h.01M107.6 318.6h.01M107.5 315.5h.01M103.7 315.3h.01M101.5 314.6h.01M106.5 319.8h.01M110.0 309.3h.01M112.3 322.6h.01M108.3 315.5h.01M105.9 312.9h.01M107.1 316.4h.01M108.3 313.7h.01M104.1 324.4h.01M111.3 318.6h.01M106.1 312.1h.01M106.7 313.1h.01M110.8 308.5h.01M107.7 313.7h.01M107.2 316.5h.01M108.5 314.5h.01M108.8 306.0h.01M109.9 313.5h.01M109.1 313.3h.01M103.5 317.0h.01M106.0 315.5h.01M105.7 312.3h.01M111.1 309.1h.01M112.8 317.9h.01M108.5 317.0h.01M115.2 314.0h.01M102.4 311.2h.01M106.1 313.1h.01M103.6 314.2h.01M110.1 316.6h.01M108.3 309.4h.01M109.5 315.4h.01M109.5 314.3h.01M111.6 310.6h.01M107.4 317.4h.01M106.8 315.8h.01M111.4 324.7h.01M102.3 314.7h.01M108.6 312.2h.01M107.9 308.0h.01M110.4 316.3h.01M105.1 317.5h.01M104.9 313.1h.01M114.6 308.6h.01M101.8 315.9h.01M108.6 322.5h.01M112.6 316.2h.01M104.1 311.7h.01M106.7 319.6h.01M105.9 315.3h.01M103.9 316.7h.01M114.1 314.1h.01M106.9 310.8h.01M107.3 312.1h.01M104.3 319.5h.01M107.5 315.7h.01M108.7 314.9h.01M107.8 313.4h.01M109.4 311.1h.01M105.1 314.3h.01M108.0 308.8h.01M105.9 310.9h.01M107.5 319.2h.01M104.6 316.1h.01M111.7 313.8h.01M109.4 310.8h.01M102.5 317.7h.01M108.2 320.8h.01M107.6 312.0h.01M110.7 321.1h.01M110.7 312.4h.01M108.8 316.9h.01M106.0 313.6h.01M112.1 316.4h.01M108.9 313.7h.01M108.8 314.2h.01M108.5 316.5h.01M105.5 315.3h.01M105.9 314.8h.01M103.3 314.1h.01M106.6 316.4h.01M106.8 309.1h.01M107.9 302.9h.01M105.6 318.5h.01M105.3 312.7h.01M104.9 315.8h.01M105.5 317.0h.01M109.0 309.7h.01M113.1 309.9h.01M107.1 317.1h.01M101.5 313.3h.01M109.9 317.2h.01M106.6 314.7h.01M112.0 309.4h.01M105.7 320.3h.01M108.4 316.3h.01M106.3 312.1h.01M104.1 319.3h.01M108.1 309.5h.01M109.8 312.3h.01M111.2 309.2h.01M105.9 313.4h.01M103.0 316.3h.01M110.4 313.3h.01M104.3 308.2h.01M109.7 313.8h.01M106.1 314.9h.01M108.8 308.5h.01M110.9 313.1h.01M107.9 313.8h.01M108.6 318.6h.01M104.5 313.5h.01M104.5 312.7h.01M107.5 313.7h.01M108.3 313.6h.01M112.0 315.0h.01M113.0 314.7h.01M105.3 317.8h.01M111.6 311.6h.01M108.2 312.1h.01M105.4 316.3h.01M108.6 318.4h.01M106.1 317.3h.01M111.5 315.1h.01M106.4 316.5h.01M110.8 310.3h.01M108.6 321.8h.01M108.3 313.4h.01M109.0 315.3h.01M112.1 311.7h.01M104.0 313.0h.01M111.6 313.9h.01M110.0 315.2h.01M108.1 319.5h.01M107.4 319.7h.01M112.8 316.5h.01M109.2 316.2h.01M108.0 314.0h.01M111.2 317.6h.01M108.1 314.4h.01M110.6 318.4h.01M106.5 320.7h.01M107.0 317.2h.01M107.6 313.9h.01M109.5 313.2h.01M107.4 307.7h.01M110.2 310.5h.01M110.5 316.8h.01M109.8 319.8h.01M109.8 314.7h.01M106.5 309.9h.01M111.0 309.7h.01M110.4 311.3h.01M103.0 318.5h.01M108.5 315.5h.01M107.1 322.3h.01M106.2 316.6h.01M110.2 320.1h.01M108.0 316.9h.01M106.8 309.1h.01M106.8 320.7h.01M106.3 311.2h.01M112.0 312.3h.01M108.7 315.0h.01M107.0 309.8h.01M112.7 319.1h.01M109.2 316.0h.01M107.1 319.5h.01M105.4 306.9h.01M107.9 315.6h.01M108.7 316.7h.01M109.7 311.6h.01M104.9 316.8h.01M109.1 313.6h.01M106.5 316.3h.01M108.6 322.5h.01M110.2 316.6h.01M112.8 309.0h.01M107.0 311.2h.01M103.5 314.7h.01M114.7 314.6h.01M102.5 309.1h.01M105.0 316.5h.01M111.6 308.9h.01M109.7 310.2h.01M111.4 316.0h.01M108.3 310.5h.01M103.5 310.7h.01M107.8 319.0h.01M113.5 307.8h.01M108.4 314.2h.01M104.6 310.8h.01M111.0 308.1h.01M104.9 315.0h.01M112.7 318.4h.01M107.9 307.5h.01M106.5 316.8h.01M105.7 319.2h.01M108.0 314.8h.01M105.4 315.9h.01M104.8 312.9h.01M109.7 314.5h.01M115.5 309.5h.01M106.1 311.0h.01M104.5 322.9h.01M101.5 315.3h.01M106.9 313.3h.01M105.2 314.8h.01M106.8 315.6h.01M105.6 315.6h.01M108.0 321.1h.01M106.7 318.2h.01M109.2 316.1h.01M108.9 314.4h.01M106.6 313.3h.01M103.1 312.7h.01M104.1 311.6h.01M100.9 313.4h.01M105.7 315.6h.01M106.1 322.0h.01M107.0 308.7h.01M105.7 310.0h.01M106.7 322.1h.01M110.5 310.4h.01M113.0 313.5h.01M112.0 321.2h.01M105.5 307.7h.01M107.3 314.7h.01M106.3 319.2h.01M108.6 315.4h.01M110.4 313.7h.01M106.8 312.5h.01M109.5 320.8h.01M108.2 319.2h.01M105.5 315.6h.01M112.4 305.8h.01M105.8 312.6h.01M112.7 317.2h.01M115.1 310.2h.01M112.6 316.8h.01M109.6 317.1h.01M108.7 308.6h.01M109.3 319.3h.01M105.6 313.6h.01M112.5 311.8h.01M108.9 315.3h.01M105.8 312.7h.01M103.6 311.5h.01M103.6 314.4h.01M112.5 312.1h.01M103.6 316.6h.01M111.5 314.3h.01M108.9 310.3h.01M112.2 317.5h.01M112.1 321.0h.01M110.4 310.1h.01M108.8 314.4h.01M109.5 306.6h.01M107.4 318.1h.01M112.5 316.6h.01M112.3 315.2h.01M103.6 313.7h.01M106.5 304.8h.01M105.2 307.9h.01M111.1 316.8h.01M103.9 306.1h.01M106.7 321.8h.01M101.9 311.6h.01M106.2 316.9h.01M110.5 310.7h.01M105.6 310.6h.01M109.2 311.6h.01M113.7 317.3h.01M107.2 313.7h.01M114.6 312.5h.01M105.5 313.6h.01M107.9 308.1h.01M110.3 310.8h.01M109.9 305.7h.01M107.1 311.0h.01M109.4 316.8h.01M100.9 312.0h.01M111.2 317.8h.01M109.8 311.8h.01M103.3 317.1h.01M107.8 314.9h.01M107.5 315.6h.01M110.9 313.2h.01M109.2 313.2h.01M105.1 318.9h.01M110.2 317.3h.01M107.5 314.9h.01M104.2 323.2h.01M106.9 315.1h.01M106.9 311.6h.01M102.1 316.3h.01M108.6 316.1h.01M105.6 317.8h.01M104.8 314.6h.01M112.0 310.5h.01M109.0 308.8h.01M105.5 317.6h.01M105.2 316.0h.01M108.2 311.4h.01M106.7 315.6h.01M108.7 318.2h.01M109.7 312.8h.01M105.8 311.2h.01M108.8 314.7h.01M105.8 319.3h.01M109.2 316.0h.01M108.5 318.4h.01M112.7 317.2h.01M102.6 317.3h.01M110.5 305.8h.01M112.9 319.0h.01M104.7 315.6h.01M108.1 314.0h.01M106.0 320.7h.01M113.2 315.4h.01M107.6 314.5h.01M110.3 316.0h.01M104.6 307.7h.01M108.0 313.6h.01M105.3 311.6h.01M105.4 315.5h.01M110.3 310.2h.01M109.9 314.1h.01M106.9 316.2h.01M108.2 316.7h.01M106.5 312.0h.01M109.5 309.7h.01M109.6 317.4h.01M110.4 309.4h.01M115.3 316.3h.01M101.4 318.3h.01M104.3 311.2h.01M107.2 316.5h.01M107.9 311.0h.01M104.0 316.0h.01M109.3 313.5h.01M109.1 306.9h.01M109.1 315.8h.01M113.9 308.9h.01M104.2 310.1h.01M111.4 315.7h.01M109.6 314.0h.01M106.6 315.6h.01M107.8 314.8h.01M108.7 312.4h.01M110.0 314.0h.01M105.3 314.4h.01M107.4 316.0h.01M117.1 315.8h.01M106.7 313.2h.01M110.4 314.2h.01M105.8 312.2h.01M108.6 318.3h.01M110.8 316.5h.01M111.0 315.5h.01M112.0 319.0h.01M107.9 316.1h.01M112.6 309.0h.01M106.9 314.9h.01M99.6 317.1h.01M107.3 314.1h.01M111.1 323.0h.01M104.5 315.0h.01M104.3 313.1h.01M105.7 312.1h.01M111.0 315.0h.01M104.8 319.7h.01M102.8 322.1h.01M110.3 318.3h.01M112.3 313.0h.01M111.2 315.0h.01M109.7 313.4h.01M107.5 321.9h.01M108.6 311.8h.01M106.5 310.7h.01M108.6 313.9h.01M113.4 317.0h.01M110.0 311.5h.01M107.7 314.0h.01M106.7 316.4h.01M109.3 318.6h.01M108.7 313.6h.01M107.6 312.6h.01M105.4 311.1h.01M107.2 315.1h.01M103.1 318.8h.01M110.0 319.8h.01M109.7 312.0h.01M110.2 316.0h.01M106.5 310.4h.01M106.6 313.4h.01M105.1 319.1h.01M106.4 311.7h.01M107.8 315.5h.01M109.4 318.5h.01M107.3 316.8h.01M110.4 312.1h.01M108.5 317.7h.01M110.3 312.9h.01M111.0 314.7h.01M105.7 311.8h.01M108.9 318.7h.01M106.8 317.3h.01M109.5 316.1h.01M110.9 319.2h.01M105.8 319.3h.01M113.5 315.9h.01M106.3 318.5h.01M108.1 309.0h.01M110.7 314.5h.01M103.6 316.2h.01M109.7 320.3h.01M110.5 311.9h.01M109.0 318.0h.01M106.7 311.9h.01M108.2 312.5h.01M106.9 318.7h.01M106.0 311.9h.01M108.1 310.0h.01M108.4 313.5h.01M105.1 315.3h.01M103.6 319.0h.01M106.8 312.2h.01M106.2 313.6h.01M109.8 314.4h.01M108.8 315.6h.01M109.0 316.9h.01M111.6 315.5h.01M109.7 322.0h.01M106.4 314.4h.01M102.8 319.4h.01M111.6 313.4h.01M111.1 310.7h.01M114.4 308.1h.01M106.4 314.2h.01M107.2 317.3h.01M107.6 308.8h.01M108.2 311.3h.01M106.1 318.6h.01" stroke="#0c0c0c" stroke-width="0.75" stroke-linecap="square" fill="none" opacity="0.9"/>
<path d="M106.9 313.0h.01M114.0 303.0h.01M111.0 319.0h.01M100.5 318.3h.01M112.3 308.2h.01M107.5 326.6h.01M109.1 312.9h.01M114.3 311.7h.01M105.5 310.8h.01M96.0 318.9h.01M108.3 308.2h.01M112.6 326.1h.01M116.2 303.4h.01M113.2 321.3h.01M114.1 314.2h.01M114.2 310.4h.01M105.7 308.9h.01M99.1 316.1h.01M101.5 307.3h.01M108.7 317.4h.01M109.5 313.5h.01M110.8 320.2h.01M108.8 312.9h.01M107.2 322.1h.01M112.8 312.4h.01M111.1 320.1h.01M109.1 319.8h.01M112.3 313.0h.01M109.4 314.9h.01M106.0 315.4h.01M109.8 305.9h.01M98.8 311.7h.01M104.3 313.7h.01M103.5 307.9h.01M110.3 302.2h.01M109.9 317.1h.01M107.8 316.1h.01M100.2 316.6h.01M108.6 313.0h.01M112.5 311.8h.01M111.7 311.8h.01M106.8 318.8h.01M107.8 315.1h.01M113.1 319.0h.01M107.2 310.5h.01M112.5 314.6h.01M110.1 331.0h.01M107.5 310.4h.01M109.5 313.5h.01M111.0 314.7h.01M102.2 320.4h.01M103.3 311.6h.01M110.7 307.0h.01M115.6 317.6h.01M115.5 316.9h.01M102.3 316.9h.01M102.1 312.4h.01M110.4 319.4h.01M108.0 315.8h.01M101.9 305.9h.01M109.3 310.8h.01M101.6 308.5h.01M105.2 313.2h.01M107.0 313.5h.01M102.0 310.9h.01M111.4 322.9h.01M114.8 310.1h.01M112.3 316.1h.01M104.9 314.5h.01M101.4 302.4h.01M110.2 323.4h.01M105.2 307.7h.01M116.3 312.0h.01M103.0 324.2h.01M104.6 317.4h.01M110.7 302.1h.01M117.9 311.2h.01M106.8 317.8h.01M114.1 321.1h.01M102.7 313.5h.01M103.9 313.4h.01M104.7 308.4h.01M115.1 310.1h.01M103.4 310.2h.01M108.3 319.8h.01M107.9 316.5h.01M105.0 325.8h.01M106.8 319.2h.01M110.4 317.4h.01M106.5 312.9h.01M116.0 319.0h.01M102.2 312.3h.01M106.5 318.7h.01M109.3 316.9h.01M105.3 310.7h.01M101.0 327.8h.01M108.5 317.7h.01M110.5 304.1h.01M109.4 316.8h.01M109.1 315.6h.01M108.2 321.5h.01M112.4 303.6h.01M112.7 315.5h.01M104.0 320.4h.01M112.1 308.5h.01M103.7 313.4h.01M108.6 312.5h.01M103.6 308.5h.01M109.8 315.3h.01M112.3 324.5h.01M106.0 313.4h.01M111.7 312.4h.01M118.0 317.7h.01M112.1 313.9h.01M110.2 304.3h.01M120.4 313.5h.01M112.5 316.3h.01M108.6 317.7h.01M115.3 314.3h.01M108.7 318.3h.01M115.6 320.8h.01M108.7 310.8h.01M108.6 319.8h.01M111.2 322.1h.01M101.6 316.7h.01M112.0 313.3h.01M110.5 320.2h.01M105.9 310.0h.01M104.2 311.5h.01M106.6 314.8h.01M102.0 313.3h.01M116.0 316.2h.01M111.5 314.1h.01M108.2 322.2h.01M116.0 312.2h.01M103.4 315.5h.01M102.1 313.4h.01M114.2 323.5h.01M110.1 310.7h.01M105.5 299.2h.01M104.8 308.4h.01M107.6 310.6h.01M107.9 318.2h.01M100.4 314.5h.01M107.0 312.0h.01M100.4 312.2h.01M103.4 319.1h.01M115.3 313.3h.01M110.1 315.2h.01M112.6 315.1h.01M101.7 310.2h.01M113.1 311.3h.01M96.1 319.3h.01M103.8 313.6h.01M106.0 319.7h.01M104.6 305.5h.01M110.8 322.7h.01M113.0 313.3h.01M108.6 318.1h.01M108.3 317.2h.01M103.0 306.4h.01M111.5 319.6h.01M114.7 313.2h.01M121.5 318.7h.01M104.1 307.7h.01M111.3 315.8h.01M110.2 317.4h.01M108.5 325.1h.01M100.0 319.6h.01M101.4 311.9h.01M113.0 331.2h.01M112.7 310.0h.01M108.9 323.6h.01M103.0 312.7h.01M99.1 311.1h.01M111.2 325.7h.01M104.3 303.0h.01M108.7 316.6h.01M105.8 314.0h.01M119.2 319.0h.01M104.2 301.2h.01M113.9 307.6h.01M114.0 323.7h.01M103.3 316.8h.01M105.0 309.9h.01M103.3 311.4h.01M111.8 310.5h.01M102.9 317.8h.01M103.1 315.5h.01M110.0 318.0h.01M109.7 327.0h.01M109.5 312.0h.01M107.7 315.7h.01M123.2 308.7h.01M102.5 321.8h.01M104.2 320.3h.01M117.4 312.1h.01M107.9 310.9h.01M108.3 317.6h.01M111.2 316.8h.01M104.1 317.5h.01M106.0 313.0h.01M116.1 324.0h.01M111.7 316.5h.01M103.2 304.9h.01M110.8 310.7h.01M109.9 308.4h.01M112.9 309.8h.01M116.0 323.1h.01M107.3 307.6h.01M106.1 319.6h.01M113.1 320.5h.01M112.7 317.3h.01M116.4 319.2h.01M109.4 323.5h.01M108.3 308.3h.01M106.6 307.9h.01M103.3 315.0h.01M105.5 320.3h.01M94.4 312.8h.01M116.4 312.7h.01M109.6 320.7h.01M108.7 311.5h.01M112.1 302.5h.01M109.5 312.3h.01M111.1 317.1h.01M115.1 305.2h.01M104.6 315.4h.01M115.7 310.7h.01M112.8 313.6h.01M105.5 308.2h.01M101.7 314.7h.01M99.5 317.1h.01M101.2 316.5h.01M116.0 309.1h.01M109.2 324.5h.01M102.2 320.1h.01M120.5 304.3h.01M113.7 314.6h.01M105.8 320.0h.01M106.7 298.1h.01M106.4 311.2h.01M111.8 312.1h.01M109.4 314.8h.01M110.4 310.8h.01M108.3 311.1h.01M105.5 312.3h.01M108.9 322.2h.01M110.9 316.5h.01M106.9 320.3h.01M111.2 318.2h.01M108.4 319.7h.01M110.3 313.1h.01M113.4 319.6h.01M113.5 315.6h.01M99.9 313.1h.01M109.1 307.8h.01M110.5 309.0h.01M112.7 307.3h.01M100.0 312.1h.01M106.3 315.8h.01M114.8 315.5h.01M116.1 318.4h.01M109.2 317.6h.01M110.2 315.2h.01M116.5 311.1h.01M104.2 311.5h.01M108.8 318.9h.01M120.3 315.7h.01M102.3 301.9h.01M114.0 306.1h.01M116.1 318.0h.01M103.5 319.3h.01M107.3 322.8h.01M103.9 313.7h.01M107.2 308.6h.01M110.5 317.2h.01M114.9 311.6h.01M110.9 310.5h.01M103.2 317.5h.01M105.4 315.4h.01M111.2 308.6h.01M112.9 314.0h.01M108.8 315.6h.01M106.6 326.3h.01M102.3 306.9h.01M100.1 314.3h.01M118.3 316.1h.01M108.0 318.3h.01M116.6 311.4h.01M114.8 319.2h.01M103.9 318.7h.01M116.8 308.8h.01M110.5 321.6h.01M102.5 310.8h.01M115.1 322.4h.01M101.4 302.2h.01M104.5 313.4h.01M107.9 314.2h.01M110.5 311.5h.01M111.9 316.2h.01M117.6 321.3h.01M100.8 323.1h.01M105.7 319.4h.01M114.7 314.1h.01M110.4 313.7h.01M114.0 308.5h.01M105.9 317.4h.01M105.8 313.7h.01M112.6 318.9h.01M120.1 309.7h.01M102.1 311.3h.01M101.3 319.0h.01M108.6 318.7h.01M104.4 306.4h.01M99.1 310.3h.01M98.4 314.5h.01M110.9 316.5h.01M116.5 299.4h.01M112.4 318.5h.01M103.1 318.9h.01M109.8 324.2h.01M119.8 309.6h.01M110.6 316.2h.01M110.4 314.0h.01M109.6 329.2h.01M114.1 323.0h.01M111.9 316.4h.01M98.2 310.0h.01M111.9 315.3h.01M109.5 310.9h.01M111.0 315.6h.01M110.5 310.4h.01M102.1 316.3h.01M105.6 310.1h.01M115.3 320.0h.01M113.8 313.0h.01M109.8 323.9h.01M109.5 313.1h.01M114.0 312.6h.01M104.7 318.5h.01M109.1 323.9h.01M111.5 315.1h.01M105.0 313.0h.01M109.4 311.8h.01M106.1 321.9h.01M107.8 308.5h.01M114.9 304.1h.01M108.9 322.6h.01M105.1 328.8h.01M104.0 315.4h.01M116.2 310.9h.01M103.3 316.5h.01M107.8 318.2h.01M106.4 318.0h.01M108.8 317.2h.01M113.4 319.4h.01M104.6 315.1h.01M125.7 318.2h.01M112.7 315.0h.01M93.7 310.5h.01M101.0 324.7h.01M98.9 313.0h.01M111.6 315.6h.01M102.7 310.8h.01M111.9 315.2h.01M106.3 314.1h.01M106.1 314.8h.01M107.6 318.9h.01M110.9 315.5h.01M110.3 310.7h.01M100.2 318.7h.01M112.3 312.8h.01M116.5 316.0h.01M104.9 318.8h.01M109.3 315.0h.01M111.6 326.2h.01M102.8 305.1h.01M102.7 322.4h.01M114.7 316.0h.01M98.9 320.7h.01M112.1 313.2h.01M109.3 321.4h.01M99.7 318.5h.01M111.1 319.4h.01M110.6 315.3h.01M105.6 317.7h.01M112.1 307.3h.01M114.9 322.8h.01M111.2 315.9h.01M101.3 313.7h.01M106.0 315.4h.01M100.4 318.0h.01M106.8 311.5h.01M103.2 310.1h.01M104.0 314.7h.01M101.3 313.0h.01M110.5 321.5h.01M107.0 311.8h.01M103.1 317.6h.01M103.9 311.0h.01M115.1 310.2h.01M105.3 309.7h.01M99.6 317.7h.01M115.8 328.1h.01M106.4 322.2h.01M100.2 301.3h.01M111.5 314.5h.01M104.1 309.7h.01M106.5 311.8h.01M93.6 310.2h.01M114.0 318.7h.01M102.3 306.0h.01M109.1 313.4h.01M112.5 318.0h.01M101.6 307.1h.01M102.7 316.3h.01M115.3 308.8h.01M108.7 314.2h.01M106.5 318.6h.01M107.8 312.5h.01M109.1 321.6h.01M110.5 314.7h.01M110.1 320.5h.01M113.3 315.2h.01M122.4 311.7h.01M104.3 321.4h.01M107.3 315.5h.01M104.2 315.7h.01M107.9 317.8h.01M106.6 307.8h.01M101.1 308.3h.01M124.0 317.2h.01M122.6 314.0h.01M105.2 311.2h.01M99.8 315.5h.01M103.0 314.9h.01M106.3 323.2h.01M118.1 317.2h.01M104.4 323.5h.01M113.4 316.6h.01M95.9 326.6h.01M118.0 313.4h.01M111.9 312.9h.01M111.5 315.8h.01M103.1 312.1h.01M100.8 315.3h.01M112.2 318.0h.01M108.1 312.2h.01M112.8 318.4h.01M106.4 307.1h.01M117.7 317.8h.01M111.1 313.4h.01M111.2 318.6h.01M108.3 313.1h.01M107.6 310.8h.01M112.2 312.0h.01M103.0 316.9h.01M102.6 324.0h.01M107.8 314.8h.01M115.2 315.2h.01M107.7 310.4h.01M112.4 318.6h.01M108.7 319.5h.01M106.3 321.3h.01M104.5 309.0h.01M103.1 324.6h.01M100.1 315.0h.01M102.1 311.4h.01M108.2 327.6h.01M113.0 318.7h.01M114.5 320.5h.01M112.2 316.8h.01M115.9 323.1h.01M111.3 317.9h.01M107.8 320.6h.01M106.5 324.2h.01M103.6 317.1h.01M105.9 313.7h.01M108.5 311.3h.01M107.0 312.0h.01M118.1 320.5h.01M104.6 313.1h.01M110.9 316.8h.01M112.9 306.4h.01M110.1 308.9h.01M106.5 311.0h.01M108.9 311.0h.01M103.4 321.5h.01M104.3 318.5h.01M106.8 311.8h.01M111.9 314.9h.01M117.6 306.6h.01M110.3 315.2h.01M121.4 309.0h.01M108.0 307.5h.01M111.9 322.1h.01M104.2 320.0h.01M120.0 317.5h.01M103.9 311.9h.01M104.2 317.8h.01M116.8 312.0h.01M119.0 320.8h.01M109.4 322.4h.01M119.1 313.6h.01M108.1 313.3h.01M115.1 312.8h.01M112.1 309.4h.01M114.0 314.3h.01M112.4 327.2h.01M103.5 319.8h.01M105.9 310.2h.01M112.0 313.2h.01M109.1 321.2h.01M112.5 324.9h.01M112.7 315.9h.01M122.5 318.3h.01M109.7 311.3h.01M112.1 312.8h.01M102.7 323.3h.01M106.3 310.4h.01M102.7 320.1h.01M107.2 312.6h.01M108.7 322.6h.01M116.9 320.9h.01M110.8 318.4h.01M108.4 321.3h.01M101.4 316.4h.01M109.3 320.3h.01M107.9 311.7h.01M108.1 316.0h.01M96.4 322.0h.01M113.5 313.4h.01M104.8 319.4h.01M110.2 311.5h.01M101.7 315.6h.01M106.9 316.2h.01M116.1 303.1h.01M102.1 319.8h.01M116.0 312.8h.01M107.9 309.7h.01M112.6 312.5h.01M100.7 315.1h.01M112.1 314.8h.01M114.8 313.8h.01M102.5 310.3h.01M102.5 320.5h.01M104.6 310.8h.01M112.3 318.2h.01M106.6 313.8h.01M94.4 315.7h.01M112.7 319.1h.01M110.2 310.1h.01M119.1 315.4h.01M105.6 311.9h.01M106.8 313.2h.01M105.2 317.2h.01M104.2 304.5h.01M100.3 299.8h.01M108.2 312.4h.01M113.1 313.1h.01M108.3 312.6h.01M115.5 314.1h.01M101.2 304.9h.01M107.1 320.6h.01M99.7 306.7h.01M110.0 312.9h.01M118.7 316.3h.01M106.2 316.3h.01M98.9 311.7h.01M108.4 314.9h.01M103.2 310.8h.01M105.2 311.0h.01M101.6 312.7h.01M107.0 310.6h.01M111.7 307.0h.01M105.8 321.9h.01M109.7 315.0h.01M109.9 309.6h.01M99.2 307.3h.01M103.9 310.2h.01M107.7 315.6h.01M105.5 316.3h.01M109.5 305.2h.01M106.9 319.7h.01M108.0 312.1h.01M114.7 324.2h.01M106.5 321.8h.01M104.7 314.8h.01M105.6 311.5h.01M109.2 320.8h.01M107.0 315.1h.01M113.3 317.9h.01M104.1 313.6h.01M106.2 319.6h.01M122.7 315.2h.01M111.8 310.6h.01M99.7 312.6h.01M108.1 321.4h.01M105.0 318.1h.01M112.0 306.7h.01M112.7 306.4h.01M108.8 322.1h.01M110.5 311.8h.01M107.4 308.1h.01M104.6 306.4h.01M110.9 312.9h.01M104.6 320.0h.01M98.5 313.4h.01M116.0 317.0h.01M110.6 316.2h.01M105.0 325.2h.01M118.5 308.7h.01M105.5 313.0h.01M95.1 304.0h.01M103.0 316.4h.01M108.2 316.8h.01M107.6 317.4h.01M112.6 309.0h.01M109.9 324.3h.01M105.2 315.4h.01M112.9 312.4h.01M113.7 305.7h.01M112.4 320.6h.01M105.0 317.1h.01M112.9 315.2h.01M110.5 327.0h.01M111.4 310.4h.01M102.9 316.4h.01M110.7 309.9h.01M113.2 313.8h.01M100.5 311.2h.01M110.0 315.7h.01M106.3 315.4h.01M113.4 314.3h.01M104.5 311.5h.01M107.2 319.8h.01M102.0 313.5h.01M111.0 322.6h.01M101.3 319.0h.01M104.3 306.7h.01M107.1 317.6h.01M111.5 317.3h.01M103.3 320.8h.01M109.1 321.1h.01M103.3 312.0h.01M102.4 314.2h.01M100.7 321.6h.01M110.8 317.4h.01M107.4 313.5h.01M105.2 315.9h.01M98.8 313.6h.01M101.4 329.2h.01M102.3 317.3h.01M112.1 313.2h.01M106.8 308.7h.01M114.5 312.4h.01M107.3 316.2h.01M101.7 305.5h.01M111.2 305.4h.01M118.3 320.3h.01M101.5 319.4h.01M100.7 312.2h.01M108.9 310.9h.01M108.5 304.9h.01M108.7 319.3h.01M115.5 304.1h.01M106.7 319.4h.01M119.2 313.2h.01M113.0 321.2h.01M109.0 315.9h.01M98.1 321.7h.01M114.5 311.2h.01M119.6 315.8h.01M106.9 323.4h.01M108.8 318.8h.01M109.7 318.9h.01M102.5 314.0h.01M115.0 321.9h.01M107.3 320.6h.01M103.7 313.3h.01M109.8 313.8h.01M108.6 315.1h.01M114.4 320.6h.01M113.6 321.8h.01M104.1 312.3h.01M109.0 310.4h.01M105.9 322.8h.01M110.4 320.9h.01M113.1 312.6h.01M111.6 323.0h.01M116.5 307.9h.01M108.4 318.9h.01M109.7 320.5h.01M104.2 316.9h.01M101.8 302.8h.01M102.7 315.2h.01M109.1 308.0h.01M112.1 316.4h.01M95.8 303.7h.01M114.1 313.8h.01M112.7 310.5h.01M110.8 314.5h.01M108.4 309.7h.01M110.0 316.1h.01M107.2 314.1h.01M107.2 318.2h.01M104.4 315.4h.01M102.0 306.7h.01M114.5 313.5h.01M110.0 311.5h.01M108.4 315.8h.01M96.6 308.5h.01M96.2 312.1h.01M107.4 313.2h.01M102.4 310.2h.01M109.5 311.4h.01M115.3 307.1h.01M107.7 319.7h.01M105.4 324.0h.01M110.4 309.0h.01M105.4 312.0h.01M108.3 318.1h.01M105.0 318.5h.01M109.1 304.1h.01M105.1 308.6h.01M97.6 324.0h.01M117.3 318.2h.01M108.6 319.3h.01M107.2 312.1h.01M109.0 314.2h.01M103.4 309.6h.01M108.8 312.6h.01M107.2 297.2h.01M106.3 312.1h.01M112.6 306.1h.01M107.5 322.8h.01M103.3 312.3h.01M112.7 323.0h.01M115.8 308.0h.01M114.5 319.9h.01M100.9 325.0h.01M108.8 314.7h.01M102.5 316.5h.01M110.5 308.3h.01M105.2 315.2h.01M115.7 312.8h.01M112.6 315.5h.01M99.9 317.6h.01M111.5 306.9h.01M106.6 318.2h.01M110.2 316.5h.01M112.7 320.2h.01M105.7 322.8h.01M113.4 315.5h.01M105.6 311.5h.01M115.4 315.8h.01M119.4 322.3h.01M96.7 322.8h.01M111.7 323.4h.01M105.2 322.7h.01M113.6 315.7h.01M107.0 316.2h.01M110.2 320.0h.01M109.1 328.6h.01M114.3 311.1h.01M99.4 315.2h.01M98.4 316.1h.01M114.5 313.2h.01M113.3 314.7h.01M104.4 312.6h.01M101.1 311.5h.01M109.6 302.8h.01M110.3 324.7h.01M107.5 321.6h.01M107.6 316.7h.01M110.8 317.7h.01M101.6 306.8h.01M101.5 305.4h.01M116.5 312.8h.01M109.4 313.6h.01M104.6 321.0h.01M101.8 310.5h.01M109.7 313.2h.01M107.0 316.1h.01M115.8 299.3h.01M104.5 303.8h.01M114.7 317.2h.01M110.3 311.5h.01M102.3 310.4h.01M104.5 312.8h.01M110.9 324.5h.01M116.3 312.1h.01M106.9 314.0h.01M110.3 309.7h.01M112.9 310.1h.01M107.4 310.8h.01M110.8 314.8h.01M109.4 311.8h.01M109.2 316.7h.01" stroke="#0c0c0c" stroke-width="0.65" stroke-linecap="square" fill="none" opacity="0.75"/>
<path d="M104.1 340.3h.01M109.9 317.2h.01M103.4 320.0h.01M113.2 330.1h.01M112.5 320.7h.01M101.1 317.9h.01M112.1 313.7h.01M114.3 319.6h.01M102.4 325.4h.01M123.0 326.1h.01M119.3 320.9h.01M97.7 327.3h.01M95.1 335.6h.01M103.0 308.2h.01M94.4 323.2h.01M108.8 323.9h.01M103.8 318.5h.01M89.6 322.7h.01M103.6 315.4h.01M106.2 323.3h.01M109.2 314.7h.01M100.6 336.4h.01M110.2 332.6h.01M102.6 329.9h.01M112.2 324.8h.01M117.2 325.6h.01M117.5 331.4h.01M108.2 312.6h.01M109.6 340.3h.01M101.1 324.0h.01M104.3 333.9h.01M97.6 331.8h.01M101.9 329.0h.01M103.0 323.7h.01M95.8 335.3h.01M105.3 329.3h.01M113.5 317.6h.01M90.4 327.4h.01M116.7 320.5h.01M107.4 333.9h.01M104.0 323.9h.01M111.6 327.3h.01M106.7 325.5h.01M102.0 315.9h.01M106.5 333.5h.01M108.2 331.6h.01M99.0 339.0h.01M113.4 333.5h.01M114.7 323.4h.01M112.2 335.1h.01M102.7 315.8h.01M107.9 331.0h.01M117.4 314.2h.01M95.8 325.1h.01M93.8 331.6h.01M107.8 325.3h.01M106.2 342.0h.01M107.1 325.8h.01M105.9 317.4h.01M106.7 321.8h.01M101.9 314.2h.01M97.2 315.8h.01M107.1 326.5h.01M102.9 322.1h.01M107.5 321.4h.01M103.2 328.8h.01M113.6 320.3h.01M124.0 333.6h.01M104.5 332.9h.01M106.8 317.9h.01M101.0 338.4h.01M118.7 333.5h.01M91.9 331.6h.01M118.1 334.1h.01M99.0 317.2h.01M105.2 328.8h.01M106.2 330.1h.01M106.1 330.8h.01M101.3 320.9h.01M97.8 332.5h.01M112.2 312.0h.01M114.6 315.1h.01M106.6 328.4h.01M98.0 317.6h.01M100.2 323.3h.01M112.8 326.6h.01M102.6 321.7h.01M103.8 316.5h.01M110.0 326.4h.01M104.1 330.4h.01M101.3 317.3h.01M96.6 330.1h.01M105.5 335.9h.01M107.8 332.8h.01M109.5 331.6h.01M96.4 311.4h.01M107.2 340.4h.01M94.8 330.5h.01M112.2 323.0h.01M90.3 330.5h.01M109.1 315.0h.01M103.8 318.5h.01M119.4 313.2h.01M110.1 315.8h.01M108.5 339.7h.01M98.0 321.7h.01M91.5 324.4h.01M95.5 336.3h.01M97.9 331.4h.01M111.2 336.3h.01M101.6 324.7h.01M123.7 311.0h.01M93.8 324.0h.01M108.5 323.6h.01M106.9 333.1h.01M117.9 320.6h.01M96.2 319.1h.01M116.1 313.9h.01M114.0 329.1h.01M107.0 324.5h.01M99.3 330.2h.01M108.2 328.3h.01M103.8 324.2h.01M116.9 311.5h.01M112.8 317.3h.01M94.9 320.1h.01M103.5 326.0h.01M92.0 328.2h.01M113.2 314.3h.01M103.8 324.0h.01M97.1 316.8h.01M121.6 338.4h.01M104.3 319.0h.01M99.2 320.3h.01M107.0 332.0h.01M107.1 324.9h.01M113.3 320.1h.01M102.0 328.0h.01M112.5 319.9h.01M108.3 328.6h.01M97.1 320.0h.01M105.0 322.3h.01M99.4 326.0h.01M126.3 329.0h.01M94.6 320.9h.01M117.4 329.7h.01M101.8 334.0h.01M103.8 332.0h.01M108.0 329.8h.01M99.7 312.5h.01M113.7 333.5h.01M86.9 340.5h.01M110.2 316.1h.01M97.1 328.2h.01M105.5 322.8h.01M108.3 320.5h.01M120.3 326.7h.01M104.1 327.3h.01M105.9 328.8h.01M95.6 317.8h.01M112.3 323.6h.01M113.0 312.7h.01M115.8 305.6h.01M98.0 309.9h.01M112.5 336.5h.01M110.7 322.7h.01M109.6 318.5h.01M104.0 337.1h.01M104.2 337.2h.01M115.2 330.3h.01M107.4 331.1h.01M111.6 321.3h.01M102.4 319.6h.01M111.5 318.3h.01M101.8 340.5h.01M112.6 340.2h.01M107.0 325.2h.01M109.7 327.9h.01M96.2 331.0h.01M107.4 319.6h.01M109.3 321.0h.01M109.2 335.8h.01M83.7 309.0h.01M114.5 315.6h.01M94.0 321.1h.01M114.3 327.8h.01M108.3 312.9h.01M110.2 315.2h.01M96.0 325.1h.01M114.3 322.8h.01M102.6 330.1h.01M107.4 335.8h.01M104.0 339.0h.01M88.6 338.6h.01M102.1 322.1h.01M105.9 322.4h.01M109.2 324.3h.01M103.6 329.2h.01M101.5 315.0h.01M99.9 316.9h.01M101.4 328.9h.01M99.5 339.2h.01M115.2 331.6h.01M108.0 337.0h.01M100.4 323.5h.01M106.0 332.0h.01M93.9 313.8h.01M106.2 323.0h.01M96.5 321.3h.01M113.6 328.0h.01M103.4 321.4h.01M104.6 330.8h.01M104.5 333.6h.01M104.0 333.6h.01M108.2 308.8h.01M108.4 322.0h.01M104.5 326.3h.01M94.6 328.9h.01M119.1 329.2h.01M107.9 332.4h.01M95.2 321.7h.01M100.2 331.1h.01M109.2 322.4h.01M107.5 318.2h.01M110.3 327.1h.01M106.6 336.2h.01M103.6 323.4h.01M102.4 333.1h.01M102.8 342.0h.01M110.7 333.4h.01M95.2 317.1h.01M96.6 328.7h.01M105.4 330.3h.01M104.8 323.6h.01M93.6 311.3h.01M122.9 314.5h.01M113.7 313.4h.01M108.0 323.6h.01M101.3 325.7h.01M113.6 335.3h.01M104.8 313.7h.01M113.2 338.9h.01M113.5 338.5h.01M122.5 319.4h.01M108.1 331.8h.01M93.1 339.1h.01M106.8 317.2h.01M83.5 336.5h.01M114.6 328.5h.01M105.7 340.3h.01M88.5 324.6h.01M94.0 333.7h.01M109.0 320.6h.01M95.3 329.0h.01M108.5 335.1h.01M85.5 329.4h.01M108.5 325.7h.01M119.3 320.6h.01M107.6 326.4h.01M87.7 332.6h.01" stroke="#0c0c0c" stroke-width="0.55" stroke-linecap="square" fill="none" opacity="0.55"/>
<path d="M108.8 304.2h.01M128.4 327.6h.01M117.5 317.3h.01M139.3 321.4h.01M124.0 320.9h.01M107.7 315.1h.01M103.3 305.4h.01M126.2 317.8h.01M114.9 320.8h.01M127.8 323.7h.01M117.3 318.9h.01M124.4 305.2h.01M120.0 320.3h.01M103.9 320.7h.01M132.1 321.4h.01M129.4 305.5h.01M118.0 315.8h.01M108.3 317.1h.01M137.0 331.7h.01M121.5 316.6h.01M116.2 315.8h.01M143.0 331.2h.01M119.0 327.6h.01M127.7 309.8h.01M117.3 325.3h.01M112.6 312.0h.01M130.6 335.8h.01M132.1 316.8h.01M113.3 319.2h.01M112.9 336.3h.01M119.2 324.2h.01M113.7 322.5h.01M102.5 317.1h.01M129.0 318.7h.01M115.5 319.3h.01M128.4 317.9h.01M131.8 317.8h.01M113.0 311.7h.01M122.8 318.9h.01M115.4 319.4h.01M127.0 318.3h.01M128.1 327.5h.01M128.5 316.0h.01M108.7 323.8h.01M118.8 322.6h.01M107.0 312.5h.01M136.0 312.5h.01M136.3 318.2h.01M123.7 312.1h.01M122.4 324.7h.01M112.3 307.9h.01M120.2 320.5h.01M135.9 324.3h.01M115.0 319.3h.01M132.0 317.6h.01M117.7 322.3h.01M115.6 323.0h.01M137.5 323.8h.01M130.1 311.7h.01M109.2 308.3h.01M111.4 322.5h.01M129.2 320.1h.01M100.2 317.0h.01M121.7 317.0h.01M121.8 312.6h.01M120.1 311.8h.01M116.4 318.0h.01M137.7 338.0h.01M122.0 309.0h.01M121.1 326.8h.01M92.0 314.6h.01M117.8 328.9h.01M129.3 323.6h.01M120.0 327.8h.01M127.9 319.0h.01M116.9 312.8h.01M118.3 312.1h.01M141.2 318.0h.01M110.4 335.7h.01M105.8 317.2h.01M125.2 313.6h.01M109.3 317.0h.01M121.2 315.9h.01M131.6 308.5h.01M128.9 315.2h.01M120.2 306.8h.01M120.2 317.8h.01M137.7 312.6h.01M134.6 328.4h.01M120.3 311.0h.01M122.5 314.0h.01M142.7 306.8h.01M108.3 319.6h.01M115.6 320.2h.01M129.0 331.9h.01M136.5 306.3h.01M112.4 311.1h.01M109.0 311.0h.01M123.9 320.3h.01M120.1 327.9h.01M138.0 315.8h.01M126.5 314.3h.01M120.1 316.5h.01M122.4 314.6h.01M122.3 317.1h.01M125.1 316.2h.01M123.3 316.4h.01M109.9 324.4h.01M123.4 317.4h.01M104.7 321.1h.01M110.9 309.3h.01M140.6 313.0h.01M119.8 323.2h.01M132.4 316.4h.01M117.0 321.6h.01M138.2 322.7h.01M110.1 306.9h.01M125.5 303.5h.01M104.4 319.7h.01M117.3 313.1h.01M134.6 307.9h.01M114.8 310.5h.01M107.8 322.3h.01M104.5 326.1h.01M111.6 313.6h.01M119.8 311.6h.01M128.4 321.4h.01M101.2 328.7h.01M117.1 321.8h.01M117.2 329.7h.01M141.8 317.9h.01M140.0 309.1h.01M106.7 325.3h.01M120.7 318.2h.01M114.2 310.3h.01M128.7 311.8h.01M115.8 299.4h.01M131.5 306.0h.01M130.2 330.4h.01M134.2 317.5h.01M101.2 312.4h.01M105.6 324.7h.01M145.2 320.6h.01M118.8 322.9h.01M122.1 321.6h.01M116.4 304.9h.01M123.2 319.7h.01M104.7 316.0h.01M123.6 319.3h.01M121.3 304.6h.01M118.7 322.8h.01M117.7 317.4h.01M95.4 323.9h.01M115.5 323.8h.01M137.6 308.1h.01M129.7 317.4h.01M95.9 312.0h.01M128.9 310.3h.01M120.1 320.6h.01M119.6 300.6h.01M122.7 309.9h.01M110.8 328.4h.01M101.5 320.2h.01M109.6 310.7h.01M132.1 326.5h.01M111.7 303.6h.01M119.2 319.8h.01M127.3 315.3h.01M124.2 314.9h.01M103.1 307.8h.01M143.6 316.8h.01M131.5 320.9h.01M133.9 315.6h.01M113.0 319.3h.01M122.5 308.9h.01M123.1 310.8h.01M117.9 324.0h.01M115.1 313.6h.01M131.6 311.8h.01M112.2 330.4h.01M111.1 327.6h.01M116.1 311.9h.01M147.3 322.0h.01M146.1 315.7h.01M121.1 319.1h.01M113.3 335.6h.01M116.1 331.7h.01M124.2 313.4h.01M115.1 317.6h.01M129.2 309.0h.01M126.0 316.8h.01M128.0 319.5h.01M110.7 327.0h.01M129.3 306.2h.01M123.7 314.1h.01M120.8 322.9h.01M128.2 331.9h.01M122.0 331.7h.01M120.2 300.6h.01M111.6 318.1h.01M124.4 310.7h.01M124.2 323.6h.01M137.5 325.5h.01M113.6 312.4h.01M125.7 313.3h.01M109.7 326.3h.01M116.4 314.4h.01M118.6 315.9h.01M108.7 335.3h.01M124.3 315.2h.01M106.6 308.3h.01M123.1 307.9h.01M132.8 324.0h.01M142.5 310.4h.01M138.7 323.2h.01M100.0 308.0h.01M136.6 332.7h.01M101.7 311.3h.01M107.6 324.7h.01M118.9 314.2h.01M117.8 314.5h.01M132.9 321.8h.01M132.9 312.7h.01M113.1 314.7h.01M133.6 311.7h.01M108.8 311.0h.01M128.5 316.7h.01M136.4 319.9h.01M124.5 313.1h.01M139.3 320.5h.01M116.1 318.2h.01M135.3 313.7h.01M130.4 318.2h.01M115.8 324.1h.01M102.3 312.2h.01M118.5 317.5h.01M126.8 308.1h.01M117.6 313.9h.01M121.6 318.0h.01M111.9 325.1h.01M123.8 316.8h.01M110.4 326.6h.01M122.4 322.9h.01M114.6 325.2h.01M109.5 312.2h.01M120.9 325.1h.01M113.0 315.7h.01M114.8 324.4h.01M126.3 318.4h.01M121.4 300.2h.01M116.7 316.4h.01M109.7 320.0h.01M115.0 323.4h.01M131.2 320.5h.01M124.9 318.4h.01M114.2 317.8h.01M125.1 308.6h.01M128.9 314.3h.01M134.9 322.2h.01M124.9 314.7h.01M116.8 316.0h.01M133.5 316.8h.01M104.9 324.8h.01M117.5 314.5h.01M111.4 315.2h.01M157.5 319.1h.01M116.1 320.0h.01M139.7 305.2h.01M137.5 331.1h.01M107.7 317.3h.01M125.0 325.3h.01M128.2 323.7h.01M130.9 312.1h.01M119.8 326.8h.01M109.5 316.2h.01M126.9 325.2h.01M117.7 312.3h.01M131.9 327.3h.01M144.1 315.4h.01M117.3 322.4h.01M135.8 311.9h.01M111.0 324.4h.01M131.4 310.3h.01M124.8 318.7h.01M124.8 311.3h.01M123.6 320.0h.01M113.0 305.9h.01M104.7 321.5h.01M113.8 326.2h.01M130.9 315.8h.01M120.9 317.2h.01M132.4 317.7h.01M87.9 306.4h.01M124.3 314.1h.01M120.1 308.4h.01M126.7 314.2h.01M106.6 323.7h.01M138.6 314.7h.01M113.8 324.3h.01M131.7 315.0h.01" stroke="#0c0c0c" stroke-width="0.55" stroke-linecap="square" fill="none" opacity="0.5"/>
<rect x="72.8" y="255.2" width="93.00" height="91.80" fill="none" stroke="#3a3a3a" stroke-width="0.7"/>
<rect x="93.4" y="287.2" width="61.20" height="41.30" fill="none" stroke="#3a3a3a" stroke-width="0.6"/>
<text x="124.00" y="277.20" font-size="6.8" text-anchor="middle" font-weight="normal" fill="#111" stroke="#111" stroke-width="0.1">95%</text>
<line x1="71.40" y1="255.20" x2="72.80" y2="255.20" stroke="#3a3a3a" stroke-width="0.5"/>
<text x="71.00" y="256.30" font-size="3.8" text-anchor="end" font-weight="normal" fill="#111" stroke="#111" stroke-width="0.2">10<tspan font-size="2.6" dy="-1.43">4</tspan><tspan dy="1.43">&#8203;</tspan></text>
<line x1="72.80" y1="347.00" x2="72.80" y2="348.40" stroke="#3a3a3a" stroke-width="0.5"/>
<text x="72.80" y="352.20" font-size="3.8" text-anchor="middle" font-weight="normal" fill="#111" stroke="#111" stroke-width="0.2">10<tspan font-size="2.6" dy="-1.43">0</tspan><tspan dy="1.43">&#8203;</tspan></text>
<line x1="71.40" y1="278.15" x2="72.80" y2="278.15" stroke="#3a3a3a" stroke-width="0.5"/>
<text x="71.00" y="279.25" font-size="3.8" text-anchor="end" font-weight="normal" fill="#111" stroke="#111" stroke-width="0.2">10<tspan font-size="2.6" dy="-1.43">3</tspan><tspan dy="1.43">&#8203;</tspan></text>
<line x1="96.05" y1="347.00" x2="96.05" y2="348.40" stroke="#3a3a3a" stroke-width="0.5"/>
<text x="96.05" y="352.20" font-size="3.8" text-anchor="middle" font-weight="normal" fill="#111" stroke="#111" stroke-width="0.2">10<tspan font-size="2.6" dy="-1.43">1</tspan><tspan dy="1.43">&#8203;</tspan></text>
<line x1="71.40" y1="301.10" x2="72.80" y2="301.10" stroke="#3a3a3a" stroke-width="0.5"/>
<text x="71.00" y="302.20" font-size="3.8" text-anchor="end" font-weight="normal" fill="#111" stroke="#111" stroke-width="0.2">10<tspan font-size="2.6" dy="-1.43">2</tspan><tspan dy="1.43">&#8203;</tspan></text>
<line x1="119.30" y1="347.00" x2="119.30" y2="348.40" stroke="#3a3a3a" stroke-width="0.5"/>
<text x="119.30" y="352.20" font-size="3.8" text-anchor="middle" font-weight="normal" fill="#111" stroke="#111" stroke-width="0.2">10<tspan font-size="2.6" dy="-1.43">2</tspan><tspan dy="1.43">&#8203;</tspan></text>
<line x1="71.40" y1="324.05" x2="72.80" y2="324.05" stroke="#3a3a3a" stroke-width="0.5"/>
<text x="71.00" y="325.15" font-size="3.8" text-anchor="end" font-weight="normal" fill="#111" stroke="#111" stroke-width="0.2">10<tspan font-size="2.6" dy="-1.43">1</tspan><tspan dy="1.43">&#8203;</tspan></text>
<line x1="142.55" y1="347.00" x2="142.55" y2="348.40" stroke="#3a3a3a" stroke-width="0.5"/>
<text x="142.55" y="352.20" font-size="3.8" text-anchor="middle" font-weight="normal" fill="#111" stroke="#111" stroke-width="0.2">10<tspan font-size="2.6" dy="-1.43">3</tspan><tspan dy="1.43">&#8203;</tspan></text>
<line x1="71.40" y1="347.00" x2="72.80" y2="347.00" stroke="#3a3a3a" stroke-width="0.5"/>
<text x="71.00" y="348.10" font-size="3.8" text-anchor="end" font-weight="normal" fill="#111" stroke="#111" stroke-width="0.2">10<tspan font-size="2.6" dy="-1.43">0</tspan><tspan dy="1.43">&#8203;</tspan></text>
<line x1="165.80" y1="347.00" x2="165.80" y2="348.40" stroke="#3a3a3a" stroke-width="0.5"/>
<text x="165.80" y="352.20" font-size="3.8" text-anchor="middle" font-weight="normal" fill="#111" stroke="#111" stroke-width="0.2">10<tspan font-size="2.6" dy="-1.43">4</tspan><tspan dy="1.43">&#8203;</tspan></text>
<path d="M253.9 318.1h.01M246.1 307.6h.01M249.9 317.3h.01M249.8 309.3h.01M248.7 319.8h.01M246.1 318.4h.01M251.8 316.3h.01M252.5 312.6h.01M249.8 321.1h.01M249.0 313.1h.01M246.0 312.9h.01M252.4 319.1h.01M252.1 316.9h.01M252.0 315.8h.01M253.2 314.1h.01M253.4 314.4h.01M245.4 310.0h.01M249.6 313.0h.01M246.6 311.9h.01M250.8 316.1h.01M252.7 311.5h.01M251.3 318.3h.01M251.3 320.9h.01M248.8 314.6h.01M250.7 313.2h.01M250.1 315.4h.01M250.1 312.8h.01M248.9 314.3h.01M245.7 315.3h.01M247.0 313.7h.01M247.0 315.0h.01M249.1 313.7h.01M248.0 315.0h.01M254.9 308.2h.01M251.7 315.4h.01M249.1 310.1h.01M254.9 315.3h.01M253.2 313.3h.01M248.0 318.4h.01M252.4 313.5h.01M249.6 316.8h.01M247.9 311.7h.01M250.1 318.2h.01M252.7 315.3h.01M254.2 314.1h.01M248.8 322.9h.01M248.8 316.7h.01M251.8 315.0h.01M250.9 317.1h.01M251.8 312.6h.01M250.2 319.5h.01M252.4 313.1h.01M250.4 311.2h.01M246.5 312.8h.01M254.9 312.5h.01M244.5 314.2h.01M248.2 317.2h.01M253.9 313.5h.01M250.6 311.5h.01M253.8 312.1h.01M250.3 323.0h.01M247.5 315.2h.01M250.1 316.3h.01M251.6 319.9h.01M251.7 316.8h.01M246.6 316.1h.01M246.4 318.9h.01M250.1 318.0h.01M248.8 315.5h.01M250.5 316.6h.01M249.9 312.6h.01M249.2 312.4h.01M247.6 310.4h.01M246.0 321.3h.01M248.1 310.8h.01M253.1 315.7h.01M249.9 318.6h.01M255.7 311.7h.01M254.4 316.7h.01M253.6 312.8h.01M255.1 318.7h.01M242.7 319.1h.01M254.2 309.8h.01M251.2 314.0h.01M250.9 311.6h.01M252.1 317.2h.01M249.9 314.4h.01M245.2 316.6h.01M246.5 314.7h.01M247.9 323.8h.01M250.3 320.0h.01M250.1 314.5h.01M252.4 314.5h.01M257.1 314.0h.01M255.0 310.5h.01M247.6 316.9h.01M246.2 321.6h.01M251.8 315.0h.01M255.4 312.8h.01M248.1 305.5h.01M244.6 313.6h.01M244.2 317.3h.01M253.1 316.2h.01M245.5 311.6h.01M246.2 317.1h.01M253.3 313.8h.01M250.4 315.4h.01M252.4 311.5h.01M247.4 317.4h.01M251.7 316.4h.01M250.4 317.4h.01M251.6 312.5h.01M255.3 318.5h.01M249.5 314.3h.01M248.1 309.7h.01M247.1 309.6h.01M248.3 315.8h.01M250.0 309.6h.01M249.7 312.4h.01M247.0 318.6h.01M247.2 317.8h.01M245.2 315.6h.01M248.2 318.0h.01M251.4 311.9h.01M252.1 319.2h.01M254.2 319.9h.01M249.2 322.3h.01M248.5 314.2h.01M245.7 313.9h.01M246.0 315.0h.01M245.0 321.3h.01M252.7 320.3h.01M253.7 315.2h.01M251.7 315.4h.01M244.7 310.5h.01M249.1 318.0h.01M246.2 315.3h.01M248.6 317.3h.01M252.5 311.0h.01M246.9 319.9h.01M253.4 314.6h.01M252.7 314.9h.01M251.7 313.3h.01M251.9 320.7h.01M254.6 319.2h.01M250.6 318.1h.01M249.0 313.6h.01M250.7 310.8h.01M250.8 308.5h.01M255.1 317.7h.01M251.2 312.2h.01M248.5 313.3h.01M245.3 313.2h.01M247.6 317.7h.01M254.3 319.9h.01M246.2 309.8h.01M254.5 317.5h.01M253.4 317.1h.01M251.0 322.3h.01M252.9 317.1h.01M247.3 315.2h.01M254.3 316.7h.01M253.0 314.0h.01M252.4 312.7h.01M249.7 318.5h.01M255.3 313.5h.01M249.6 313.8h.01M249.7 314.8h.01M252.9 315.9h.01M250.3 316.3h.01M245.0 314.1h.01M256.2 311.0h.01M248.5 315.6h.01M253.3 313.7h.01M247.1 320.2h.01M243.3 311.4h.01M248.0 306.3h.01M254.3 321.7h.01M245.7 313.2h.01M249.5 317.2h.01M249.7 316.7h.01M251.7 314.2h.01M250.4 319.7h.01M250.8 317.0h.01M250.2 317.2h.01M255.1 315.0h.01M248.8 312.0h.01M253.3 311.9h.01M251.7 323.8h.01M250.9 321.1h.01M250.3 314.3h.01M252.0 311.5h.01M243.0 314.5h.01M248.1 315.4h.01M256.1 316.9h.01M245.7 316.2h.01M244.9 306.8h.01M256.7 311.3h.01M243.6 314.4h.01M249.7 316.3h.01M249.7 313.9h.01M252.8 314.0h.01M248.0 316.0h.01M248.6 318.6h.01M250.4 314.0h.01M249.0 316.9h.01M253.3 313.6h.01M243.6 317.5h.01M248.0 316.9h.01M248.4 316.2h.01M249.5 311.8h.01M246.3 314.3h.01M250.7 308.7h.01M242.9 315.6h.01M256.9 311.8h.01M249.5 310.7h.01M246.4 320.1h.01M245.3 315.6h.01M248.0 316.8h.01M255.0 315.3h.01M249.3 318.7h.01M249.3 307.9h.01M254.4 312.8h.01M250.9 322.8h.01M253.1 315.8h.01M255.4 311.4h.01M245.2 310.5h.01M250.6 315.5h.01M248.2 322.6h.01M252.8 315.4h.01M248.2 314.5h.01M251.2 313.4h.01M259.1 321.0h.01M252.3 314.8h.01M245.0 318.6h.01M248.2 318.6h.01M251.6 309.9h.01M250.5 314.0h.01M249.6 314.4h.01M250.6 313.9h.01M252.8 316.7h.01M249.8 314.2h.01M249.3 313.3h.01M249.8 315.5h.01M249.4 307.9h.01M250.5 311.4h.01M250.2 323.8h.01M253.4 305.9h.01M244.9 318.4h.01M247.9 308.9h.01M245.0 314.1h.01M247.8 314.6h.01M249.3 314.7h.01M248.9 311.7h.01M252.4 320.4h.01M247.6 314.1h.01M256.5 310.7h.01M246.8 316.7h.01M253.0 314.6h.01M253.8 314.3h.01M250.9 314.6h.01M251.3 314.7h.01M254.7 317.4h.01M255.3 314.1h.01M247.9 312.4h.01M249.0 315.9h.01M249.0 315.7h.01M251.6 310.4h.01M246.0 319.5h.01M248.3 321.5h.01M249.3 309.6h.01M246.7 311.7h.01M258.3 307.8h.01M243.1 311.3h.01M250.4 322.8h.01M253.4 311.2h.01M255.0 319.4h.01M248.2 316.8h.01M251.4 314.1h.01M248.9 312.6h.01M251.6 312.8h.01M252.9 317.2h.01M245.4 316.2h.01M249.7 317.5h.01M249.2 319.0h.01M252.8 318.0h.01M252.2 309.6h.01M250.1 318.7h.01M253.0 316.9h.01M250.2 314.5h.01M246.1 308.1h.01M249.7 317.7h.01M249.5 312.7h.01M249.7 319.6h.01M248.4 314.4h.01M251.3 318.6h.01M251.6 312.8h.01M248.7 310.5h.01M249.7 318.3h.01M250.8 313.1h.01M246.9 313.4h.01M252.6 317.0h.01M251.7 317.8h.01M254.0 315.5h.01M252.2 307.7h.01M252.3 313.5h.01M251.1 311.4h.01M249.5 310.6h.01M250.1 311.0h.01M253.5 313.6h.01M250.8 312.4h.01M249.9 312.1h.01M247.7 316.5h.01M248.2 310.5h.01M249.1 322.9h.01M253.5 315.6h.01M251.2 315.9h.01M251.6 323.1h.01M254.9 315.4h.01M245.2 311.4h.01M251.1 313.1h.01M251.7 313.7h.01M251.8 316.4h.01M249.0 310.1h.01M249.4 312.3h.01M247.6 315.1h.01M254.0 313.5h.01M249.2 310.9h.01M251.2 315.7h.01M251.0 320.4h.01M251.2 318.5h.01M249.3 316.2h.01M247.8 317.6h.01M254.7 311.5h.01M247.9 315.8h.01M250.4 317.9h.01M242.4 312.8h.01M251.9 315.7h.01M247.1 317.4h.01M250.8 314.9h.01M249.7 314.4h.01M252.2 309.8h.01M240.1 317.1h.01M243.0 315.5h.01M250.4 316.0h.01M247.0 316.8h.01M249.4 313.0h.01M249.6 311.7h.01M255.2 312.4h.01M250.3 313.5h.01M250.9 314.9h.01M249.5 314.9h.01M250.8 315.6h.01M253.6 314.4h.01M250.1 316.6h.01M249.9 316.3h.01M252.2 306.8h.01M250.7 313.3h.01M245.6 310.2h.01M246.1 318.4h.01M253.8 314.9h.01M250.1 310.8h.01M256.6 320.2h.01M251.1 311.9h.01M250.0 312.4h.01M246.7 310.8h.01M247.6 312.3h.01M251.6 311.3h.01M251.8 315.5h.01M253.3 319.7h.01M257.4 318.3h.01M249.2 314.0h.01M258.8 310.9h.01M250.6 319.2h.01M250.4 316.5h.01M255.8 318.0h.01M250.6 317.0h.01M251.3 317.2h.01M252.1 313.8h.01M250.6 315.7h.01M249.8 313.0h.01M253.2 306.9h.01M249.6 318.6h.01M251.3 310.7h.01M247.5 321.9h.01M252.4 314.6h.01M250.7 313.8h.01M251.5 311.7h.01M250.9 314.5h.01M251.0 318.1h.01M245.0 314.4h.01M250.9 315.5h.01M250.3 316.2h.01M253.6 313.2h.01M251.0 317.6h.01M249.9 318.5h.01M248.4 319.1h.01M251.2 319.9h.01M254.5 311.5h.01M253.2 316.6h.01M250.7 313.4h.01M251.5 313.9h.01M250.5 314.9h.01M250.6 313.9h.01M246.3 315.5h.01M240.6 315.8h.01M250.0 314.4h.01M248.8 315.9h.01M251.9 313.0h.01M248.5 311.3h.01M246.8 316.3h.01M250.1 319.8h.01M245.8 310.7h.01M250.7 313.1h.01M251.3 311.7h.01M254.1 313.8h.01M251.4 318.7h.01M246.8 313.4h.01M247.2 317.7h.01M245.0 313.0h.01M248.4 317.9h.01M255.2 315.0h.01M255.9 317.2h.01M246.3 314.1h.01M247.3 317.6h.01M251.6 315.8h.01M247.7 313.9h.01M246.7 314.5h.01M254.5 313.9h.01M254.6 315.2h.01M249.4 316.7h.01M246.0 320.4h.01M251.1 310.8h.01M252.5 311.3h.01M253.0 319.1h.01M253.2 310.5h.01M249.3 318.5h.01M251.7 316.6h.01M257.3 318.3h.01M249.6 310.5h.01M248.3 309.5h.01M248.0 315.1h.01M246.5 314.8h.01M248.6 316.4h.01M246.4 312.0h.01M250.4 316.5h.01M250.5 304.1h.01M249.5 308.0h.01M249.7 311.1h.01M247.3 312.7h.01M251.6 314.3h.01M251.8 314.5h.01M248.9 319.0h.01M256.0 312.0h.01M250.5 309.4h.01M250.3 311.5h.01M254.0 315.9h.01M250.9 318.5h.01M251.1 304.7h.01M254.9 320.5h.01M250.6 318.9h.01M251.6 309.4h.01M245.6 319.8h.01M252.9 320.5h.01M255.9 314.0h.01M252.4 317.0h.01M252.5 316.5h.01M248.8 315.9h.01M244.7 316.2h.01M248.9 312.0h.01M251.3 315.8h.01M251.1 312.0h.01M248.4 313.8h.01M249.8 313.2h.01M247.0 315.3h.01M248.1 314.4h.01M247.1 306.3h.01M250.5 316.0h.01M249.7 317.8h.01M250.7 313.9h.01M253.8 315.8h.01M248.2 315.1h.01M249.0 311.3h.01M252.3 314.1h.01M248.7 314.3h.01M256.2 320.0h.01M253.9 310.7h.01M245.7 314.5h.01M250.5 316.9h.01M250.7 317.4h.01M247.4 317.2h.01M249.9 317.9h.01M251.8 308.5h.01M250.1 319.2h.01M253.5 317.8h.01M248.8 313.0h.01M252.5 310.5h.01M252.5 314.0h.01M253.2 319.7h.01M250.2 312.0h.01M248.5 315.4h.01M242.0 316.9h.01M250.0 318.0h.01M256.1 306.7h.01M246.4 314.2h.01M245.5 314.4h.01M255.9 310.3h.01M247.1 313.0h.01M252.9 310.3h.01M251.6 314.5h.01M249.7 308.2h.01M250.0 315.0h.01M246.1 322.8h.01M250.4 311.3h.01M250.9 313.4h.01M249.9 310.0h.01M252.7 314.3h.01M248.6 317.3h.01M247.1 316.1h.01M251.4 318.3h.01M254.2 316.3h.01M251.6 311.9h.01M242.7 317.5h.01M252.6 309.9h.01M243.3 310.2h.01M246.1 315.4h.01M252.3 312.3h.01M246.2 316.9h.01M249.2 309.2h.01M248.2 316.2h.01M250.8 308.9h.01M247.9 314.3h.01M253.5 316.5h.01M255.3 310.7h.01M250.1 310.8h.01M254.4 309.1h.01M248.9 318.8h.01M248.9 316.4h.01M248.1 314.8h.01M258.0 311.4h.01M250.1 316.8h.01M252.4 322.2h.01M247.5 320.5h.01M253.0 314.5h.01M251.0 313.2h.01M254.5 316.1h.01M249.4 317.0h.01M244.9 314.4h.01M246.7 316.2h.01M250.3 313.0h.01M249.4 314.5h.01M250.6 316.4h.01M253.1 321.9h.01M253.6 315.1h.01M250.6 314.8h.01M253.4 312.7h.01M252.9 310.7h.01M245.6 311.8h.01M252.3 314.7h.01M246.1 304.3h.01M251.3 318.0h.01M248.5 310.4h.01M250.1 313.5h.01M250.4 320.0h.01M250.0 309.3h.01M252.0 308.5h.01M252.8 314.6h.01M251.6 315.4h.01M249.7 311.1h.01M250.7 314.0h.01M242.3 317.4h.01M247.2 318.7h.01M253.9 309.8h.01M248.7 318.1h.01M250.7 310.2h.01M243.7 318.5h.01M250.0 320.2h.01M247.6 318.6h.01M250.4 307.1h.01M251.4 310.6h.01M246.2 312.0h.01M250.3 306.5h.01M250.8 314.7h.01M254.4 313.3h.01M252.3 316.3h.01M251.9 317.0h.01M253.3 319.1h.01M252.1 317.8h.01M253.0 315.9h.01M250.0 319.1h.01M250.0 317.1h.01M245.9 321.5h.01M252.0 314.5h.01M250.1 313.4h.01M248.2 320.4h.01M249.6 309.1h.01M246.9 314.8h.01M254.4 316.3h.01M248.4 311.9h.01M251.6 316.8h.01M250.6 313.1h.01M246.0 311.0h.01M250.2 311.1h.01M249.4 312.3h.01M249.6 319.7h.01M253.0 317.4h.01M249.9 313.7h.01M255.5 316.4h.01M252.4 305.5h.01M254.6 319.0h.01M246.7 312.7h.01M251.4 317.7h.01M250.4 315.3h.01M249.8 313.0h.01M254.7 317.9h.01M250.9 313.1h.01M248.6 315.3h.01M248.4 317.9h.01M249.6 317.8h.01M245.6 316.1h.01M250.7 316.7h.01M247.8 315.3h.01M250.4 316.7h.01M252.4 308.7h.01M253.4 318.1h.01M249.2 315.1h.01M260.9 321.2h.01M253.0 317.3h.01M248.7 308.9h.01M249.9 313.2h.01M249.1 315.8h.01M249.2 308.3h.01M250.6 319.3h.01M250.2 318.0h.01M251.2 317.6h.01M250.5 315.1h.01M245.7 318.7h.01M247.2 310.8h.01M248.4 315.1h.01M250.2 316.2h.01M248.8 313.3h.01M249.8 313.9h.01M249.9 311.9h.01M251.9 318.0h.01M251.1 320.8h.01M248.4 311.3h.01M245.2 313.3h.01M248.4 311.5h.01M247.2 313.3h.01M246.5 309.7h.01M251.1 305.8h.01M251.3 314.8h.01M255.7 320.4h.01M247.8 317.6h.01M247.0 315.9h.01M248.2 310.2h.01M251.1 318.6h.01M252.1 311.4h.01M247.8 315.3h.01M247.7 316.5h.01M251.8 319.1h.01M252.3 315.7h.01M255.6 315.3h.01M247.6 316.1h.01M253.5 310.1h.01M250.3 319.7h.01M249.8 318.0h.01M253.1 317.1h.01M248.7 312.5h.01M248.8 316.7h.01M247.4 307.1h.01M253.3 309.8h.01M251.1 311.1h.01M247.9 321.6h.01M254.9 313.8h.01M250.2 315.9h.01M249.4 313.5h.01M251.3 312.8h.01M249.9 316.3h.01M250.5 312.4h.01M251.6 317.6h.01M251.0 315.6h.01M252.9 312.7h.01M250.2 316.8h.01M250.1 313.7h.01M247.0 314.3h.01M247.5 313.8h.01M251.1 314.0h.01M250.3 312.5h.01M251.5 315.2h.01M249.7 318.7h.01M250.4 316.8h.01M253.9 319.4h.01M252.2 312.8h.01M250.5 309.3h.01M254.2 308.1h.01M248.2 313.4h.01M247.2 317.1h.01M252.5 315.8h.01M254.0 318.1h.01M250.3 316.7h.01M249.4 319.5h.01M249.3 311.3h.01M249.6 315.3h.01M246.0 315.4h.01M246.2 313.0h.01M244.9 312.6h.01M252.5 311.4h.01M251.3 312.9h.01M252.9 321.6h.01M248.9 317.7h.01M253.1 317.8h.01M250.0 313.2h.01M250.0 315.7h.01M248.3 315.8h.01M246.3 311.7h.01M247.1 316.5h.01M254.6 313.7h.01M254.4 318.3h.01M244.1 316.4h.01M252.3 317.8h.01M255.4 313.6h.01M253.6 307.8h.01M253.1 310.6h.01M254.8 316.7h.01M249.0 314.7h.01M254.7 320.9h.01M252.3 314.7h.01M252.9 305.9h.01M251.0 324.2h.01M247.7 312.1h.01M246.9 314.8h.01M248.8 313.9h.01M251.5 311.3h.01M248.9 316.4h.01M251.6 319.1h.01M251.8 313.5h.01M250.2 307.4h.01M244.3 312.3h.01M253.7 311.6h.01M250.7 310.7h.01M252.5 317.2h.01M248.0 315.2h.01M251.0 318.3h.01M259.3 312.0h.01M253.1 320.6h.01M249.4 318.1h.01M253.5 311.0h.01M251.2 313.4h.01M248.1 314.9h.01M250.1 313.7h.01M245.9 316.9h.01M248.0 310.7h.01M252.1 314.6h.01M248.3 313.9h.01M249.5 319.7h.01M247.5 312.6h.01M253.1 316.8h.01M246.1 312.8h.01M248.5 312.6h.01M246.3 312.0h.01M248.5 321.2h.01M255.6 323.7h.01M260.4 311.3h.01M253.3 314.9h.01M254.2 317.8h.01M246.1 311.7h.01M250.1 314.0h.01M254.6 307.5h.01M248.4 312.7h.01M253.8 313.2h.01M253.6 311.8h.01M253.9 314.1h.01M250.2 315.2h.01M251.9 316.4h.01M248.1 322.2h.01M251.8 316.8h.01M247.1 312.8h.01M249.5 314.9h.01M251.9 316.8h.01M252.9 310.6h.01M250.6 312.5h.01M255.7 313.3h.01M243.2 318.2h.01M247.6 315.1h.01M249.9 312.5h.01M249.6 312.4h.01M254.0 312.3h.01M254.5 309.1h.01M248.3 310.4h.01M251.0 320.7h.01M251.4 311.0h.01M252.6 315.1h.01M246.6 311.7h.01M250.5 314.2h.01M248.9 312.2h.01M249.0 320.3h.01M247.3 316.5h.01M247.1 308.7h.01M252.8 313.9h.01M248.6 315.0h.01M249.3 319.3h.01M247.6 315.2h.01M246.8 308.9h.01M249.1 318.0h.01M243.6 311.0h.01M248.7 313.0h.01M248.1 316.0h.01M247.2 317.5h.01M248.1 316.3h.01M251.0 316.9h.01M248.7 314.6h.01M251.2 321.7h.01M252.9 320.9h.01M247.8 313.5h.01M249.0 316.0h.01M250.7 311.8h.01M244.6 314.0h.01M247.7 312.7h.01M247.8 308.1h.01M246.9 314.4h.01M248.7 313.7h.01M251.0 309.9h.01M251.2 316.3h.01M252.6 306.7h.01M249.8 314.9h.01M251.1 314.4h.01M253.7 313.9h.01M251.7 313.0h.01M246.5 313.6h.01M256.5 307.2h.01M253.5 318.8h.01M255.7 318.9h.01M253.5 313.8h.01M247.3 314.8h.01M247.8 313.6h.01M249.5 316.4h.01M250.1 313.5h.01M251.1 315.5h.01M249.2 313.9h.01M252.4 318.6h.01M252.0 308.6h.01M251.5 308.4h.01M252.8 311.3h.01M249.0 313.1h.01M255.6 316.1h.01M245.7 315.3h.01M250.6 311.7h.01M250.1 312.4h.01M255.3 313.4h.01M251.4 315.9h.01M248.4 312.1h.01M251.6 309.5h.01M252.1 313.7h.01M255.8 317.8h.01M248.5 312.6h.01M249.8 316.3h.01M247.9 312.2h.01M249.5 319.0h.01M248.3 311.2h.01M246.3 320.3h.01M246.4 310.6h.01M250.0 313.4h.01M251.5 312.4h.01M245.9 313.7h.01M255.2 314.3h.01M248.6 313.2h.01M249.3 319.4h.01M245.9 309.7h.01M254.0 307.3h.01M248.2 306.7h.01M251.2 311.2h.01M246.7 311.4h.01M249.6 309.9h.01M251.8 318.9h.01M249.8 316.6h.01M251.0 311.3h.01M255.9 311.7h.01M249.8 312.6h.01M250.3 315.2h.01M254.5 313.8h.01M248.5 319.1h.01M252.1 308.7h.01M249.2 308.9h.01M251.0 315.4h.01M252.6 317.6h.01M251.4 319.1h.01M250.4 312.1h.01M244.7 316.9h.01M252.2 317.4h.01M250.4 313.5h.01M249.1 314.9h.01M249.3 314.2h.01M249.4 314.9h.01M245.9 311.2h.01M250.0 317.5h.01M247.1 314.6h.01M250.7 316.3h.01M245.1 321.3h.01M248.8 318.1h.01M252.5 319.0h.01M250.7 306.3h.01M251.0 316.7h.01M250.4 316.0h.01M248.7 310.8h.01M251.8 314.1h.01M249.4 316.5h.01M249.1 315.3h.01M247.9 317.6h.01M253.1 315.4h.01M250.4 316.1h.01M249.1 317.1h.01M253.1 311.6h.01M252.2 313.6h.01M253.7 315.3h.01M247.9 313.5h.01M250.4 315.0h.01M247.5 309.5h.01M254.6 316.3h.01M252.1 312.5h.01M257.2 312.9h.01M251.3 312.3h.01M252.9 316.0h.01M255.6 319.6h.01M247.1 313.9h.01M249.4 314.8h.01M251.9 309.2h.01M252.4 316.0h.01M254.7 307.8h.01M253.9 311.3h.01M243.4 319.4h.01M247.6 316.9h.01M255.3 318.7h.01M244.9 318.3h.01M251.5 311.9h.01M246.6 313.0h.01M252.1 317.9h.01M248.4 320.8h.01M249.4 316.6h.01M256.6 309.6h.01M251.2 312.7h.01M250.2 316.0h.01M247.6 321.4h.01M250.3 311.4h.01M254.4 308.5h.01M251.2 315.2h.01M255.1 312.7h.01M252.1 314.0h.01M251.9 308.6h.01M245.6 313.6h.01M252.2 315.3h.01M244.8 311.5h.01M251.2 316.5h.01M250.1 311.4h.01M252.7 308.5h.01M250.6 318.3h.01M251.7 315.6h.01M250.3 320.1h.01M255.1 314.7h.01M253.0 320.3h.01M244.7 310.5h.01M255.7 313.7h.01M246.1 309.5h.01M247.6 316.2h.01M244.6 313.9h.01M248.2 318.4h.01M249.6 314.9h.01M249.3 312.7h.01M250.1 313.0h.01M250.2 314.1h.01M251.4 316.0h.01M249.2 310.5h.01M251.9 320.5h.01M251.3 317.7h.01M248.2 312.0h.01M246.6 311.9h.01M251.3 313.2h.01M247.3 316.1h.01M252.8 313.0h.01M252.1 314.6h.01M253.9 320.6h.01M253.2 309.1h.01M248.8 317.6h.01M248.8 321.1h.01M244.3 319.9h.01M252.8 316.7h.01M251.3 310.4h.01M249.8 314.9h.01M245.7 313.6h.01M247.5 315.8h.01M242.6 314.3h.01M256.7 321.6h.01M252.4 323.1h.01M248.3 317.7h.01M254.2 313.1h.01M254.2 318.5h.01M250.7 315.7h.01M249.3 317.2h.01M253.1 310.1h.01M253.5 314.6h.01M253.8 312.5h.01M251.6 315.1h.01M253.9 308.4h.01M251.7 314.7h.01M250.9 310.6h.01M250.2 315.7h.01M247.2 312.3h.01M248.4 313.3h.01M255.0 313.9h.01M252.4 315.3h.01M250.3 315.4h.01M245.4 312.9h.01M247.7 316.6h.01M244.7 320.0h.01M248.4 318.5h.01M248.7 311.2h.01M252.5 312.2h.01M249.8 312.5h.01M248.5 320.2h.01M255.3 312.1h.01M254.3 315.9h.01M249.1 316.0h.01M246.0 311.1h.01M247.5 314.8h.01M248.4 313.3h.01M249.2 320.3h.01M251.2 311.6h.01M250.1 311.2h.01M250.1 317.8h.01M244.2 318.0h.01M247.1 314.6h.01M252.2 314.8h.01M254.4 316.6h.01M253.1 312.9h.01M251.8 310.5h.01M245.5 315.4h.01M248.4 316.1h.01M249.5 313.9h.01M244.5 315.0h.01M254.1 315.8h.01M249.6 317.0h.01M251.9 312.4h.01M247.9 311.6h.01M247.8 311.1h.01M250.6 315.2h.01M251.6 313.0h.01M247.7 311.5h.01M251.7 313.0h.01M251.7 306.4h.01M252.8 312.4h.01M246.4 311.5h.01M250.6 315.1h.01M255.4 318.8h.01M248.7 312.5h.01M249.2 318.6h.01M248.9 306.9h.01M251.3 316.7h.01M252.6 314.1h.01M253.2 317.0h.01M247.2 317.1h.01M249.3 317.0h.01M249.8 305.9h.01M248.3 314.6h.01M247.0 308.6h.01M253.7 313.7h.01M250.4 309.4h.01M253.9 314.9h.01M253.0 316.5h.01M248.1 315.8h.01M248.0 308.5h.01M247.7 323.1h.01M247.5 315.0h.01M248.3 309.5h.01M248.0 314.8h.01M249.6 321.9h.01M247.5 309.0h.01M251.2 309.4h.01M250.5 316.5h.01M242.5 312.7h.01M246.5 314.1h.01M250.4 311.4h.01M249.1 318.1h.01M251.3 317.4h.01M248.5 313.8h.01M248.6 317.5h.01M247.0 312.9h.01M246.5 308.3h.01M248.7 317.6h.01M253.3 313.3h.01M254.5 315.1h.01M249.3 314.3h.01M249.7 314.5h.01M253.1 310.2h.01M248.1 312.4h.01M252.7 315.6h.01M245.5 313.7h.01M247.2 310.6h.01M255.6 315.1h.01M248.8 318.6h.01M248.5 318.3h.01M248.4 317.3h.01M245.0 312.6h.01M249.0 315.6h.01M247.2 315.7h.01M251.2 315.1h.01M249.7 316.6h.01M249.7 316.5h.01M247.1 319.1h.01M250.1 309.8h.01M248.0 314.3h.01M253.0 313.9h.01M245.7 310.7h.01M249.7 312.3h.01M250.4 319.8h.01M250.0 314.0h.01M250.1 311.2h.01M250.7 314.9h.01M250.0 316.3h.01M253.4 323.4h.01M254.5 315.3h.01M244.7 311.3h.01M251.7 310.8h.01M252.1 313.0h.01M243.4 318.1h.01M248.1 313.8h.01M247.0 317.7h.01M251.6 313.3h.01M253.3 311.4h.01M251.9 314.9h.01M247.2 315.0h.01M245.3 308.9h.01M245.5 309.5h.01M251.4 309.8h.01M254.9 310.4h.01M247.9 320.2h.01M250.7 312.1h.01M245.7 313.3h.01M253.8 313.9h.01M252.9 321.0h.01M254.2 314.5h.01M254.0 314.4h.01M250.7 314.2h.01M251.4 311.4h.01M256.4 315.6h.01M247.4 314.8h.01M251.1 311.9h.01M250.6 309.6h.01M248.4 316.6h.01M250.2 312.7h.01M247.6 316.8h.01M253.7 320.9h.01M256.4 317.3h.01M251.2 320.0h.01M250.1 312.4h.01M248.2 314.2h.01M252.1 314.0h.01M249.7 316.3h.01M253.5 313.1h.01M249.4 322.7h.01M249.4 316.0h.01M252.0 310.1h.01M250.9 313.0h.01M244.4 314.4h.01M254.1 318.2h.01M251.1 316.1h.01M249.9 314.0h.01M251.1 310.0h.01M247.2 318.2h.01M246.1 318.9h.01M249.8 315.6h.01M249.1 312.7h.01M248.0 310.8h.01M250.0 315.7h.01M252.1 312.8h.01M247.7 317.7h.01M253.4 317.7h.01M250.0 315.6h.01M253.5 313.4h.01M254.4 316.4h.01M247.5 313.9h.01M248.5 311.4h.01M254.3 307.8h.01M250.8 319.8h.01M249.8 316.1h.01M246.3 310.4h.01M249.2 310.0h.01M248.6 310.1h.01M249.0 313.0h.01M248.8 309.0h.01M249.1 322.4h.01M243.0 316.4h.01M245.0 319.5h.01M247.8 314.7h.01M250.1 319.6h.01M251.6 310.4h.01M251.9 316.7h.01M254.2 310.6h.01M253.8 319.4h.01M251.1 316.7h.01M252.5 309.4h.01M250.1 316.6h.01M249.1 318.3h.01M256.4 314.5h.01M247.5 316.0h.01M245.0 320.4h.01M256.1 310.7h.01M245.2 319.1h.01M252.3 313.2h.01M246.9 313.7h.01M250.8 317.5h.01M241.9 313.4h.01M247.6 315.2h.01M253.1 309.8h.01M248.6 310.6h.01M247.4 314.0h.01M253.0 314.3h.01M248.3 324.0h.01M254.2 309.3h.01M248.0 314.4h.01M251.6 318.4h.01M247.3 312.7h.01M247.5 323.6h.01M252.7 316.0h.01M251.5 310.0h.01M253.8 307.7h.01M248.7 311.8h.01M248.5 309.0h.01M250.7 307.9h.01M253.3 311.2h.01M248.1 312.0h.01M246.3 319.8h.01M244.8 311.6h.01M247.6 317.1h.01M250.8 318.4h.01M249.3 309.7h.01M244.9 314.6h.01M251.0 310.8h.01M249.9 315.5h.01M251.2 315.9h.01M245.1 316.1h.01M253.1 312.1h.01M249.6 322.2h.01M251.0 311.1h.01M248.3 314.6h.01M244.9 318.1h.01M252.5 313.5h.01M255.5 307.7h.01M254.0 314.4h.01M248.7 303.9h.01M254.6 303.8h.01M248.0 312.9h.01M248.6 314.8h.01M253.2 313.8h.01M247.7 325.8h.01M250.6 313.8h.01M249.0 319.5h.01M248.5 315.8h.01M250.9 316.4h.01M249.3 310.0h.01M253.6 307.7h.01M251.9 317.1h.01M255.1 313.5h.01M246.0 314.4h.01M247.1 315.5h.01M249.3 316.1h.01M250.3 307.0h.01M251.7 309.9h.01M250.4 312.7h.01M247.4 314.5h.01M245.5 315.2h.01M252.4 313.5h.01M249.3 311.9h.01M248.6 319.9h.01M250.3 313.7h.01M252.6 309.5h.01M246.9 314.7h.01M251.2 318.1h.01M248.4 311.9h.01M252.7 316.3h.01M248.3 317.3h.01M253.2 318.5h.01M245.4 309.9h.01M251.4 314.6h.01M250.7 315.9h.01M251.9 310.5h.01M247.8 315.1h.01M252.7 310.5h.01M249.6 314.3h.01M252.3 315.7h.01M249.2 311.5h.01M245.2 309.5h.01M248.5 319.5h.01M248.4 310.0h.01M251.8 317.4h.01M246.9 317.8h.01M254.9 316.4h.01M249.1 313.6h.01M251.2 311.1h.01M247.2 309.6h.01M254.0 314.8h.01" stroke="#0c0c0c" stroke-width="0.75" stroke-linecap="square" fill="none" opacity="0.9"/>
<path d="M250.0 321.1h.01M254.1 318.5h.01M244.0 310.6h.01M247.3 319.6h.01M258.5 311.4h.01M254.2 321.0h.01M250.0 305.4h.01M260.0 320.8h.01M243.4 314.4h.01M249.0 320.5h.01M248.5 312.4h.01M250.0 306.6h.01M253.5 306.3h.01M247.5 319.9h.01M246.3 315.1h.01M251.8 317.4h.01M249.9 316.1h.01M243.4 307.5h.01M254.1 310.1h.01M248.6 313.6h.01M244.8 310.0h.01M244.9 313.6h.01M258.0 313.8h.01M243.5 308.9h.01M252.8 311.7h.01M254.0 310.2h.01M247.8 311.9h.01M245.0 312.3h.01M253.7 315.0h.01M256.0 309.5h.01M254.1 311.8h.01M250.1 321.0h.01M249.2 313.0h.01M252.4 311.8h.01M249.8 322.5h.01M246.0 316.9h.01M255.0 319.6h.01M253.1 323.2h.01M246.8 311.4h.01M253.1 310.6h.01M252.8 319.2h.01M249.7 295.2h.01M251.5 302.7h.01M240.7 318.3h.01M247.3 323.8h.01M256.0 316.2h.01M254.8 325.4h.01M251.9 320.8h.01M241.7 326.8h.01M240.8 313.2h.01M246.1 318.5h.01M249.8 301.4h.01M257.0 319.6h.01M249.5 320.5h.01M243.2 317.7h.01M259.1 309.6h.01M241.8 317.8h.01M264.4 313.1h.01M255.5 315.4h.01M245.8 324.4h.01M258.6 312.3h.01M245.0 326.6h.01M254.9 318.2h.01M246.2 312.3h.01M242.5 317.7h.01M249.6 318.8h.01M247.1 320.0h.01M245.8 311.8h.01M256.1 312.9h.01M248.7 314.0h.01M248.5 310.9h.01M245.5 324.6h.01M251.9 319.6h.01M250.0 315.9h.01M251.4 311.1h.01M244.4 320.1h.01M249.5 322.8h.01M252.3 313.1h.01M253.1 313.3h.01M257.4 318.4h.01M249.6 310.0h.01M242.4 314.4h.01M252.0 314.5h.01M241.7 313.8h.01M244.8 324.6h.01M254.4 315.3h.01M247.2 307.1h.01M252.2 310.8h.01M242.2 316.1h.01M254.9 316.8h.01M252.9 305.8h.01M258.0 306.6h.01M247.6 309.7h.01M244.8 311.9h.01M248.1 317.2h.01M257.8 324.4h.01M253.4 327.1h.01M248.5 314.7h.01M249.0 316.9h.01M247.3 313.3h.01M250.3 320.8h.01M254.7 320.8h.01M250.2 312.5h.01M260.3 316.2h.01M248.7 313.6h.01M251.6 313.6h.01M254.3 319.5h.01M252.4 300.0h.01M251.9 307.7h.01M252.6 315.4h.01M251.3 313.6h.01M256.7 307.1h.01M259.9 319.5h.01M252.2 318.4h.01M248.9 321.5h.01M251.8 323.7h.01M249.6 312.7h.01M251.7 318.5h.01M252.2 323.2h.01M256.9 310.8h.01M254.5 316.8h.01M248.6 320.5h.01M250.6 307.5h.01M253.9 319.2h.01M248.5 303.9h.01M249.4 304.1h.01M257.7 322.4h.01M247.8 318.5h.01M252.6 307.0h.01M251.8 310.0h.01M241.0 316.5h.01M249.5 309.8h.01M252.7 318.0h.01M249.0 311.8h.01M251.5 315.1h.01M255.2 304.5h.01M247.8 317.4h.01M241.7 322.2h.01M245.5 322.6h.01M244.5 314.0h.01M248.1 307.9h.01M256.4 309.3h.01M253.8 308.5h.01M247.0 304.6h.01M246.3 313.1h.01M246.0 312.2h.01M251.3 310.6h.01M252.1 328.8h.01M245.1 300.6h.01M249.6 309.8h.01M256.9 308.2h.01M245.2 322.1h.01M255.2 324.2h.01M241.3 313.1h.01M260.4 309.1h.01M247.7 319.7h.01M252.1 313.9h.01M250.0 322.3h.01M239.4 308.3h.01M246.0 312.3h.01M241.6 312.1h.01M247.9 316.6h.01M248.0 303.0h.01M251.7 306.1h.01M247.3 321.1h.01M248.1 306.9h.01M248.9 327.7h.01M245.0 318.1h.01M249.6 311.7h.01M249.8 309.0h.01M253.8 307.7h.01M257.0 316.3h.01M257.1 319.8h.01M252.6 313.9h.01M257.7 320.2h.01M256.2 304.7h.01M255.3 317.2h.01M257.5 308.0h.01M244.7 309.7h.01M242.9 316.6h.01M253.7 323.0h.01M239.1 314.3h.01M245.2 318.0h.01M259.3 311.9h.01M253.5 314.3h.01M259.1 319.0h.01M239.8 309.1h.01M255.9 312.6h.01M245.8 315.0h.01M249.3 313.6h.01M254.0 312.8h.01M242.7 318.3h.01M251.1 314.8h.01M254.5 310.4h.01M253.0 314.9h.01M245.5 312.5h.01M259.3 312.3h.01M250.0 309.1h.01M256.4 307.0h.01M251.8 324.3h.01M247.4 317.4h.01M251.6 310.7h.01M239.8 309.9h.01M240.6 318.8h.01M248.2 303.0h.01M243.8 309.4h.01M258.4 309.7h.01M240.9 312.8h.01M250.4 311.6h.01M250.7 313.4h.01M254.9 308.2h.01M249.3 317.7h.01M244.2 316.9h.01M247.7 318.4h.01M245.9 317.8h.01M247.8 312.2h.01M255.1 313.6h.01M254.3 309.5h.01M256.8 323.2h.01M245.7 314.3h.01M252.1 313.0h.01M259.9 325.3h.01M253.2 314.3h.01M259.0 305.7h.01M246.0 305.1h.01M251.0 307.8h.01M249.3 312.7h.01M253.1 309.2h.01M238.6 309.3h.01M248.5 313.4h.01M251.2 309.7h.01M254.1 310.7h.01M245.1 315.7h.01M257.1 318.0h.01M248.4 313.1h.01M248.6 316.8h.01M254.2 317.1h.01M249.9 308.8h.01M253.4 309.3h.01M245.2 312.8h.01M252.6 327.1h.01M247.6 300.7h.01M249.1 311.8h.01M256.2 323.5h.01M251.6 313.2h.01M250.3 306.4h.01M252.6 315.1h.01M245.3 300.6h.01M242.2 311.2h.01M249.9 321.1h.01M243.8 304.6h.01M247.4 304.9h.01M254.0 317.9h.01M250.6 313.3h.01M244.4 323.6h.01M262.6 314.0h.01M244.6 308.6h.01M261.8 312.3h.01M246.4 307.5h.01M246.2 311.1h.01M244.2 310.3h.01M251.4 322.9h.01M264.2 315.2h.01M251.0 318.4h.01M255.3 314.8h.01M256.1 310.9h.01M253.9 316.7h.01M251.0 317.2h.01M247.9 318.0h.01M256.6 309.2h.01M249.8 304.0h.01M243.8 323.1h.01M240.3 319.2h.01M252.5 322.4h.01M250.5 309.4h.01M246.6 315.2h.01M236.7 314.2h.01M249.7 314.6h.01M252.1 311.3h.01M253.1 314.6h.01M256.6 310.8h.01M238.9 307.3h.01M242.2 308.3h.01M238.3 314.9h.01M251.8 315.9h.01M247.3 314.1h.01M240.9 316.8h.01M258.3 309.5h.01M255.5 311.5h.01M247.1 313.3h.01M245.5 314.4h.01M256.0 311.8h.01M250.2 306.1h.01M245.3 318.7h.01M248.9 318.5h.01M248.8 326.8h.01M253.1 321.9h.01M251.9 313.5h.01M249.3 315.2h.01M241.2 321.6h.01M251.9 314.1h.01M251.4 314.2h.01M258.5 318.4h.01M243.6 318.2h.01M243.4 314.5h.01M244.4 307.6h.01M250.6 317.8h.01M251.3 309.0h.01M245.5 316.1h.01M253.7 315.4h.01M251.1 310.2h.01M244.2 307.6h.01M246.9 306.6h.01M250.7 308.9h.01M263.0 322.5h.01M255.7 303.6h.01M247.1 318.9h.01M241.5 304.6h.01M253.6 315.5h.01M243.8 315.4h.01M252.8 305.7h.01M255.2 304.7h.01M257.7 310.4h.01M244.6 317.0h.01M252.8 315.1h.01M251.7 310.3h.01M260.3 318.6h.01M251.7 317.5h.01M259.0 320.3h.01M244.8 317.4h.01M247.7 313.7h.01M249.9 310.8h.01M251.0 311.1h.01M260.1 323.4h.01M246.7 308.0h.01M249.6 313.3h.01M250.2 311.0h.01M247.5 318.1h.01M252.9 312.4h.01M253.7 304.7h.01M246.0 321.9h.01M252.3 310.0h.01M247.3 310.5h.01M255.4 311.6h.01M256.3 322.0h.01M259.0 314.2h.01M255.2 305.0h.01M249.5 325.1h.01M250.4 310.0h.01M247.2 314.2h.01M249.7 311.3h.01M247.3 313.5h.01M256.2 326.1h.01M241.4 307.6h.01M259.0 315.1h.01M249.7 314.9h.01M255.5 312.4h.01M253.3 320.3h.01M250.1 310.0h.01M252.3 314.7h.01M247.4 312.9h.01M247.3 304.7h.01M247.8 317.2h.01M253.9 312.8h.01M236.3 312.9h.01M253.6 316.8h.01M245.2 318.6h.01M254.6 317.8h.01M245.8 318.0h.01M262.8 317.0h.01M248.4 322.4h.01M241.5 305.3h.01M246.3 319.3h.01M254.4 316.7h.01M252.5 312.8h.01M248.0 315.1h.01M250.6 319.0h.01M248.4 318.8h.01M254.0 315.1h.01M234.4 312.1h.01M252.8 317.3h.01M252.9 317.5h.01M259.2 312.6h.01M252.8 316.0h.01M250.1 315.7h.01M243.1 314.7h.01M245.3 313.1h.01M248.9 315.3h.01M250.8 317.9h.01M245.2 306.9h.01M247.1 314.1h.01M248.5 317.6h.01M246.4 321.3h.01M244.9 307.2h.01M244.2 318.7h.01M244.6 313.8h.01M254.0 311.4h.01M255.7 310.5h.01M238.8 317.9h.01M256.1 311.3h.01M253.1 316.3h.01M256.9 309.9h.01M252.9 315.4h.01M261.8 319.7h.01M245.9 322.6h.01M256.5 320.6h.01M247.8 308.4h.01M260.6 324.8h.01M253.1 309.1h.01M256.0 319.6h.01M253.9 309.9h.01M249.1 320.8h.01M252.8 310.1h.01M251.8 314.0h.01M246.3 314.6h.01M246.4 321.4h.01M247.9 306.7h.01M252.5 323.8h.01M251.3 317.2h.01M256.3 318.6h.01M251.8 322.0h.01M247.3 307.8h.01M244.0 315.1h.01M245.2 322.7h.01M253.3 318.1h.01M242.7 313.6h.01M251.7 319.1h.01M250.4 315.7h.01M250.2 303.3h.01M251.2 309.0h.01M249.1 305.5h.01M249.3 313.6h.01M245.3 301.5h.01M249.9 313.5h.01M253.4 318.1h.01M246.3 317.6h.01M256.2 313.9h.01M250.7 316.5h.01M256.5 317.6h.01M259.6 317.5h.01M253.0 299.6h.01M248.7 316.6h.01M246.1 313.2h.01M241.7 313.4h.01M247.9 307.2h.01M247.9 303.1h.01M250.6 328.5h.01M250.1 311.3h.01M251.2 320.2h.01M248.2 316.1h.01M259.7 321.2h.01M249.2 317.7h.01M248.5 313.7h.01M255.9 306.6h.01M252.5 308.7h.01M245.9 308.6h.01M248.2 309.6h.01M249.5 303.3h.01M251.9 315.0h.01M248.5 308.5h.01M252.4 323.4h.01M249.5 315.0h.01M248.0 317.8h.01M243.5 310.7h.01M255.2 316.6h.01M247.9 308.0h.01M255.5 312.2h.01M259.3 311.4h.01M250.7 318.8h.01M254.2 316.2h.01M262.9 305.7h.01M254.4 316.8h.01M248.4 312.8h.01M253.5 313.3h.01M247.2 304.8h.01M254.4 328.9h.01M249.0 311.8h.01M252.4 320.7h.01M249.5 309.4h.01M238.4 314.1h.01M260.6 314.3h.01M249.7 322.0h.01M257.4 324.2h.01M248.9 328.7h.01M243.6 318.0h.01M252.9 317.8h.01M247.8 320.3h.01M247.7 321.1h.01M257.2 310.5h.01M248.0 313.4h.01M243.4 312.7h.01M250.5 310.2h.01M258.7 321.1h.01M247.3 312.7h.01M251.2 330.2h.01M252.6 310.6h.01M254.3 308.7h.01M249.3 317.7h.01M244.8 318.3h.01M245.6 309.9h.01M254.7 314.6h.01M252.2 323.0h.01M249.8 317.9h.01M256.2 322.1h.01M241.6 317.2h.01M242.6 327.8h.01M259.6 311.2h.01M250.1 318.2h.01M245.8 320.7h.01M246.7 309.1h.01M250.6 320.1h.01M241.2 310.2h.01M245.0 318.1h.01M247.2 308.7h.01M254.0 309.3h.01M246.8 311.5h.01M246.3 315.1h.01M251.0 309.9h.01M254.8 310.7h.01M250.9 314.9h.01M244.2 305.1h.01M252.3 313.1h.01M245.8 312.7h.01M255.5 310.5h.01M248.8 310.5h.01M250.7 315.2h.01M258.8 325.0h.01M259.4 311.3h.01M251.2 311.0h.01M251.3 322.2h.01M254.8 314.1h.01M250.3 318.3h.01M252.5 320.8h.01M252.2 312.9h.01M262.4 312.3h.01M253.1 308.5h.01M250.8 311.4h.01M254.5 312.5h.01M242.5 318.0h.01M248.6 317.1h.01M251.9 321.0h.01M247.3 313.7h.01M249.8 312.5h.01M257.9 313.6h.01M251.0 312.0h.01M260.2 315.8h.01M248.5 315.7h.01M255.8 317.1h.01M249.0 314.2h.01M249.9 306.4h.01M254.2 315.2h.01M241.6 320.3h.01M247.7 304.7h.01M243.0 311.0h.01M253.6 310.8h.01M253.4 310.8h.01M252.3 301.8h.01M248.9 310.5h.01M264.0 322.7h.01M256.2 320.4h.01M251.7 311.0h.01M253.9 308.7h.01M252.6 309.6h.01M246.5 310.6h.01M253.6 310.4h.01M250.0 318.4h.01M246.2 309.9h.01M252.6 312.8h.01M252.1 322.0h.01M250.0 322.9h.01M250.4 315.7h.01M256.8 314.5h.01M250.0 307.7h.01M255.1 316.6h.01M252.9 321.6h.01M251.9 311.9h.01M256.5 322.8h.01M266.7 315.8h.01M247.1 312.7h.01M256.5 321.2h.01M244.8 311.5h.01M258.1 319.5h.01M245.7 328.0h.01M257.4 311.5h.01M256.1 311.1h.01M252.9 307.6h.01M252.5 322.3h.01M264.0 324.0h.01M246.4 320.4h.01M242.8 322.2h.01M253.1 316.1h.01M259.3 317.9h.01M247.1 323.6h.01M252.6 322.7h.01M250.5 323.3h.01M246.0 323.7h.01M252.7 308.9h.01M256.3 316.8h.01M252.9 324.8h.01M257.9 307.9h.01M249.6 316.9h.01M264.5 320.8h.01M251.3 315.6h.01M244.9 322.7h.01M245.8 308.2h.01M257.5 316.0h.01M247.2 326.6h.01M240.5 302.2h.01M241.2 322.1h.01M255.4 314.6h.01M248.0 320.6h.01M245.3 311.0h.01M245.2 318.3h.01M251.9 316.5h.01M259.0 312.2h.01M246.9 307.8h.01M251.7 317.4h.01M243.6 317.9h.01M248.2 316.8h.01M254.9 302.7h.01M249.7 307.7h.01M254.0 315.9h.01M255.1 314.1h.01M242.5 317.6h.01M249.6 313.2h.01M257.8 320.3h.01M247.5 308.8h.01M257.8 323.7h.01M245.2 308.7h.01M249.3 313.9h.01M253.4 322.7h.01M254.0 314.8h.01M253.2 319.9h.01M252.6 318.4h.01M255.5 317.8h.01M248.1 312.1h.01M241.6 310.8h.01M241.5 321.2h.01M252.2 318.9h.01M247.6 317.7h.01M256.8 321.9h.01M243.9 319.7h.01M246.1 308.8h.01M250.2 320.3h.01M251.0 311.0h.01M260.6 316.8h.01M260.1 316.7h.01M247.4 318.8h.01M251.7 328.3h.01M254.3 311.1h.01M244.4 307.0h.01M253.8 315.7h.01M251.4 315.8h.01M238.5 306.8h.01M259.8 319.7h.01M260.0 312.4h.01M257.1 317.5h.01M244.6 322.8h.01M245.6 318.0h.01M252.1 318.8h.01M254.5 314.5h.01M245.5 318.7h.01M243.0 317.0h.01M243.6 312.8h.01M241.5 311.0h.01M246.8 312.7h.01M243.2 320.4h.01M245.0 312.0h.01M255.5 312.8h.01M256.3 308.9h.01M247.6 316.6h.01M251.8 321.1h.01M254.0 323.7h.01M246.9 318.6h.01M247.2 319.4h.01M248.2 317.4h.01M250.1 322.1h.01M253.7 316.3h.01M251.7 316.0h.01M258.4 310.2h.01M249.8 320.1h.01M246.0 310.9h.01M245.6 312.1h.01M249.7 313.6h.01M243.9 310.9h.01M249.1 324.2h.01M260.4 316.9h.01M256.8 312.2h.01M246.5 316.6h.01M257.8 313.3h.01M247.9 321.8h.01M252.8 315.1h.01M245.4 312.5h.01M255.4 311.0h.01M246.0 315.2h.01M258.3 308.9h.01M248.0 318.9h.01M252.5 310.0h.01M250.5 315.2h.01M251.9 316.6h.01M247.4 310.4h.01M246.3 322.3h.01M243.0 307.1h.01M250.5 318.6h.01M255.6 321.4h.01M256.5 313.5h.01M257.2 324.7h.01M251.8 314.4h.01M257.2 308.4h.01M249.5 313.9h.01M250.2 314.3h.01M239.1 312.5h.01M255.9 312.5h.01M249.9 317.0h.01M253.8 302.0h.01M246.7 322.9h.01M258.5 311.3h.01M253.9 313.5h.01M252.6 306.9h.01M249.6 310.6h.01M248.4 321.4h.01M250.1 322.9h.01M257.0 309.4h.01M247.9 315.3h.01M246.2 321.4h.01M250.3 309.1h.01M245.7 313.8h.01M260.7 316.5h.01M240.3 317.6h.01M255.0 310.7h.01M253.5 317.7h.01M255.2 312.8h.01M247.7 307.7h.01M258.7 323.5h.01M253.7 308.6h.01M255.6 325.9h.01M250.0 317.6h.01M246.7 325.2h.01M256.0 316.9h.01M256.1 321.8h.01M245.9 314.5h.01M247.3 315.9h.01M242.2 307.7h.01M256.2 317.4h.01M256.7 317.7h.01M257.7 319.8h.01M252.6 313.5h.01M254.3 306.6h.01M247.5 317.1h.01M251.1 317.4h.01M249.2 314.7h.01M261.8 311.1h.01M247.0 325.9h.01M246.5 321.7h.01M256.7 323.2h.01M260.9 322.1h.01M251.7 306.7h.01M243.9 318.5h.01M262.7 316.6h.01M254.2 317.9h.01M242.7 299.8h.01M253.4 312.0h.01M251.7 305.8h.01M251.9 320.7h.01M251.9 320.3h.01M247.8 316.1h.01M256.1 320.3h.01M251.6 305.8h.01M237.1 312.2h.01M244.5 316.1h.01M254.4 312.6h.01M249.2 321.3h.01M254.7 313.3h.01M248.3 315.4h.01M250.3 314.9h.01M248.8 315.5h.01M243.2 315.2h.01M245.2 305.8h.01M262.1 315.1h.01M256.4 300.9h.01M246.9 309.6h.01M250.6 308.8h.01M258.9 308.4h.01M247.9 316.4h.01M263.0 319.3h.01M257.6 325.9h.01M246.3 313.3h.01M253.8 310.3h.01M247.2 313.4h.01M250.5 307.0h.01M243.6 311.6h.01M248.5 312.0h.01M248.7 306.8h.01M241.4 320.4h.01M252.5 321.0h.01M247.3 317.5h.01M253.9 321.1h.01M257.6 311.8h.01M262.2 318.5h.01M248.9 315.7h.01" stroke="#0c0c0c" stroke-width="0.65" stroke-linecap="square" fill="none" opacity="0.75"/>
<path d="M252.2 327.6h.01M259.3 326.3h.01M238.9 317.2h.01M243.2 326.4h.01M251.3 332.8h.01M235.0 335.1h.01M252.9 319.8h.01M241.2 326.4h.01M250.9 328.0h.01M249.2 323.3h.01M255.8 333.0h.01M243.2 320.7h.01M244.9 324.3h.01M245.6 324.4h.01M251.0 335.3h.01M253.0 324.9h.01M262.9 322.6h.01M246.3 325.9h.01M255.4 328.3h.01M245.9 322.3h.01M259.7 338.8h.01M251.7 327.8h.01M250.9 323.7h.01M238.4 327.5h.01M242.9 334.5h.01M243.3 317.0h.01M253.8 327.9h.01M243.5 334.2h.01M272.5 325.0h.01M241.0 335.6h.01M249.1 311.4h.01M256.5 324.4h.01M251.9 321.5h.01M250.0 330.3h.01M252.0 337.0h.01M245.2 323.1h.01M253.3 315.0h.01M248.1 327.4h.01M249.0 321.0h.01M249.9 330.7h.01M260.1 339.8h.01M241.8 331.8h.01M248.1 332.9h.01M263.3 324.5h.01M250.3 324.6h.01M257.7 328.0h.01M239.4 318.3h.01M246.2 329.3h.01M247.1 324.1h.01M251.7 323.3h.01M247.2 325.6h.01M262.8 329.0h.01M261.4 328.1h.01M260.9 328.2h.01M246.8 337.0h.01M241.0 335.1h.01M244.1 332.3h.01M252.1 322.7h.01M245.3 321.4h.01M245.2 324.4h.01M257.6 313.1h.01M254.6 333.1h.01M258.6 332.5h.01M244.9 322.3h.01M240.3 331.6h.01M245.5 330.6h.01M250.4 335.2h.01M256.1 312.1h.01M252.1 321.5h.01M243.0 332.4h.01M256.5 315.9h.01M248.8 312.5h.01M253.0 317.1h.01M237.2 321.3h.01M241.2 324.7h.01M243.1 311.6h.01M255.2 322.4h.01M246.8 328.9h.01M231.2 325.4h.01M248.7 325.2h.01M245.3 324.1h.01M244.7 341.8h.01M240.6 322.6h.01M248.7 341.7h.01M266.3 321.2h.01M258.1 334.9h.01M249.5 318.6h.01M244.1 331.4h.01M235.6 338.6h.01M250.2 322.0h.01M236.9 316.0h.01M249.9 328.7h.01M240.8 327.7h.01M249.5 330.8h.01M261.5 337.6h.01M256.5 315.8h.01M248.6 324.4h.01M251.2 320.3h.01M248.6 329.1h.01M252.7 329.6h.01M262.1 333.3h.01M236.3 317.1h.01M252.1 325.0h.01M251.3 324.8h.01M262.2 320.9h.01M239.3 316.0h.01M229.1 329.5h.01M244.8 334.9h.01M254.1 320.1h.01M258.2 322.2h.01M246.2 332.8h.01M260.0 326.3h.01M240.4 314.7h.01M246.3 315.1h.01M240.4 316.4h.01M249.1 332.5h.01M244.7 337.5h.01M248.8 313.5h.01M254.0 320.7h.01M244.4 320.0h.01M242.4 316.0h.01M245.0 310.3h.01M251.1 317.5h.01M248.4 323.2h.01M239.8 325.4h.01M265.1 316.3h.01M257.1 337.2h.01M244.9 319.6h.01M254.6 309.5h.01M247.3 333.4h.01M240.0 327.2h.01M248.4 341.7h.01M236.1 325.2h.01M240.0 329.6h.01M267.7 325.5h.01M234.8 312.1h.01M245.4 331.3h.01M251.6 322.1h.01M257.5 325.2h.01M244.9 323.8h.01M250.3 317.9h.01M247.3 325.7h.01M267.7 325.9h.01M260.5 343.2h.01M235.1 322.9h.01M256.9 332.3h.01M248.8 330.0h.01M240.5 326.6h.01M244.3 325.0h.01M260.4 330.3h.01M248.6 330.6h.01M242.5 326.1h.01M255.3 322.4h.01M246.8 318.1h.01M229.6 330.3h.01M233.1 334.7h.01M253.7 319.7h.01M256.6 315.4h.01M253.1 338.9h.01M257.5 334.7h.01M243.8 317.1h.01M238.7 327.0h.01M249.5 316.0h.01M253.4 322.7h.01M254.7 330.0h.01M260.1 326.0h.01M254.6 319.4h.01M236.6 333.5h.01M244.8 314.4h.01M249.4 327.5h.01M248.4 320.9h.01M244.0 323.1h.01M244.3 323.2h.01M255.5 332.2h.01M249.6 323.6h.01M236.8 313.3h.01M247.7 313.6h.01M262.7 322.9h.01M241.5 332.5h.01M242.2 318.3h.01M255.3 325.6h.01M249.1 313.4h.01M257.2 321.5h.01M240.8 329.2h.01M255.6 321.3h.01M248.9 315.7h.01M239.9 325.3h.01M258.3 324.9h.01M254.1 319.0h.01M249.6 325.1h.01M250.1 323.7h.01M253.6 329.3h.01M244.8 311.8h.01M245.9 322.5h.01M252.4 328.2h.01M246.1 318.9h.01M246.8 325.5h.01M247.8 315.6h.01M233.7 332.0h.01M241.4 327.2h.01M238.6 318.3h.01M250.2 322.7h.01M244.9 331.7h.01M256.6 337.4h.01M244.9 324.8h.01M251.7 324.7h.01M241.7 325.0h.01M248.7 316.5h.01M245.9 324.2h.01M247.3 311.4h.01M241.4 342.1h.01M263.9 320.0h.01M247.7 326.8h.01M246.5 327.9h.01M251.4 318.9h.01M249.1 325.6h.01M240.6 323.9h.01M254.8 315.1h.01M257.9 313.7h.01M252.1 320.1h.01M245.7 327.6h.01M242.5 323.0h.01M245.1 332.8h.01M243.2 324.5h.01M246.2 316.7h.01M245.1 330.6h.01M259.8 328.1h.01M248.7 319.5h.01M259.6 311.8h.01M252.1 324.6h.01M255.4 327.9h.01M249.6 324.3h.01M248.0 316.7h.01M250.3 322.0h.01M255.0 322.4h.01M252.9 330.5h.01M252.5 334.3h.01M243.3 322.8h.01M245.4 317.2h.01M241.2 320.6h.01M251.4 332.7h.01M253.9 330.0h.01M241.5 330.1h.01M231.4 309.2h.01M250.8 321.0h.01M253.7 328.6h.01M262.8 315.0h.01M252.7 319.3h.01M263.8 322.0h.01M238.1 317.2h.01M242.3 331.9h.01M252.2 331.6h.01M252.6 330.9h.01M254.6 325.1h.01M249.7 320.3h.01M241.5 316.2h.01M253.7 322.2h.01M242.1 331.8h.01M249.0 311.6h.01" stroke="#0c0c0c" stroke-width="0.55" stroke-linecap="square" fill="none" opacity="0.55"/>
<path d="M271.7 316.2h.01M251.0 317.3h.01M265.7 319.9h.01M271.3 310.3h.01M272.7 315.2h.01M270.0 324.6h.01M261.2 319.8h.01M271.4 326.7h.01M254.8 314.2h.01M268.9 321.2h.01M261.9 317.1h.01M262.5 326.5h.01M258.0 323.7h.01M265.4 320.6h.01M245.2 321.1h.01M253.3 312.8h.01M257.5 321.3h.01M241.9 319.8h.01M249.2 316.4h.01M267.2 312.3h.01M265.2 321.2h.01M270.6 321.0h.01M252.4 327.3h.01M256.9 316.4h.01M263.2 329.0h.01M248.3 320.9h.01M253.9 318.0h.01M250.9 324.5h.01M263.1 319.2h.01M246.0 317.0h.01M259.0 315.2h.01M261.0 325.2h.01M285.8 316.2h.01M278.0 313.9h.01M249.1 319.1h.01M263.9 329.3h.01M265.2 323.8h.01M260.7 328.4h.01M265.8 319.1h.01M267.3 324.5h.01M266.7 327.7h.01M289.6 299.3h.01M271.9 314.5h.01M265.3 311.9h.01M255.4 317.1h.01M277.6 316.5h.01M271.5 323.2h.01M284.6 329.4h.01M275.3 316.7h.01M264.0 325.4h.01M262.6 320.4h.01M254.7 312.0h.01M255.8 322.1h.01M269.0 307.0h.01M268.5 325.7h.01M272.7 323.7h.01M253.5 320.8h.01M265.6 317.4h.01M274.7 329.4h.01M248.2 324.4h.01M276.0 312.1h.01M261.7 315.7h.01M266.2 310.8h.01M285.3 313.0h.01M284.3 317.7h.01M275.4 317.0h.01M267.7 321.2h.01M250.3 335.7h.01M270.3 317.3h.01M274.5 314.1h.01M257.2 321.9h.01M244.3 327.4h.01M260.2 326.7h.01M277.1 310.7h.01M259.3 323.8h.01M253.5 325.4h.01M270.3 317.0h.01M280.8 316.4h.01M264.2 329.7h.01M262.2 318.7h.01M298.1 319.0h.01M272.8 315.4h.01M255.0 313.1h.01M267.5 320.5h.01M271.2 298.1h.01M273.3 312.7h.01M271.8 324.3h.01M267.8 311.1h.01M272.0 328.0h.01M279.4 317.6h.01M265.7 316.8h.01M254.4 311.0h.01M261.6 315.1h.01M242.1 319.1h.01M265.4 309.4h.01M264.8 316.5h.01M240.1 325.3h.01M292.2 317.4h.01M272.4 319.9h.01M265.9 317.7h.01M275.5 306.7h.01M278.4 323.4h.01M277.3 302.9h.01M269.2 323.8h.01M270.0 312.8h.01M262.5 321.3h.01M271.1 326.4h.01M269.8 328.9h.01M268.0 320.0h.01M252.9 322.2h.01M254.1 318.1h.01M248.8 310.2h.01M270.0 319.4h.01M255.7 315.1h.01M275.6 316.5h.01M266.4 314.3h.01M285.5 312.4h.01M269.8 317.4h.01M265.6 330.5h.01M272.7 325.2h.01M269.1 324.6h.01M286.9 330.5h.01M271.6 319.6h.01M259.2 319.7h.01M272.9 317.2h.01M273.4 320.5h.01M271.3 312.3h.01M271.7 324.3h.01M286.0 304.6h.01M289.7 312.5h.01M272.5 303.0h.01M250.6 314.5h.01M278.3 303.4h.01M264.0 311.6h.01M282.5 319.6h.01M280.4 316.3h.01M257.8 329.0h.01M251.3 315.3h.01M271.3 302.2h.01M277.6 324.7h.01M273.3 310.9h.01M274.3 321.3h.01M261.8 319.4h.01M291.6 312.8h.01M253.6 329.8h.01M260.4 320.5h.01M262.9 310.9h.01M272.2 310.6h.01M260.6 324.9h.01M258.1 327.5h.01M269.4 322.0h.01M263.7 323.9h.01M279.4 318.3h.01M274.9 330.0h.01M272.8 306.1h.01M270.8 315.7h.01M281.2 320.0h.01M269.5 314.7h.01M253.9 313.1h.01M257.0 319.9h.01M258.1 321.6h.01M264.7 323.2h.01M262.9 317.1h.01M260.1 327.4h.01M291.9 322.3h.01M256.5 314.9h.01M271.4 322.0h.01M276.8 326.0h.01M280.3 331.8h.01M254.4 327.8h.01M260.2 317.7h.01M237.9 334.2h.01M236.9 314.9h.01M273.4 315.7h.01M252.1 322.9h.01M265.9 316.5h.01M275.8 324.7h.01M254.1 318.4h.01M245.9 316.5h.01M286.3 318.2h.01M292.5 316.0h.01M268.0 312.5h.01M273.9 305.5h.01M263.7 307.5h.01M267.2 303.4h.01M245.6 325.6h.01M260.3 329.7h.01M264.9 319.9h.01M260.2 306.0h.01M258.1 316.2h.01M278.8 312.4h.01M273.1 324.0h.01M259.4 322.6h.01M269.2 316.4h.01M270.9 325.4h.01M244.2 318.6h.01M267.1 326.9h.01M263.8 323.8h.01M255.9 325.9h.01M274.2 311.6h.01M251.3 323.4h.01M252.4 321.2h.01M266.3 321.3h.01M269.2 311.5h.01M274.5 309.4h.01M272.5 320.4h.01M265.7 322.4h.01M249.8 313.7h.01M278.9 328.0h.01M252.3 315.2h.01M266.5 311.0h.01M276.9 304.6h.01M242.9 317.6h.01M266.3 318.7h.01M247.4 307.2h.01M276.2 316.5h.01M241.2 305.2h.01M267.2 319.0h.01M247.0 311.9h.01M275.4 319.0h.01M255.1 331.3h.01M266.5 311.8h.01M246.4 312.2h.01M258.8 318.8h.01M262.6 312.7h.01M247.4 317.9h.01M267.5 313.5h.01M266.3 308.7h.01M265.5 327.5h.01M264.9 310.6h.01M242.6 318.6h.01M255.0 304.4h.01M261.4 310.9h.01M263.5 328.9h.01M247.0 318.3h.01M272.2 320.3h.01M273.5 313.7h.01M279.4 311.6h.01M255.6 336.7h.01M256.5 313.2h.01M261.3 316.4h.01M270.4 308.8h.01M253.8 327.6h.01M282.2 313.9h.01M254.0 311.6h.01M257.2 312.2h.01M262.1 318.3h.01M259.7 319.3h.01M257.2 310.2h.01M252.8 311.1h.01M268.5 317.7h.01M271.0 321.7h.01M273.9 321.8h.01M280.1 318.1h.01M262.0 322.3h.01M257.3 323.3h.01M270.2 325.5h.01M258.4 328.2h.01M268.5 310.6h.01M261.9 310.1h.01M285.1 298.8h.01M248.3 307.7h.01M243.5 317.5h.01M280.2 312.2h.01M261.8 307.2h.01M287.1 326.6h.01M250.3 322.4h.01M261.5 319.4h.01M269.0 315.0h.01M273.5 313.2h.01M274.5 317.9h.01M270.1 313.8h.01M273.4 322.1h.01M249.2 305.4h.01M245.1 322.4h.01M260.1 328.3h.01M266.4 302.5h.01M269.9 304.1h.01M281.0 310.7h.01M265.5 323.5h.01M249.8 309.6h.01M263.9 325.6h.01M258.8 308.0h.01M275.4 310.0h.01M262.1 313.5h.01M267.2 324.9h.01M256.5 318.7h.01M264.1 324.6h.01M260.5 322.5h.01M267.4 327.2h.01M261.2 322.9h.01M270.5 306.4h.01M245.1 312.2h.01M261.3 310.7h.01M254.4 308.3h.01M249.2 328.2h.01M246.9 313.3h.01M254.0 319.4h.01M252.0 324.2h.01M279.3 319.9h.01" stroke="#0c0c0c" stroke-width="0.55" stroke-linecap="square" fill="none" opacity="0.5"/>
<rect x="219.2" y="255.2" width="92.20" height="91.80" fill="none" stroke="#3a3a3a" stroke-width="0.7"/>
<rect x="238.9" y="287.2" width="61.30" height="41.30" fill="none" stroke="#3a3a3a" stroke-width="0.6"/>
<text x="262.80" y="280.00" font-size="6.8" text-anchor="middle" font-weight="normal" fill="#111" stroke="#111" stroke-width="0.1">96%</text>
<line x1="217.80" y1="255.20" x2="219.20" y2="255.20" stroke="#3a3a3a" stroke-width="0.5"/>
<text x="217.40" y="256.30" font-size="3.8" text-anchor="end" font-weight="normal" fill="#111" stroke="#111" stroke-width="0.2">10<tspan font-size="2.6" dy="-1.43">4</tspan><tspan dy="1.43">&#8203;</tspan></text>
<line x1="219.20" y1="347.00" x2="219.20" y2="348.40" stroke="#3a3a3a" stroke-width="0.5"/>
<text x="219.20" y="352.20" font-size="3.8" text-anchor="middle" font-weight="normal" fill="#111" stroke="#111" stroke-width="0.2">10<tspan font-size="2.6" dy="-1.43">0</tspan><tspan dy="1.43">&#8203;</tspan></text>
<line x1="217.80" y1="278.15" x2="219.20" y2="278.15" stroke="#3a3a3a" stroke-width="0.5"/>
<text x="217.40" y="279.25" font-size="3.8" text-anchor="end" font-weight="normal" fill="#111" stroke="#111" stroke-width="0.2">10<tspan font-size="2.6" dy="-1.43">3</tspan><tspan dy="1.43">&#8203;</tspan></text>
<line x1="242.25" y1="347.00" x2="242.25" y2="348.40" stroke="#3a3a3a" stroke-width="0.5"/>
<text x="242.25" y="352.20" font-size="3.8" text-anchor="middle" font-weight="normal" fill="#111" stroke="#111" stroke-width="0.2">10<tspan font-size="2.6" dy="-1.43">1</tspan><tspan dy="1.43">&#8203;</tspan></text>
<line x1="217.80" y1="301.10" x2="219.20" y2="301.10" stroke="#3a3a3a" stroke-width="0.5"/>
<text x="217.40" y="302.20" font-size="3.8" text-anchor="end" font-weight="normal" fill="#111" stroke="#111" stroke-width="0.2">10<tspan font-size="2.6" dy="-1.43">2</tspan><tspan dy="1.43">&#8203;</tspan></text>
<line x1="265.30" y1="347.00" x2="265.30" y2="348.40" stroke="#3a3a3a" stroke-width="0.5"/>
<text x="265.30" y="352.20" font-size="3.8" text-anchor="middle" font-weight="normal" fill="#111" stroke="#111" stroke-width="0.2">10<tspan font-size="2.6" dy="-1.43">2</tspan><tspan dy="1.43">&#8203;</tspan></text>
<line x1="217.80" y1="324.05" x2="219.20" y2="324.05" stroke="#3a3a3a" stroke-width="0.5"/>
<text x="217.40" y="325.15" font-size="3.8" text-anchor="end" font-weight="normal" fill="#111" stroke="#111" stroke-width="0.2">10<tspan font-size="2.6" dy="-1.43">1</tspan><tspan dy="1.43">&#8203;</tspan></text>
<line x1="288.35" y1="347.00" x2="288.35" y2="348.40" stroke="#3a3a3a" stroke-width="0.5"/>
<text x="288.35" y="352.20" font-size="3.8" text-anchor="middle" font-weight="normal" fill="#111" stroke="#111" stroke-width="0.2">10<tspan font-size="2.6" dy="-1.43">3</tspan><tspan dy="1.43">&#8203;</tspan></text>
<line x1="217.80" y1="347.00" x2="219.20" y2="347.00" stroke="#3a3a3a" stroke-width="0.5"/>
<text x="217.40" y="348.10" font-size="3.8" text-anchor="end" font-weight="normal" fill="#111" stroke="#111" stroke-width="0.2">10<tspan font-size="2.6" dy="-1.43">0</tspan><tspan dy="1.43">&#8203;</tspan></text>
<line x1="311.40" y1="347.00" x2="311.40" y2="348.40" stroke="#3a3a3a" stroke-width="0.5"/>
<text x="311.40" y="352.20" font-size="3.8" text-anchor="middle" font-weight="normal" fill="#111" stroke="#111" stroke-width="0.2">10<tspan font-size="2.6" dy="-1.43">4</tspan><tspan dy="1.43">&#8203;</tspan></text>
<text x="345.20" y="124.90" font-size="11.8" text-anchor="start" font-weight="bold" fill="#000">F</text>
<text x="422.20" y="134.70" font-size="5.9" text-anchor="middle" font-weight="bold" fill="#111" stroke="#111" stroke-width="0.24">Absolute T<tspan font-size="3.9" dy="1.36">reg</tspan><tspan dy="-1.36">&#8203;</tspan> Number</text>
<line x1="367.00" y1="158.40" x2="367.00" y2="219.50" stroke="#555" stroke-width="0.9"/>
<line x1="364.60" y1="158.60" x2="367.00" y2="158.60" stroke="#3a3a3a" stroke-width="0.7"/>
<text x="364.20" y="160.15" font-size="4.3" text-anchor="end" font-weight="bold" fill="#111" stroke="#111" stroke-width="0.24">30000</text>
<line x1="364.60" y1="178.70" x2="367.00" y2="178.70" stroke="#3a3a3a" stroke-width="0.7"/>
<text x="364.20" y="180.25" font-size="4.3" text-anchor="end" font-weight="bold" fill="#111" stroke="#111" stroke-width="0.24">20000</text>
<line x1="364.60" y1="198.80" x2="367.00" y2="198.80" stroke="#3a3a3a" stroke-width="0.7"/>
<text x="364.20" y="200.35" font-size="4.3" text-anchor="end" font-weight="bold" fill="#111" stroke="#111" stroke-width="0.24">10000</text>
<line x1="364.60" y1="219.20" x2="367.00" y2="219.20" stroke="#3a3a3a" stroke-width="0.7"/>
<text x="364.20" y="220.75" font-size="4.3" text-anchor="end" font-weight="bold" fill="#111" stroke="#111" stroke-width="0.24">0</text>
<line x1="367.00" y1="219.20" x2="466.40" y2="219.20" stroke="#555" stroke-width="0.9"/>
<line x1="399.35" y1="189.10" x2="399.35" y2="186.60" stroke="#5a5a5a" stroke-width="0.7"/>
<line x1="392.60" y1="186.60" x2="406.10" y2="186.60" stroke="#6a6a6a" stroke-width="0.8"/>
<rect x="383.20" y="189.10" width="32.30" height="30.10" fill="#bcbcbc" stroke="#6c6c6c" stroke-width="0.6"/>
<line x1="447.85" y1="167.60" x2="447.85" y2="165.40" stroke="#5a5a5a" stroke-width="0.7"/>
<line x1="441.10" y1="165.40" x2="454.60" y2="165.40" stroke="#6a6a6a" stroke-width="0.8"/>
<rect x="431.70" y="167.60" width="32.30" height="51.60" fill="#626262" stroke="#3c3c3c" stroke-width="0.6"/>
<line x1="399.30" y1="219.20" x2="399.30" y2="221.00" stroke="#3a3a3a" stroke-width="0.6"/>
<line x1="447.80" y1="219.20" x2="447.80" y2="221.00" stroke="#3a3a3a" stroke-width="0.6"/>
<path d="M404 182.4V146.4H443V159.8" fill="none" stroke="#666" stroke-width="0.85"/>
<text x="424.40" y="146.00" font-size="8" text-anchor="middle" font-weight="bold" fill="#111">*</text>
<text x="398.40" y="225.90" font-size="4.7" text-anchor="middle" font-weight="bold" fill="#111" stroke="#111" stroke-width="0.24">CCR8<tspan font-size="2.8" dy="-1.54">-/-</tspan><tspan dy="1.54">&#8203;</tspan></text>
<text x="447.80" y="225.90" font-size="4.7" text-anchor="middle" font-weight="bold" fill="#111" stroke="#111" stroke-width="0.24">WT</text>
<text x="424.00" y="234.70" font-size="5.0" text-anchor="middle" font-weight="bold" fill="#111" stroke="#111" stroke-width="0.24">Group</text>
<text transform="translate(348.70 186.00) rotate(-90) scale(1 1)" font-size="5.0" text-anchor="middle" font-weight="bold" fill="#111" stroke="#111" stroke-width="0.24">Cell Count</text>
<rect x="473.4" y="151.0" width="8.4" height="3.6" fill="#bcbcbc" stroke="#3a3a3a" stroke-width="0.6"/>
<text x="483.00" y="154.80" font-size="5" text-anchor="start" font-weight="normal" fill="#111" stroke="#111" stroke-width="0.12">CCR8<tspan font-size="3" dy="-1.65">-/-</tspan><tspan dy="1.65">&#8203;</tspan></text>
<rect x="473.4" y="159.8" width="8.4" height="3.6" fill="#626262" stroke="#3a3a3a" stroke-width="0.6"/>
<text x="483.00" y="163.40" font-size="5" text-anchor="start" font-weight="normal" fill="#111" stroke="#111" stroke-width="0.12">WT</text>
<text x="1.20" y="403.00" font-size="13" text-anchor="start" font-weight="bold" fill="#000">G</text>
<text x="118.25" y="398.30" font-size="5.8" text-anchor="middle" font-weight="bold" fill="#111" stroke="#111" stroke-width="0.24">DCs Without Contact</text>
<line x1="74.25" y1="406.80" x2="74.25" y2="467.30" stroke="#555" stroke-width="0.9"/>
<line x1="71.85" y1="407.00" x2="74.25" y2="407.00" stroke="#3a3a3a" stroke-width="0.7"/>
<text x="71.45" y="408.58" font-size="4.4" text-anchor="end" font-weight="bold" fill="#111" stroke="#111" stroke-width="0.24">15000</text>
<line x1="71.85" y1="427.00" x2="74.25" y2="427.00" stroke="#3a3a3a" stroke-width="0.7"/>
<text x="71.45" y="428.58" font-size="4.4" text-anchor="end" font-weight="bold" fill="#111" stroke="#111" stroke-width="0.24">10000</text>
<line x1="71.85" y1="447.00" x2="74.25" y2="447.00" stroke="#3a3a3a" stroke-width="0.7"/>
<text x="71.45" y="448.58" font-size="4.4" text-anchor="end" font-weight="bold" fill="#111" stroke="#111" stroke-width="0.24">5000</text>
<line x1="71.85" y1="467.00" x2="74.25" y2="467.00" stroke="#3a3a3a" stroke-width="0.7"/>
<text x="71.45" y="468.58" font-size="4.4" text-anchor="end" font-weight="bold" fill="#111" stroke="#111" stroke-width="0.24">0</text>
<line x1="74.25" y1="467.00" x2="153.90" y2="467.00" stroke="#555" stroke-width="0.9"/>
<line x1="100.62" y1="411.25" x2="100.62" y2="408.25" stroke="#5a5a5a" stroke-width="0.7"/>
<line x1="93.88" y1="408.25" x2="107.38" y2="408.25" stroke="#6a6a6a" stroke-width="0.8"/>
<rect x="87.50" y="411.25" width="26.25" height="55.75" fill="#bcbcbc" stroke="#6c6c6c" stroke-width="0.6"/>
<line x1="139.38" y1="413.75" x2="139.38" y2="409.50" stroke="#5a5a5a" stroke-width="0.7"/>
<line x1="132.62" y1="409.50" x2="146.12" y2="409.50" stroke="#6a6a6a" stroke-width="0.8"/>
<rect x="126.25" y="413.75" width="26.25" height="53.25" fill="#626262" stroke="#3c3c3c" stroke-width="0.6"/>
<line x1="100.62" y1="467.00" x2="100.62" y2="468.80" stroke="#3a3a3a" stroke-width="0.6"/>
<line x1="139.38" y1="467.00" x2="139.38" y2="468.80" stroke="#3a3a3a" stroke-width="0.6"/>
<text x="118.25" y="406.20" font-size="6.8" text-anchor="middle" font-weight="normal" fill="#333">NS</text>
<text x="100.22" y="473.60" font-size="4.7" text-anchor="middle" font-weight="bold" fill="#111" stroke="#111" stroke-width="0.24">CCR8<tspan font-size="2.8" dy="-1.54">-/-</tspan><tspan dy="1.54">&#8203;</tspan></text>
<text x="139.28" y="473.60" font-size="4.7" text-anchor="middle" font-weight="bold" fill="#111" stroke="#111" stroke-width="0.24">WT</text>
<text x="120.60" y="479.80" font-size="5.0" text-anchor="middle" font-weight="bold" fill="#111" stroke="#111" stroke-width="0.24">Group</text>
<text transform="translate(57.90 434.40) rotate(-90) scale(1 1)" font-size="4.85" text-anchor="middle" font-weight="bold" fill="#111" stroke="#111" stroke-width="0.24">Absolute Cell Number</text>
<rect x="172.2" y="409" width="9.3" height="3.6" fill="#bcbcbc" stroke="#3a3a3a" stroke-width="0.6"/>
<text x="182.70" y="412.80" font-size="5" text-anchor="start" font-weight="normal" fill="#111" stroke="#111" stroke-width="0.12">CCR8<tspan font-size="3" dy="-1.65">-/-</tspan><tspan dy="1.65">&#8203;</tspan></text>
<rect x="172.2" y="419" width="9.3" height="3.6" fill="#626262" stroke="#3a3a3a" stroke-width="0.6"/>
<text x="182.70" y="422.60" font-size="5" text-anchor="start" font-weight="normal" fill="#111" stroke="#111" stroke-width="0.12">WT</text>
<text x="205.20" y="403.00" font-size="12.6" text-anchor="start" font-weight="bold" fill="#000">H</text>
<text x="280.00" y="398.30" font-size="5.8" text-anchor="middle" font-weight="bold" fill="#111" stroke="#111" stroke-width="0.24">No DCs</text>
<line x1="234.25" y1="406.80" x2="234.25" y2="467.30" stroke="#555" stroke-width="0.9"/>
<line x1="231.85" y1="407.00" x2="234.25" y2="407.00" stroke="#3a3a3a" stroke-width="0.7"/>
<text x="231.45" y="408.58" font-size="4.4" text-anchor="end" font-weight="bold" fill="#111" stroke="#111" stroke-width="0.24">15000</text>
<line x1="231.85" y1="427.00" x2="234.25" y2="427.00" stroke="#3a3a3a" stroke-width="0.7"/>
<text x="231.45" y="428.58" font-size="4.4" text-anchor="end" font-weight="bold" fill="#111" stroke="#111" stroke-width="0.24">10000</text>
<line x1="231.85" y1="447.00" x2="234.25" y2="447.00" stroke="#3a3a3a" stroke-width="0.7"/>
<text x="231.45" y="448.58" font-size="4.4" text-anchor="end" font-weight="bold" fill="#111" stroke="#111" stroke-width="0.24">5000</text>
<line x1="231.85" y1="467.00" x2="234.25" y2="467.00" stroke="#3a3a3a" stroke-width="0.7"/>
<text x="231.45" y="468.58" font-size="4.4" text-anchor="end" font-weight="bold" fill="#111" stroke="#111" stroke-width="0.24">0</text>
<line x1="234.25" y1="467.00" x2="313.90" y2="467.00" stroke="#555" stroke-width="0.9"/>
<line x1="260.62" y1="413.25" x2="260.62" y2="410.75" stroke="#5a5a5a" stroke-width="0.7"/>
<line x1="253.88" y1="410.75" x2="267.38" y2="410.75" stroke="#6a6a6a" stroke-width="0.8"/>
<rect x="247.50" y="413.25" width="26.25" height="53.75" fill="#bcbcbc" stroke="#6c6c6c" stroke-width="0.6"/>
<line x1="299.38" y1="410.00" x2="299.38" y2="407.00" stroke="#5a5a5a" stroke-width="0.7"/>
<line x1="292.62" y1="407.00" x2="306.12" y2="407.00" stroke="#6a6a6a" stroke-width="0.8"/>
<rect x="286.25" y="410.00" width="26.25" height="57.00" fill="#626262" stroke="#3c3c3c" stroke-width="0.6"/>
<line x1="260.62" y1="467.00" x2="260.62" y2="468.80" stroke="#3a3a3a" stroke-width="0.6"/>
<line x1="299.38" y1="467.00" x2="299.38" y2="468.80" stroke="#3a3a3a" stroke-width="0.6"/>
<text x="280.00" y="406.20" font-size="6.8" text-anchor="middle" font-weight="normal" fill="#333">NS</text>
<text x="260.23" y="473.60" font-size="4.7" text-anchor="middle" font-weight="bold" fill="#111" stroke="#111" stroke-width="0.24">CCR8<tspan font-size="2.8" dy="-1.54">-/-</tspan><tspan dy="1.54">&#8203;</tspan></text>
<text x="299.27" y="473.60" font-size="4.7" text-anchor="middle" font-weight="bold" fill="#111" stroke="#111" stroke-width="0.24">WT</text>
<text x="280.60" y="479.80" font-size="5.0" text-anchor="middle" font-weight="bold" fill="#111" stroke="#111" stroke-width="0.24">Group</text>
<text transform="translate(217.90 434.40) rotate(-90) scale(1 1)" font-size="4.85" text-anchor="middle" font-weight="bold" fill="#111" stroke="#111" stroke-width="0.24">Absolute Cell Number</text>
<rect x="330.4" y="409" width="9.3" height="3.6" fill="#bcbcbc" stroke="#3a3a3a" stroke-width="0.6"/>
<text x="340.90" y="412.80" font-size="5" text-anchor="start" font-weight="normal" fill="#111" stroke="#111" stroke-width="0.12">CCR8<tspan font-size="3" dy="-1.65">-/-</tspan><tspan dy="1.65">&#8203;</tspan></text>
<rect x="330.4" y="419" width="9.3" height="3.6" fill="#626262" stroke="#3a3a3a" stroke-width="0.6"/>
<text x="340.90" y="422.60" font-size="5" text-anchor="start" font-weight="normal" fill="#111" stroke="#111" stroke-width="0.12">WT</text>
<text x="370.80" y="403.00" font-size="12" text-anchor="start" font-weight="bold" fill="#000">I</text>
<text x="438.50" y="398.30" font-size="5.8" text-anchor="middle" font-weight="bold" fill="#111" stroke="#111" stroke-width="0.24">DCs With Contact</text>
<line x1="394.25" y1="406.80" x2="394.25" y2="467.30" stroke="#555" stroke-width="0.9"/>
<line x1="391.85" y1="407.00" x2="394.25" y2="407.00" stroke="#3a3a3a" stroke-width="0.7"/>
<text x="391.45" y="408.58" font-size="4.4" text-anchor="end" font-weight="bold" fill="#111" stroke="#111" stroke-width="0.24">15000</text>
<line x1="391.85" y1="427.00" x2="394.25" y2="427.00" stroke="#3a3a3a" stroke-width="0.7"/>
<text x="391.45" y="428.58" font-size="4.4" text-anchor="end" font-weight="bold" fill="#111" stroke="#111" stroke-width="0.24">10000</text>
<line x1="391.85" y1="447.00" x2="394.25" y2="447.00" stroke="#3a3a3a" stroke-width="0.7"/>
<text x="391.45" y="448.58" font-size="4.4" text-anchor="end" font-weight="bold" fill="#111" stroke="#111" stroke-width="0.24">5000</text>
<line x1="391.85" y1="467.00" x2="394.25" y2="467.00" stroke="#3a3a3a" stroke-width="0.7"/>
<text x="391.45" y="468.58" font-size="4.4" text-anchor="end" font-weight="bold" fill="#111" stroke="#111" stroke-width="0.24">0</text>
<line x1="394.25" y1="467.00" x2="473.90" y2="467.00" stroke="#555" stroke-width="0.9"/>
<line x1="420.62" y1="435.50" x2="420.62" y2="432.00" stroke="#5a5a5a" stroke-width="0.7"/>
<line x1="413.88" y1="432.00" x2="427.38" y2="432.00" stroke="#6a6a6a" stroke-width="0.8"/>
<rect x="407.50" y="435.50" width="26.25" height="31.50" fill="#bcbcbc" stroke="#6c6c6c" stroke-width="0.6"/>
<line x1="459.38" y1="418.00" x2="459.38" y2="413.25" stroke="#5a5a5a" stroke-width="0.7"/>
<line x1="452.62" y1="413.25" x2="466.12" y2="413.25" stroke="#6a6a6a" stroke-width="0.8"/>
<rect x="446.25" y="418.00" width="26.25" height="49.00" fill="#626262" stroke="#3c3c3c" stroke-width="0.6"/>
<line x1="420.62" y1="467.00" x2="420.62" y2="468.80" stroke="#3a3a3a" stroke-width="0.6"/>
<line x1="459.38" y1="467.00" x2="459.38" y2="468.80" stroke="#3a3a3a" stroke-width="0.6"/>
<path d="M425.3 422.5V406.1H453.6V412.1" fill="none" stroke="#666" stroke-width="0.85"/>
<text x="439.75" y="406.90" font-size="8" text-anchor="middle" font-weight="bold" fill="#111">*</text>
<text x="420.23" y="473.60" font-size="4.7" text-anchor="middle" font-weight="bold" fill="#111" stroke="#111" stroke-width="0.24">CCR8<tspan font-size="2.8" dy="-1.54">-/-</tspan><tspan dy="1.54">&#8203;</tspan></text>
<text x="459.27" y="473.60" font-size="4.7" text-anchor="middle" font-weight="bold" fill="#111" stroke="#111" stroke-width="0.24">WT</text>
<text x="440.60" y="479.80" font-size="5.0" text-anchor="middle" font-weight="bold" fill="#111" stroke="#111" stroke-width="0.24">Group</text>
<text transform="translate(377.90 434.40) rotate(-90) scale(1 1)" font-size="4.85" text-anchor="middle" font-weight="bold" fill="#111" stroke="#111" stroke-width="0.24">Absolute Cell Number</text>
<rect x="493.4" y="409" width="9.3" height="3.6" fill="#bcbcbc" stroke="#3a3a3a" stroke-width="0.6"/>
<text x="503.90" y="412.80" font-size="5" text-anchor="start" font-weight="normal" fill="#111" stroke="#111" stroke-width="0.12">CCR8<tspan font-size="3" dy="-1.65">-/-</tspan><tspan dy="1.65">&#8203;</tspan></text>
<rect x="493.4" y="419" width="9.3" height="3.6" fill="#626262" stroke="#3a3a3a" stroke-width="0.6"/>
<text x="503.90" y="422.60" font-size="5" text-anchor="start" font-weight="normal" fill="#111" stroke="#111" stroke-width="0.12">WT</text>
</g>
<defs><filter id="bl" x="0" y="0" width="520" height="482" filterUnits="userSpaceOnUse"><feGaussianBlur stdDeviation="0.38"/></filter></defs>
</svg>
</body></html>
